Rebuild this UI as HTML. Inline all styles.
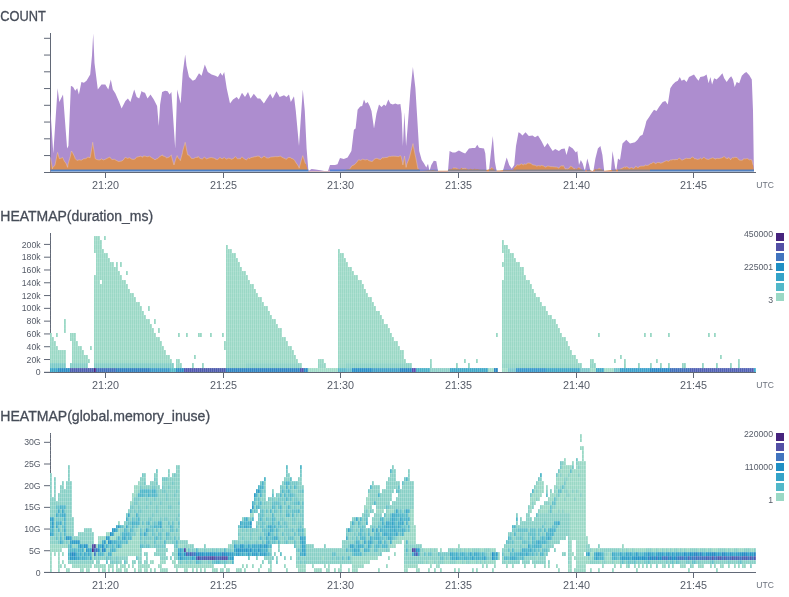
<!DOCTYPE html>
<html><head><meta charset="utf-8"><title>Query results</title>
<style>html,body{margin:0;padding:0;background:#fff;width:789px;height:597px;overflow:hidden}
svg{display:block}</style></head>
<body>
<svg width="789" height="597" viewBox="0 0 789 597" font-family='"Liberation Sans", Arial, sans-serif'>
<defs><pattern id="st" x="0" y="0" width="2" height="10" patternUnits="userSpaceOnUse"><rect x="1" y="0" width="1" height="10" fill="#fff" fill-opacity="0.2"/></pattern></defs>
<text x="0.3" y="20.9" font-size="14" fill="#464c58" text-anchor="start" textLength="45.6" lengthAdjust="spacingAndGlyphs" stroke="#464c58" stroke-width="0.3">COUNT</text>
<text x="0.3" y="221" font-size="14" fill="#464c58" text-anchor="start" textLength="152.8" lengthAdjust="spacingAndGlyphs" stroke="#464c58" stroke-width="0.3">HEATMAP(duration_ms)</text>
<text x="0.3" y="420.7" font-size="14" fill="#464c58" text-anchor="start" textLength="209.8" lengthAdjust="spacingAndGlyphs" stroke="#464c58" stroke-width="0.3">HEATMAP(global.memory_inuse)</text>
<rect x="50" y="33" width="1" height="140" fill="#626977"/><rect x="44" y="155.05" width="6" height="1" fill="#626977"/><rect x="44" y="138.3" width="6" height="1" fill="#626977"/><rect x="44" y="121.55" width="6" height="1" fill="#626977"/><rect x="44" y="104.8" width="6" height="1" fill="#626977"/><rect x="44" y="88.05" width="6" height="1" fill="#626977"/><rect x="44" y="71.3" width="6" height="1" fill="#626977"/><rect x="44" y="54.55" width="6" height="1" fill="#626977"/><rect x="44" y="37.8" width="6" height="1" fill="#626977"/>
<path fill="#ad8dcf" d="M50.5 171.6L50.5 111L53.3 153.6L57.6 88.3L59.3 102L61.3 98L63 94.6L67.1 148.6L68.4 146L70.9 85.8L73.1 87L75.2 90.8L77.2 88.3L78.9 94.6L81.4 82L83.9 82.8L86.5 80.8L90.2 74.5L92 55.6L93.2 33.5L94.5 63L97.8 89.6L101.5 84.5L105.3 84.5L108.3 89.6L110.8 79.5L112.8 89.6L115.3 93.3L119.1 102L121.6 108.4L125.4 100.9L127.9 98.4L130.4 102L134.2 89.6L136.7 97L139.2 98.4L141.7 90.8L142.5 92L145 92.8L147.5 98.4L150.5 94.6L153.8 99.6L157.1 105.9L158.8 126L160.1 104.6L162.1 92L165.1 90.8L167.6 91.3L169.6 94.6L171.4 92L172.7 111L175.2 148.6L177.2 89.6L179 97L180.7 103.4L182.7 73.2L185.2 54.4L186.5 65.7L189 77L192.8 80.8L195.3 79.5L199 73.2L201.6 75.7L204.8 64.4L207.8 72L211.6 74.5L215.4 75.7L217.9 77L220.4 72.7L222.4 75.7L224.2 72L226.7 88.3L230 103.4L233 99.6L236.7 97L238.8 99.6L242 92.8L245 97L248 92L250.6 98.4L253.8 93.8L257.6 98.4L260.1 98.4L263.9 103.4L266.4 99.6L270.2 93.8L272.7 98.4L276.5 91.3L279.7 97L284 95.3L286.5 97L289 94.6L290.8 102L294 96.3L295.8 111L299 146L300.8 118.4L302.8 89.6L304.8 111L306.6 148.6L308.4 171L311.6 169L315.4 169.5L320.4 170.2L324.2 171L328 171L330 165L335 165L337.5 164.2L340 158L343.8 159L347.6 157.4L351.4 151L353.9 129.8L355.6 128.5L357.6 109.7L360.2 106.4L362.2 105.9L364 99.6L365.7 103.4L367.7 102.1L369.7 105.9L371.5 111L374 128.5L376.5 113.4L379 104.6L381.5 107.1L384 104.6L385.8 105.9L388.3 99.6L390.3 103.4L392.8 104.6L395.3 103.4L397.8 104.6L400.4 103.9L401.6 113.4L402.9 146L404.4 112.2L406.1 146L407.9 123.5L410.4 90.8L412.9 67L415.4 88.3L417.4 121L419.2 151L421.7 160L424.2 163.7L426.3 167.4L428 163.7L429.5 171L431.3 165L433.8 160.7L436.3 161.2L438 171L448 171L449.6 151L452.6 152.4L455.2 152.4L458.9 150.6L462.7 152.4L465.2 153.6L469 148.6L472.7 148L475.2 148L477.3 144.8L479 147.8L484 148.6L485.3 153.6L486.6 171L489 170L490.8 153.6L492.8 136L494.8 161.2L496.6 171L502.9 171L504.9 163.7L506.7 157.4L509.2 164.9L511.7 168.7L514.2 164.9L516 146L518.5 132.3L520 133L522.5 135.5L525.5 132.3L528.8 136L532.6 135.5L535 137.3L538 135.5L541.4 141L544.6 147.3L547.6 143L550.2 147.3L552.7 151L555.2 149.1L558.9 151L561.5 149.1L564.7 148.6L566.5 154.9L569 146L572.8 148.6L575.8 152.4L577.3 151L579 165L580.8 160L582.8 163.7L584.8 171L587.3 158.6L589.1 165L590.4 171L593.4 171L595.4 158.6L597.9 148.6L600.4 146L602.4 154.9L604.2 171L611 171L612.5 151L614 160L615.2 168L616.3 170.7L618 158.6L620 160L622.5 143.6L626.3 139.8L630 143.6L635 142.3L637.6 139.8L640.1 136L642.6 134.8L645.2 126L646.4 121L649 117.2L651.4 113.4L654 109.7L656.5 110.9L659 107.1L662.7 102.1L665.3 100.9L667.8 104.6L670.3 88.3L672.8 84.5L675.3 82L677.8 80.8L679.8 77L681.6 80.8L684.1 79.5L686.6 82L689 77L691.5 75.7L694 74.5L696.5 78.3L698.5 80.8L700.3 77L704 76.2L706.6 74.5L708.6 83.3L710.4 77L712.1 84.5L714.1 78.3L716.6 79.5L719.2 77L722.4 73.2L724.2 78.3L726.7 82L729.2 78.3L731.2 76.2L733 79.5L734.7 87L736.7 82L739.2 83.3L741.8 75.7L744.3 73.2L746.3 72L749.3 75.2L751.8 79.5L753 111L753.8 165L754 172L754 171.6Z"/>
<path fill="#d98e54" d="M50.5 171.6L50.5 157.4L52.5 168.7L52.7 167.78L54.9 165.25L55 165L57.1 154.51L57.6 152.4L59.3 158.6L61.5 158.05L62.6 157.4L63.7 159.9L65.1 162.4L65.9 162.96L67.6 167.4L68.1 164.07L70.3 156.56L71.4 151L72.5 152.62L74.7 156.96L75.2 158.6L76.9 160.39L78.9 159.9L79.1 159.79L81.3 160.21L83.5 158.89L85.2 158.6L85.7 158.81L87.9 157.11L90.1 157.75L90.2 157.4L92.3 145.6L92.7 142.3L94.5 154.09L95.2 158.6L96.7 159.56L98.9 159.95L100.3 159.9L101.1 158.71L103.3 159.98L105.5 159.18L107.7 158.09L109.9 157.05L110.3 158.1L112.1 159.53L114.3 159.26L116.5 160.53L118.7 161.59L120.4 161.2L120.9 161.33L123.1 160.16L125.3 157.22L125.4 157.4L127.5 158.37L129.7 157.78L131.9 159.22L134.1 159.34L135.5 158.6L136.3 157.37L138.5 156.73L140.7 156.19L142.9 157.25L143 156.1L145.1 156.1L147.3 156.71L149.5 156.09L150 156.6L151.7 157.74L153.9 158.9L155 159.9L156.1 158.99L157.6 158.6L158.3 158.1L160.1 156.1L160.5 156.11L162.6 154.9L162.7 155.92L164.9 156.49L167.1 158.18L167.6 157.4L169.3 157.14L171.4 154.9L171.5 156.47L173.7 164.25L174 165L175.9 158.61L177.2 155.6L178.1 157.76L180.2 159.9L180.3 160.66L182.5 152.68L182.7 151L184.7 144.21L185.2 142.3L186.9 151.38L187.7 154.9L189.1 155.22L191.3 158.31L192.8 158.6L193.5 158.61L195.7 157.39L197.8 157.4L197.9 156.36L200.1 158.46L202.3 159L204.5 157.04L205.3 158.1L206.7 158.89L208.9 158.06L211.1 157.55L213.3 158L215.4 158.6L215.5 159.25L217.7 159.49L219.9 157.51L222.1 158.87L224.3 157.51L225.4 158.6L226.5 159.12L228.7 158.19L230.5 158.6L230.9 159.35L233.1 158.71L235.3 156.69L235.5 156.6L237.5 158.95L239.7 158.57L240 159.2L241.9 156.82L242.5 157.4L244.1 158.69L246.3 159.9L248.5 158L250 158.6L250.7 157.6L252.9 157.24L255.1 156.6L255.1 156.87L257.3 156.13L259.5 156.21L260.1 157.4L261.7 158.03L263.9 156.35L265.1 156.6L266.1 157.86L268.3 158.05L270.2 157.4L270.5 157.06L272.7 156.9L274.9 156.7L275.2 156.6L277.1 156.76L279.3 156.42L280.2 156.1L281.5 156.88L283.7 158.1L285.3 158.6L285.9 159.46L288.1 157.71L289 157.4L290.3 157.65L292.5 159.03L292.8 158.6L294.7 160.52L296.6 163.7L296.9 163.69L299 167.4L299.1 168.24L301.3 160.31L302.8 155.6L303.5 157.9L305.4 163.7L305.7 163.37L307.9 170.7L307.9 170.7L310 171.3L310.1 171.3L312.3 171.3L314.5 171.3L316.7 171.3L318.9 171.3L321.1 171.3L323.3 171.3L325.5 171.3L327.7 171.3L329.9 171.3L330 171.3L332.1 171.2L334.3 171.1L336.5 170.99L338.7 170.89L340.9 170.78L342.6 170.7L343.1 170.56L345.3 169.97L347.5 169.17L349.7 168.97L350 168.7L351.9 165.75L353.9 165L354.1 165.07L356.3 162.85L357.6 161.2L358.5 159.79L360.7 160.29L362.7 159.2L362.9 159.15L365.1 159.97L367.3 159.49L367.7 159.9L369.5 160.86L371.7 161.51L372.7 161.2L373.9 159.43L376.1 158.38L377.7 158.6L378.3 158.96L380.5 159.44L382.7 157.51L382.8 158.1L384.9 157.58L387.1 157.46L389.3 156.37L390.3 156.6L391.5 156.27L393.7 156.15L395.9 156.29L397.8 156.6L398.1 156.78L400.3 155.73L401 156.1L402.5 162.75L402.9 164.9L404.6 156.1L404.7 157.51L406.1 167.4L406.9 163.92L409.1 158.6L411.3 150.3L413 143.6L413.5 146.77L415.4 156.1L415.7 157.16L417.9 168.7L417.9 168.03L420.1 170.65L420.5 171L422.3 170.88L424.5 170.73L425 170.7L426.7 170.54L428.9 170.34L431.1 170.13L432.5 170L433.3 170.11L435.5 170.41L437.6 170.7L437.7 170.7L439.9 170.7L442.1 170.7L444.3 170.7L446.5 170.7L447.6 170.7L448.7 169.82L450.1 168.7L450.9 169.43L453.1 168.07L455.3 167.95L457.5 168.54L459.7 169.18L461.9 167.74L462.7 168.7L464.1 168.33L466.3 168.45L468.5 169.5L470.7 168.87L472.9 169.5L475.1 168.4L475.2 169.2L477.3 168.96L479.5 169.5L481.7 169.66L483.9 169.81L486.1 169.96L486.6 170L488.3 169.48L490.5 168.9L491.6 167.4L492.7 168.24L494.9 170.27L495.4 170.7L497.1 170.58L499.3 170.43L501.5 170.27L503.7 170.12L505.4 170L505.9 170L508.1 170L510.3 170L512.5 170L512.9 170L514.7 167.3L516.7 165.7L516.9 164.74L519.1 165.19L521.3 163.85L523.5 164.8L525 163.7L525.7 164.51L527.9 162.94L530.1 163.17L531.3 163.7L532.3 164.79L534.5 165.16L535 165L536.7 166.14L538.9 165.55L540.1 166.2L541.1 165.36L543.3 165.86L545.5 167.17L547.7 166.03L549.9 166.32L550.2 166.7L552.1 166.68L554.3 166.89L556.5 167.07L557.7 167.4L558.7 168.17L560.9 165.81L562.7 166.2L563.1 165.27L565.3 168.97L566.5 168.7L567.5 168.94L569.7 167.71L570.2 166.2L571.9 166.71L574.1 168.81L575.3 168.2L576.3 169.23L578.5 167.53L580.3 168.2L580.7 169.05L582.9 169.91L584.1 170.7L585.1 170.56L587.3 170.25L589.1 170L589.5 170.11L591.7 170.68L592.9 171L593.9 170.08L595.4 168.7L596.1 169.41L598.3 168.7L599.1 168.2L600.5 168.93L602.7 169.96L604.2 170.7L604.9 170.63L607.1 170.43L609.3 170.22L611.5 170.02L611.7 170L613.7 169.88L615.9 169.75L618.1 169.61L620 169.5L620.3 168.87L622.5 168.07L624.7 166.87L625 167.4L626.9 166.67L629.1 168.27L630 168.2L631.3 167.48L633.5 168.4L635.1 167.4L635.7 166.16L637.9 167.7L640.1 166.2L642.3 166.1L644.5 166.1L645.2 164.9L646.7 165.49L648.9 164.97L650.2 163.7L651.1 163.79L653.3 162.22L655.2 163.2L655.5 163.79L657.7 162.41L659.9 162.72L660.2 163.2L662.1 162.85L664.3 161.65L665.3 161.2L666.5 160.68L668.7 161.37L670.3 159.9L670.9 160.17L673.1 159.52L675.3 159.9L675.3 159.31L677.5 159.7L679 158.1L679.7 158.38L681.9 160.15L682.8 159.9L684.1 159.21L686.3 158.28L687.9 158.6L688.5 158.49L690.7 158.45L691.6 157.4L692.9 157.02L695.1 159.21L695.4 158.6L697.3 159.42L699.5 158.92L700.4 158.1L701.7 159L703.9 157.26L705.5 158.6L706.1 158.91L708.3 159.47L710.5 158.6L712.7 157.81L714.9 158.64L715 159.2L717.1 158.22L718 158.6L719.3 158.49L721.5 157.94L721.7 158.1L723.7 156.83L724.2 156.6L725.9 158.16L728 158.6L728.1 157.46L730.3 158.73L730.5 159.9L732.5 157.56L733 158.1L734.7 157.37L736.9 157.45L738 158.6L739.1 160.03L741.3 160.31L743 159.9L743.5 158.74L745.7 158.98L746.8 158.6L747.9 158.73L749.3 159.9L750.1 159.45L751.8 159.9L753 164.9L753.8 170L753.8 171.6Z"/>
<path fill="none" stroke="#efc9a6" stroke-width="0.6" stroke-opacity="0.8" d="M50.5 157.4L52.5 168.7L52.7 167.78L54.9 165.25L55 165L57.1 154.51L57.6 152.4L59.3 158.6L61.5 158.05L62.6 157.4L63.7 159.9L65.1 162.4L65.9 162.96L67.6 167.4L68.1 164.07L70.3 156.56L71.4 151L72.5 152.62L74.7 156.96L75.2 158.6L76.9 160.39L78.9 159.9L79.1 159.79L81.3 160.21L83.5 158.89L85.2 158.6L85.7 158.81L87.9 157.11L90.1 157.75L90.2 157.4L92.3 145.6L92.7 142.3L94.5 154.09L95.2 158.6L96.7 159.56L98.9 159.95L100.3 159.9L101.1 158.71L103.3 159.98L105.5 159.18L107.7 158.09L109.9 157.05L110.3 158.1L112.1 159.53L114.3 159.26L116.5 160.53L118.7 161.59L120.4 161.2L120.9 161.33L123.1 160.16L125.3 157.22L125.4 157.4L127.5 158.37L129.7 157.78L131.9 159.22L134.1 159.34L135.5 158.6L136.3 157.37L138.5 156.73L140.7 156.19L142.9 157.25L143 156.1L145.1 156.1L147.3 156.71L149.5 156.09L150 156.6L151.7 157.74L153.9 158.9L155 159.9L156.1 158.99L157.6 158.6L158.3 158.1L160.1 156.1L160.5 156.11L162.6 154.9L162.7 155.92L164.9 156.49L167.1 158.18L167.6 157.4L169.3 157.14L171.4 154.9L171.5 156.47L173.7 164.25L174 165L175.9 158.61L177.2 155.6L178.1 157.76L180.2 159.9L180.3 160.66L182.5 152.68L182.7 151L184.7 144.21L185.2 142.3L186.9 151.38L187.7 154.9L189.1 155.22L191.3 158.31L192.8 158.6L193.5 158.61L195.7 157.39L197.8 157.4L197.9 156.36L200.1 158.46L202.3 159L204.5 157.04L205.3 158.1L206.7 158.89L208.9 158.06L211.1 157.55L213.3 158L215.4 158.6L215.5 159.25L217.7 159.49L219.9 157.51L222.1 158.87L224.3 157.51L225.4 158.6L226.5 159.12L228.7 158.19L230.5 158.6L230.9 159.35L233.1 158.71L235.3 156.69L235.5 156.6L237.5 158.95L239.7 158.57L240 159.2L241.9 156.82L242.5 157.4L244.1 158.69L246.3 159.9L248.5 158L250 158.6L250.7 157.6L252.9 157.24L255.1 156.6L255.1 156.87L257.3 156.13L259.5 156.21L260.1 157.4L261.7 158.03L263.9 156.35L265.1 156.6L266.1 157.86L268.3 158.05L270.2 157.4L270.5 157.06L272.7 156.9L274.9 156.7L275.2 156.6L277.1 156.76L279.3 156.42L280.2 156.1L281.5 156.88L283.7 158.1L285.3 158.6L285.9 159.46L288.1 157.71L289 157.4L290.3 157.65L292.5 159.03L292.8 158.6L294.7 160.52L296.6 163.7L296.9 163.69L299 167.4L299.1 168.24L301.3 160.31L302.8 155.6L303.5 157.9L305.4 163.7L305.7 163.37M349.7 168.97L350 168.7L351.9 165.75L353.9 165L354.1 165.07L356.3 162.85L357.6 161.2L358.5 159.79L360.7 160.29L362.7 159.2L362.9 159.15L365.1 159.97L367.3 159.49L367.7 159.9L369.5 160.86L371.7 161.51L372.7 161.2L373.9 159.43L376.1 158.38L377.7 158.6L378.3 158.96L380.5 159.44L382.7 157.51L382.8 158.1L384.9 157.58L387.1 157.46L389.3 156.37L390.3 156.6L391.5 156.27L393.7 156.15L395.9 156.29L397.8 156.6L398.1 156.78L400.3 155.73L401 156.1L402.5 162.75L402.9 164.9L404.6 156.1L404.7 157.51L406.1 167.4L406.9 163.92L409.1 158.6L411.3 150.3L413 143.6L413.5 146.77L415.4 156.1L415.7 157.16L417.9 168.7L417.9 168.03M450.1 168.7M453.1 168.07L455.3 167.95L457.5 168.54M461.9 167.74L462.7 168.7L464.1 168.33L466.3 168.45M470.7 168.87M475.1 168.4M477.3 168.96M490.5 168.9L491.6 167.4L492.7 168.24M514.7 167.3L516.7 165.7L516.9 164.74L519.1 165.19L521.3 163.85L523.5 164.8L525 163.7L525.7 164.51L527.9 162.94L530.1 163.17L531.3 163.7L532.3 164.79L534.5 165.16L535 165L536.7 166.14L538.9 165.55L540.1 166.2L541.1 165.36L543.3 165.86L545.5 167.17L547.7 166.03L549.9 166.32L550.2 166.7L552.1 166.68L554.3 166.89L556.5 167.07L557.7 167.4L558.7 168.17L560.9 165.81L562.7 166.2L563.1 165.27L565.3 168.97L566.5 168.7L567.5 168.94L569.7 167.71L570.2 166.2L571.9 166.71L574.1 168.81L575.3 168.2M578.5 167.53L580.3 168.2M595.4 168.7M598.3 168.7L599.1 168.2L600.5 168.93M620.3 168.87L622.5 168.07L624.7 166.87L625 167.4L626.9 166.67L629.1 168.27L630 168.2L631.3 167.48L633.5 168.4L635.1 167.4L635.7 166.16L637.9 167.7L640.1 166.2L642.3 166.1L644.5 166.1L645.2 164.9L646.7 165.49L648.9 164.97L650.2 163.7L651.1 163.79L653.3 162.22L655.2 163.2L655.5 163.79L657.7 162.41L659.9 162.72L660.2 163.2L662.1 162.85L664.3 161.65L665.3 161.2L666.5 160.68L668.7 161.37L670.3 159.9L670.9 160.17L673.1 159.52L675.3 159.9L675.3 159.31L677.5 159.7L679 158.1L679.7 158.38L681.9 160.15L682.8 159.9L684.1 159.21L686.3 158.28L687.9 158.6L688.5 158.49L690.7 158.45L691.6 157.4L692.9 157.02L695.1 159.21L695.4 158.6L697.3 159.42L699.5 158.92L700.4 158.1L701.7 159L703.9 157.26L705.5 158.6L706.1 158.91L708.3 159.47L710.5 158.6L712.7 157.81L714.9 158.64L715 159.2L717.1 158.22L718 158.6L719.3 158.49L721.5 157.94L721.7 158.1L723.7 156.83L724.2 156.6L725.9 158.16L728 158.6L728.1 157.46L730.3 158.73L730.5 159.9L732.5 157.56L733 158.1L734.7 157.37L736.9 157.45L738 158.6L739.1 160.03L741.3 160.31L743 159.9L743.5 158.74L745.7 158.98L746.8 158.6L747.9 158.73L749.3 159.9L750.1 159.45L751.8 159.9L753 164.9"/>
<rect x="50.5" y="169.6" width="258" height="1.3" fill="#2b79d8" opacity="0.95"/>
<rect x="50.5" y="170.9" width="258" height="1.1" fill="#92b2dc" opacity="0.95"/>
<rect x="330" y="169.6" width="90" height="1.3" fill="#2b79d8" opacity="0.8"/>
<rect x="330" y="170.9" width="90" height="1.1" fill="#92b2dc" opacity="0.8"/>
<rect x="420" y="169.6" width="18" height="1.3" fill="#2b79d8" opacity="0.4"/>
<rect x="420" y="170.9" width="18" height="1.1" fill="#92b2dc" opacity="0.4"/>
<rect x="448" y="169.6" width="38.6" height="1.3" fill="#2b79d8" opacity="0.5"/>
<rect x="448" y="170.9" width="38.6" height="1.1" fill="#92b2dc" opacity="0.5"/>
<rect x="489" y="169.6" width="7.6" height="1.3" fill="#2b79d8" opacity="0.4"/>
<rect x="489" y="170.9" width="7.6" height="1.1" fill="#92b2dc" opacity="0.4"/>
<rect x="503" y="169.6" width="13" height="1.3" fill="#2b79d8" opacity="0.4"/>
<rect x="503" y="170.9" width="13" height="1.1" fill="#92b2dc" opacity="0.4"/>
<rect x="516" y="169.6" width="69" height="1.3" fill="#2b79d8" opacity="0.5"/>
<rect x="516" y="170.9" width="69" height="1.1" fill="#92b2dc" opacity="0.5"/>
<rect x="587" y="169.6" width="3.4" height="1.3" fill="#2b79d8" opacity="0.4"/>
<rect x="587" y="170.9" width="3.4" height="1.1" fill="#92b2dc" opacity="0.4"/>
<rect x="595" y="169.6" width="9" height="1.3" fill="#2b79d8" opacity="0.4"/>
<rect x="595" y="170.9" width="9" height="1.1" fill="#92b2dc" opacity="0.4"/>
<rect x="612" y="169.6" width="4" height="1.3" fill="#2b79d8" opacity="0.4"/>
<rect x="612" y="170.9" width="4" height="1.1" fill="#92b2dc" opacity="0.4"/>
<rect x="618" y="169.6" width="32" height="1.3" fill="#2b79d8" opacity="0.5"/>
<rect x="618" y="170.9" width="32" height="1.1" fill="#92b2dc" opacity="0.5"/>
<rect x="650" y="169.6" width="104" height="1.3" fill="#2b79d8" opacity="0.9"/>
<rect x="650" y="170.9" width="104" height="1.1" fill="#92b2dc" opacity="0.9"/>
<rect x="44" y="172" width="712" height="1" fill="#626977"/><rect x="105" y="173" width="1" height="5" fill="#626977"/><text x="105.5" y="188.9" font-size="10.8" fill="#555b67" text-anchor="middle">21:20</text><rect x="223" y="173" width="1" height="5" fill="#626977"/><text x="223.5" y="188.9" font-size="10.8" fill="#555b67" text-anchor="middle">21:25</text><rect x="340" y="173" width="1" height="5" fill="#626977"/><text x="340.5" y="188.9" font-size="10.8" fill="#555b67" text-anchor="middle">21:30</text><rect x="458" y="173" width="1" height="5" fill="#626977"/><text x="458.5" y="188.9" font-size="10.8" fill="#555b67" text-anchor="middle">21:35</text><rect x="576" y="173" width="1" height="5" fill="#626977"/><text x="576.5" y="188.9" font-size="10.8" fill="#555b67" text-anchor="middle">21:40</text><rect x="693" y="173" width="1" height="5" fill="#626977"/><text x="693.5" y="188.9" font-size="10.8" fill="#555b67" text-anchor="middle">21:45</text><text x="756.3" y="187.9" font-size="9.2" fill="#6b717c" text-anchor="start" textLength="17.6" lengthAdjust="spacingAndGlyphs">UTC</text>
<rect x="50" y="233" width="1" height="140" fill="#626977"/><rect x="44" y="371.8" width="6" height="1" fill="#626977"/><text x="40.6" y="375.4" font-size="8.7" fill="#555b67" text-anchor="end">0</text><rect x="44" y="359.01" width="6" height="1" fill="#626977"/><text x="40.6" y="362.61" font-size="8.7" fill="#555b67" text-anchor="end">20k</text><rect x="44" y="346.22" width="6" height="1" fill="#626977"/><text x="40.6" y="349.82" font-size="8.7" fill="#555b67" text-anchor="end">40k</text><rect x="44" y="333.43" width="6" height="1" fill="#626977"/><text x="40.6" y="337.03" font-size="8.7" fill="#555b67" text-anchor="end">60k</text><rect x="44" y="320.64" width="6" height="1" fill="#626977"/><text x="40.6" y="324.24" font-size="8.7" fill="#555b67" text-anchor="end">80k</text><rect x="44" y="307.85" width="6" height="1" fill="#626977"/><text x="40.6" y="311.45" font-size="8.7" fill="#555b67" text-anchor="end">100k</text><rect x="44" y="295.06" width="6" height="1" fill="#626977"/><text x="40.6" y="298.66" font-size="8.7" fill="#555b67" text-anchor="end">120k</text><rect x="44" y="282.27" width="6" height="1" fill="#626977"/><text x="40.6" y="285.87" font-size="8.7" fill="#555b67" text-anchor="end">140k</text><rect x="44" y="269.48" width="6" height="1" fill="#626977"/><text x="40.6" y="273.08" font-size="8.7" fill="#555b67" text-anchor="end">160k</text><rect x="44" y="256.69" width="6" height="1" fill="#626977"/><text x="40.6" y="260.29" font-size="8.7" fill="#555b67" text-anchor="end">180k</text><rect x="44" y="243.9" width="6" height="1" fill="#626977"/><text x="40.6" y="247.5" font-size="8.7" fill="#555b67" text-anchor="end">200k</text>
<g shape-rendering="crispEdges"><path fill="#7acac7" d="M50 363.3h2v4.4h-2zM52 363.3h2v4.4h-2zM54 363.3h2v4.4h-2zM56 363.3h2v4.4h-2zM58 363.3h2v4.4h-2zM60 363.3h2v4.4h-2zM62 363.3h2v4.4h-2zM64 363.3h2v4.4h-2z"/><path fill="#9ad8c5" d="M50 358.9h2v4.4h-2zM50 354.5h2v4.4h-2zM50 350.1h2v4.4h-2zM50 345.7h2v4.4h-2zM50 341.3h2v4.4h-2zM50 336.9h2v4.4h-2zM50 332.5h2v4.4h-2zM52 358.9h2v4.4h-2zM52 354.5h2v4.4h-2zM52 350.1h2v4.4h-2zM52 345.7h2v4.4h-2zM52 341.3h2v4.4h-2zM52 336.9h2v4.4h-2zM54 358.9h2v4.4h-2zM54 354.5h2v4.4h-2zM54 350.1h2v4.4h-2zM54 345.7h2v4.4h-2zM54 341.3h2v4.4h-2zM56 358.9h2v4.4h-2zM56 354.5h2v4.4h-2zM56 350.1h2v4.4h-2zM56 345.7h2v4.4h-2zM58 358.9h2v4.4h-2zM58 354.5h2v4.4h-2zM58 350.1h2v4.4h-2zM60 358.9h2v4.4h-2zM60 354.5h2v4.4h-2zM60 350.1h2v4.4h-2zM62 358.9h2v4.4h-2zM62 354.5h2v4.4h-2zM62 350.1h2v4.4h-2zM64 358.9h2v4.4h-2zM64 354.5h2v4.4h-2zM64 350.1h2v4.4h-2zM70 336.9h2v4.4h-2zM70 332.5h2v4.4h-2zM72 358.9h2v4.4h-2zM72 354.5h2v4.4h-2zM72 350.1h2v4.4h-2zM72 345.7h2v4.4h-2zM72 341.3h2v4.4h-2zM72 336.9h2v4.4h-2zM72 332.5h2v4.4h-2zM74 358.9h2v4.4h-2zM74 354.5h2v4.4h-2zM74 350.1h2v4.4h-2zM74 345.7h2v4.4h-2zM74 341.3h2v4.4h-2zM74 336.9h2v4.4h-2zM74 332.5h2v4.4h-2zM76 358.9h2v4.4h-2zM76 354.5h2v4.4h-2zM76 350.1h2v4.4h-2zM76 345.7h2v4.4h-2zM76 341.3h2v4.4h-2zM78 358.9h2v4.4h-2zM78 354.5h2v4.4h-2zM78 350.1h2v4.4h-2zM78 345.7h2v4.4h-2zM80 358.9h2v4.4h-2zM80 354.5h2v4.4h-2zM80 350.1h2v4.4h-2zM80 345.7h2v4.4h-2zM82 358.9h2v4.4h-2zM82 354.5h2v4.4h-2zM82 350.1h2v4.4h-2zM84 358.9h2v4.4h-2zM84 354.5h2v4.4h-2zM86 358.9h2v4.4h-2zM86 354.5h2v4.4h-2zM88 358.9h2v4.4h-2zM94 358.9h2v4.4h-2zM94 354.5h2v4.4h-2zM94 350.1h2v4.4h-2zM94 345.7h2v4.4h-2zM94 341.3h2v4.4h-2zM94 336.9h2v4.4h-2zM94 332.5h2v4.4h-2zM94 328.1h2v4.4h-2zM94 323.7h2v4.4h-2zM94 319.3h2v4.4h-2zM94 314.9h2v4.4h-2zM94 310.5h2v4.4h-2zM94 306.1h2v4.4h-2zM94 301.7h2v4.4h-2zM94 297.3h2v4.4h-2zM94 292.9h2v4.4h-2zM94 288.5h2v4.4h-2zM94 284.1h2v4.4h-2zM94 279.7h2v4.4h-2zM94 275.3h2v4.4h-2zM94 248.9h2v4.4h-2zM94 244.5h2v4.4h-2zM94 240.1h2v4.4h-2zM94 235.7h2v4.4h-2zM96 358.9h2v4.4h-2zM96 354.5h2v4.4h-2zM96 350.1h2v4.4h-2zM96 345.7h2v4.4h-2zM96 341.3h2v4.4h-2zM96 336.9h2v4.4h-2zM96 332.5h2v4.4h-2zM96 328.1h2v4.4h-2zM96 323.7h2v4.4h-2zM96 319.3h2v4.4h-2zM96 314.9h2v4.4h-2zM96 310.5h2v4.4h-2zM96 306.1h2v4.4h-2zM96 301.7h2v4.4h-2zM96 297.3h2v4.4h-2zM96 292.9h2v4.4h-2zM96 288.5h2v4.4h-2zM96 284.1h2v4.4h-2zM96 279.7h2v4.4h-2zM96 275.3h2v4.4h-2zM96 270.9h2v4.4h-2zM96 266.5h2v4.4h-2zM96 262.1h2v4.4h-2zM96 257.7h2v4.4h-2zM96 253.3h2v4.4h-2zM96 248.9h2v4.4h-2zM96 244.5h2v4.4h-2zM96 240.1h2v4.4h-2zM96 235.7h2v4.4h-2zM98 358.9h2v4.4h-2zM98 354.5h2v4.4h-2zM98 350.1h2v4.4h-2zM98 345.7h2v4.4h-2zM98 341.3h2v4.4h-2zM98 336.9h2v4.4h-2zM98 332.5h2v4.4h-2zM98 328.1h2v4.4h-2zM98 323.7h2v4.4h-2zM98 319.3h2v4.4h-2zM98 314.9h2v4.4h-2zM98 310.5h2v4.4h-2zM98 306.1h2v4.4h-2zM98 301.7h2v4.4h-2zM98 297.3h2v4.4h-2zM98 292.9h2v4.4h-2zM98 288.5h2v4.4h-2zM98 284.1h2v4.4h-2zM98 279.7h2v4.4h-2zM98 275.3h2v4.4h-2zM98 270.9h2v4.4h-2zM98 266.5h2v4.4h-2zM98 262.1h2v4.4h-2zM98 257.7h2v4.4h-2zM98 253.3h2v4.4h-2zM98 248.9h2v4.4h-2zM98 244.5h2v4.4h-2zM98 240.1h2v4.4h-2zM98 235.7h2v4.4h-2zM100 358.9h2v4.4h-2zM100 354.5h2v4.4h-2zM100 350.1h2v4.4h-2zM100 345.7h2v4.4h-2zM100 341.3h2v4.4h-2zM100 336.9h2v4.4h-2zM100 332.5h2v4.4h-2zM100 328.1h2v4.4h-2zM100 323.7h2v4.4h-2zM100 319.3h2v4.4h-2zM100 314.9h2v4.4h-2zM100 310.5h2v4.4h-2zM100 306.1h2v4.4h-2zM100 301.7h2v4.4h-2zM100 297.3h2v4.4h-2zM100 292.9h2v4.4h-2zM100 288.5h2v4.4h-2zM100 284.1h2v4.4h-2zM100 275.3h2v4.4h-2zM100 270.9h2v4.4h-2zM100 266.5h2v4.4h-2zM100 262.1h2v4.4h-2zM100 257.7h2v4.4h-2zM100 253.3h2v4.4h-2zM100 248.9h2v4.4h-2zM100 244.5h2v4.4h-2zM100 240.1h2v4.4h-2zM102 358.9h2v4.4h-2zM102 354.5h2v4.4h-2zM102 350.1h2v4.4h-2zM102 345.7h2v4.4h-2zM102 341.3h2v4.4h-2zM102 336.9h2v4.4h-2zM102 332.5h2v4.4h-2zM102 328.1h2v4.4h-2zM102 323.7h2v4.4h-2zM102 319.3h2v4.4h-2zM102 314.9h2v4.4h-2zM102 310.5h2v4.4h-2zM102 306.1h2v4.4h-2zM102 301.7h2v4.4h-2zM102 297.3h2v4.4h-2zM102 292.9h2v4.4h-2zM102 288.5h2v4.4h-2zM102 284.1h2v4.4h-2zM102 279.7h2v4.4h-2zM102 275.3h2v4.4h-2zM102 270.9h2v4.4h-2zM102 266.5h2v4.4h-2zM102 262.1h2v4.4h-2zM102 257.7h2v4.4h-2zM102 253.3h2v4.4h-2zM102 248.9h2v4.4h-2zM104 358.9h2v4.4h-2zM104 354.5h2v4.4h-2zM104 350.1h2v4.4h-2zM104 345.7h2v4.4h-2zM104 341.3h2v4.4h-2zM104 336.9h2v4.4h-2zM104 332.5h2v4.4h-2zM104 328.1h2v4.4h-2zM104 323.7h2v4.4h-2zM104 319.3h2v4.4h-2zM104 314.9h2v4.4h-2zM104 310.5h2v4.4h-2zM104 306.1h2v4.4h-2zM104 301.7h2v4.4h-2zM104 297.3h2v4.4h-2zM104 292.9h2v4.4h-2zM104 288.5h2v4.4h-2zM104 284.1h2v4.4h-2zM104 279.7h2v4.4h-2zM104 275.3h2v4.4h-2zM104 270.9h2v4.4h-2zM104 266.5h2v4.4h-2zM104 262.1h2v4.4h-2zM104 257.7h2v4.4h-2zM104 253.3h2v4.4h-2zM106 358.9h2v4.4h-2zM106 354.5h2v4.4h-2zM106 350.1h2v4.4h-2zM106 345.7h2v4.4h-2zM106 341.3h2v4.4h-2zM106 336.9h2v4.4h-2zM106 332.5h2v4.4h-2zM106 328.1h2v4.4h-2zM106 323.7h2v4.4h-2zM106 319.3h2v4.4h-2zM106 314.9h2v4.4h-2zM106 310.5h2v4.4h-2zM106 306.1h2v4.4h-2zM106 301.7h2v4.4h-2zM106 297.3h2v4.4h-2zM106 292.9h2v4.4h-2zM106 288.5h2v4.4h-2zM106 284.1h2v4.4h-2zM106 279.7h2v4.4h-2zM106 275.3h2v4.4h-2zM106 270.9h2v4.4h-2zM106 266.5h2v4.4h-2zM106 262.1h2v4.4h-2zM106 257.7h2v4.4h-2zM106 253.3h2v4.4h-2zM108 358.9h2v4.4h-2zM108 354.5h2v4.4h-2zM108 350.1h2v4.4h-2zM108 345.7h2v4.4h-2zM108 341.3h2v4.4h-2zM108 336.9h2v4.4h-2zM108 332.5h2v4.4h-2zM108 328.1h2v4.4h-2zM108 323.7h2v4.4h-2zM108 319.3h2v4.4h-2zM108 314.9h2v4.4h-2zM108 310.5h2v4.4h-2zM108 306.1h2v4.4h-2zM108 301.7h2v4.4h-2zM108 297.3h2v4.4h-2zM108 292.9h2v4.4h-2zM108 288.5h2v4.4h-2zM108 284.1h2v4.4h-2zM108 279.7h2v4.4h-2zM108 275.3h2v4.4h-2zM108 270.9h2v4.4h-2zM108 266.5h2v4.4h-2zM108 262.1h2v4.4h-2zM108 257.7h2v4.4h-2zM110 358.9h2v4.4h-2zM110 354.5h2v4.4h-2zM110 350.1h2v4.4h-2zM110 345.7h2v4.4h-2zM110 341.3h2v4.4h-2zM110 336.9h2v4.4h-2zM110 332.5h2v4.4h-2zM110 328.1h2v4.4h-2zM110 323.7h2v4.4h-2zM110 319.3h2v4.4h-2zM110 314.9h2v4.4h-2zM110 310.5h2v4.4h-2zM110 306.1h2v4.4h-2zM110 301.7h2v4.4h-2zM110 297.3h2v4.4h-2zM110 292.9h2v4.4h-2zM110 288.5h2v4.4h-2zM110 284.1h2v4.4h-2zM110 279.7h2v4.4h-2zM110 275.3h2v4.4h-2zM110 270.9h2v4.4h-2zM110 266.5h2v4.4h-2zM110 262.1h2v4.4h-2zM112 358.9h2v4.4h-2zM112 354.5h2v4.4h-2zM112 350.1h2v4.4h-2zM112 345.7h2v4.4h-2zM112 341.3h2v4.4h-2zM112 336.9h2v4.4h-2zM112 332.5h2v4.4h-2zM112 328.1h2v4.4h-2zM112 323.7h2v4.4h-2zM112 319.3h2v4.4h-2zM112 314.9h2v4.4h-2zM112 310.5h2v4.4h-2zM112 306.1h2v4.4h-2zM112 301.7h2v4.4h-2zM112 297.3h2v4.4h-2zM112 292.9h2v4.4h-2zM112 288.5h2v4.4h-2zM112 284.1h2v4.4h-2zM112 279.7h2v4.4h-2zM112 275.3h2v4.4h-2zM112 270.9h2v4.4h-2zM112 266.5h2v4.4h-2zM112 262.1h2v4.4h-2zM114 358.9h2v4.4h-2zM114 354.5h2v4.4h-2zM114 350.1h2v4.4h-2zM114 345.7h2v4.4h-2zM114 341.3h2v4.4h-2zM114 336.9h2v4.4h-2zM114 332.5h2v4.4h-2zM114 328.1h2v4.4h-2zM114 323.7h2v4.4h-2zM114 319.3h2v4.4h-2zM114 314.9h2v4.4h-2zM114 310.5h2v4.4h-2zM114 306.1h2v4.4h-2zM114 301.7h2v4.4h-2zM114 297.3h2v4.4h-2zM114 292.9h2v4.4h-2zM114 288.5h2v4.4h-2zM114 284.1h2v4.4h-2zM114 279.7h2v4.4h-2zM114 275.3h2v4.4h-2zM114 270.9h2v4.4h-2zM114 266.5h2v4.4h-2zM116 358.9h2v4.4h-2zM116 354.5h2v4.4h-2zM116 350.1h2v4.4h-2zM116 345.7h2v4.4h-2zM116 341.3h2v4.4h-2zM116 336.9h2v4.4h-2zM116 332.5h2v4.4h-2zM116 328.1h2v4.4h-2zM116 323.7h2v4.4h-2zM116 319.3h2v4.4h-2zM116 314.9h2v4.4h-2zM116 310.5h2v4.4h-2zM116 306.1h2v4.4h-2zM116 301.7h2v4.4h-2zM116 297.3h2v4.4h-2zM116 292.9h2v4.4h-2zM116 288.5h2v4.4h-2zM116 284.1h2v4.4h-2zM116 279.7h2v4.4h-2zM116 275.3h2v4.4h-2zM116 270.9h2v4.4h-2zM116 266.5h2v4.4h-2zM118 358.9h2v4.4h-2zM118 354.5h2v4.4h-2zM118 350.1h2v4.4h-2zM118 345.7h2v4.4h-2zM118 341.3h2v4.4h-2zM118 336.9h2v4.4h-2zM118 332.5h2v4.4h-2zM118 328.1h2v4.4h-2zM118 323.7h2v4.4h-2zM118 319.3h2v4.4h-2zM118 314.9h2v4.4h-2zM118 310.5h2v4.4h-2zM118 306.1h2v4.4h-2zM118 301.7h2v4.4h-2zM118 297.3h2v4.4h-2zM118 292.9h2v4.4h-2zM118 288.5h2v4.4h-2zM118 284.1h2v4.4h-2zM118 279.7h2v4.4h-2zM118 275.3h2v4.4h-2zM118 270.9h2v4.4h-2zM120 358.9h2v4.4h-2zM120 354.5h2v4.4h-2zM120 350.1h2v4.4h-2zM120 345.7h2v4.4h-2zM120 341.3h2v4.4h-2zM120 336.9h2v4.4h-2zM120 332.5h2v4.4h-2zM120 328.1h2v4.4h-2zM120 323.7h2v4.4h-2zM120 319.3h2v4.4h-2zM120 314.9h2v4.4h-2zM120 310.5h2v4.4h-2zM120 306.1h2v4.4h-2zM120 301.7h2v4.4h-2zM120 297.3h2v4.4h-2zM120 292.9h2v4.4h-2zM120 288.5h2v4.4h-2zM120 284.1h2v4.4h-2zM120 279.7h2v4.4h-2zM120 275.3h2v4.4h-2zM122 358.9h2v4.4h-2zM122 354.5h2v4.4h-2zM122 350.1h2v4.4h-2zM122 345.7h2v4.4h-2zM122 341.3h2v4.4h-2zM122 336.9h2v4.4h-2zM122 332.5h2v4.4h-2zM122 328.1h2v4.4h-2zM122 323.7h2v4.4h-2zM122 319.3h2v4.4h-2zM122 314.9h2v4.4h-2zM122 310.5h2v4.4h-2zM122 306.1h2v4.4h-2zM122 301.7h2v4.4h-2zM122 297.3h2v4.4h-2zM122 292.9h2v4.4h-2zM122 288.5h2v4.4h-2zM122 284.1h2v4.4h-2zM122 279.7h2v4.4h-2zM124 358.9h2v4.4h-2zM124 354.5h2v4.4h-2zM124 350.1h2v4.4h-2zM124 345.7h2v4.4h-2zM124 341.3h2v4.4h-2zM124 336.9h2v4.4h-2zM124 332.5h2v4.4h-2zM124 328.1h2v4.4h-2zM124 323.7h2v4.4h-2zM124 319.3h2v4.4h-2zM124 314.9h2v4.4h-2zM124 310.5h2v4.4h-2zM124 306.1h2v4.4h-2zM124 301.7h2v4.4h-2zM124 297.3h2v4.4h-2zM124 292.9h2v4.4h-2zM124 288.5h2v4.4h-2zM124 284.1h2v4.4h-2zM124 279.7h2v4.4h-2zM126 358.9h2v4.4h-2zM126 354.5h2v4.4h-2zM126 350.1h2v4.4h-2zM126 345.7h2v4.4h-2zM126 341.3h2v4.4h-2zM126 336.9h2v4.4h-2zM126 332.5h2v4.4h-2zM126 328.1h2v4.4h-2zM126 323.7h2v4.4h-2zM126 319.3h2v4.4h-2zM126 314.9h2v4.4h-2zM126 310.5h2v4.4h-2zM126 306.1h2v4.4h-2zM126 301.7h2v4.4h-2zM126 297.3h2v4.4h-2zM126 292.9h2v4.4h-2zM126 288.5h2v4.4h-2zM126 284.1h2v4.4h-2zM128 358.9h2v4.4h-2zM128 354.5h2v4.4h-2zM128 350.1h2v4.4h-2zM128 345.7h2v4.4h-2zM128 341.3h2v4.4h-2zM128 336.9h2v4.4h-2zM128 332.5h2v4.4h-2zM128 328.1h2v4.4h-2zM128 323.7h2v4.4h-2zM128 319.3h2v4.4h-2zM128 314.9h2v4.4h-2zM128 310.5h2v4.4h-2zM128 306.1h2v4.4h-2zM128 301.7h2v4.4h-2zM128 297.3h2v4.4h-2zM128 292.9h2v4.4h-2zM128 288.5h2v4.4h-2zM130 358.9h2v4.4h-2zM130 354.5h2v4.4h-2zM130 350.1h2v4.4h-2zM130 345.7h2v4.4h-2zM130 341.3h2v4.4h-2zM130 336.9h2v4.4h-2zM130 332.5h2v4.4h-2zM130 328.1h2v4.4h-2zM130 323.7h2v4.4h-2zM130 319.3h2v4.4h-2zM130 314.9h2v4.4h-2zM130 310.5h2v4.4h-2zM130 306.1h2v4.4h-2zM130 301.7h2v4.4h-2zM130 297.3h2v4.4h-2zM130 292.9h2v4.4h-2zM132 358.9h2v4.4h-2zM132 354.5h2v4.4h-2zM132 350.1h2v4.4h-2zM132 345.7h2v4.4h-2zM132 341.3h2v4.4h-2zM132 336.9h2v4.4h-2zM132 332.5h2v4.4h-2zM132 328.1h2v4.4h-2zM132 323.7h2v4.4h-2zM132 319.3h2v4.4h-2zM132 314.9h2v4.4h-2zM132 310.5h2v4.4h-2zM132 306.1h2v4.4h-2zM132 301.7h2v4.4h-2zM132 297.3h2v4.4h-2zM132 292.9h2v4.4h-2zM134 358.9h2v4.4h-2zM134 354.5h2v4.4h-2zM134 350.1h2v4.4h-2zM134 345.7h2v4.4h-2zM134 341.3h2v4.4h-2zM134 336.9h2v4.4h-2zM134 332.5h2v4.4h-2zM134 328.1h2v4.4h-2zM134 323.7h2v4.4h-2zM134 319.3h2v4.4h-2zM134 314.9h2v4.4h-2zM134 310.5h2v4.4h-2zM134 306.1h2v4.4h-2zM134 301.7h2v4.4h-2zM134 297.3h2v4.4h-2zM136 358.9h2v4.4h-2zM136 354.5h2v4.4h-2zM136 350.1h2v4.4h-2zM136 345.7h2v4.4h-2zM136 341.3h2v4.4h-2zM136 336.9h2v4.4h-2zM136 332.5h2v4.4h-2zM136 328.1h2v4.4h-2zM136 323.7h2v4.4h-2zM136 319.3h2v4.4h-2zM136 314.9h2v4.4h-2zM136 310.5h2v4.4h-2zM136 306.1h2v4.4h-2zM136 301.7h2v4.4h-2zM138 358.9h2v4.4h-2zM138 354.5h2v4.4h-2zM138 350.1h2v4.4h-2zM138 345.7h2v4.4h-2zM138 341.3h2v4.4h-2zM138 336.9h2v4.4h-2zM138 332.5h2v4.4h-2zM138 328.1h2v4.4h-2zM138 323.7h2v4.4h-2zM138 319.3h2v4.4h-2zM138 314.9h2v4.4h-2zM138 310.5h2v4.4h-2zM138 306.1h2v4.4h-2zM138 301.7h2v4.4h-2zM140 358.9h2v4.4h-2zM140 354.5h2v4.4h-2zM140 350.1h2v4.4h-2zM140 345.7h2v4.4h-2zM140 341.3h2v4.4h-2zM140 336.9h2v4.4h-2zM140 332.5h2v4.4h-2zM140 328.1h2v4.4h-2zM140 323.7h2v4.4h-2zM140 319.3h2v4.4h-2zM140 314.9h2v4.4h-2zM140 310.5h2v4.4h-2zM140 306.1h2v4.4h-2zM142 358.9h2v4.4h-2zM142 354.5h2v4.4h-2zM142 350.1h2v4.4h-2zM142 345.7h2v4.4h-2zM142 341.3h2v4.4h-2zM142 336.9h2v4.4h-2zM142 332.5h2v4.4h-2zM142 328.1h2v4.4h-2zM142 323.7h2v4.4h-2zM142 319.3h2v4.4h-2zM142 314.9h2v4.4h-2zM142 310.5h2v4.4h-2zM144 358.9h2v4.4h-2zM144 354.5h2v4.4h-2zM144 350.1h2v4.4h-2zM144 345.7h2v4.4h-2zM144 341.3h2v4.4h-2zM144 336.9h2v4.4h-2zM144 332.5h2v4.4h-2zM144 328.1h2v4.4h-2zM144 323.7h2v4.4h-2zM144 319.3h2v4.4h-2zM144 314.9h2v4.4h-2zM146 358.9h2v4.4h-2zM146 354.5h2v4.4h-2zM146 350.1h2v4.4h-2zM146 345.7h2v4.4h-2zM146 341.3h2v4.4h-2zM146 336.9h2v4.4h-2zM146 332.5h2v4.4h-2zM146 328.1h2v4.4h-2zM146 323.7h2v4.4h-2zM146 319.3h2v4.4h-2zM148 358.9h2v4.4h-2zM148 354.5h2v4.4h-2zM148 350.1h2v4.4h-2zM148 345.7h2v4.4h-2zM148 341.3h2v4.4h-2zM148 336.9h2v4.4h-2zM148 332.5h2v4.4h-2zM148 328.1h2v4.4h-2zM148 323.7h2v4.4h-2zM148 319.3h2v4.4h-2zM150 358.9h2v4.4h-2zM150 354.5h2v4.4h-2zM150 350.1h2v4.4h-2zM150 345.7h2v4.4h-2zM150 341.3h2v4.4h-2zM150 336.9h2v4.4h-2zM150 332.5h2v4.4h-2zM150 328.1h2v4.4h-2zM150 323.7h2v4.4h-2zM152 358.9h2v4.4h-2zM152 354.5h2v4.4h-2zM152 350.1h2v4.4h-2zM152 345.7h2v4.4h-2zM152 341.3h2v4.4h-2zM152 336.9h2v4.4h-2zM152 332.5h2v4.4h-2zM152 328.1h2v4.4h-2zM154 358.9h2v4.4h-2zM154 354.5h2v4.4h-2zM154 350.1h2v4.4h-2zM154 345.7h2v4.4h-2zM154 341.3h2v4.4h-2zM154 336.9h2v4.4h-2zM154 332.5h2v4.4h-2zM156 358.9h2v4.4h-2zM156 354.5h2v4.4h-2zM156 350.1h2v4.4h-2zM156 345.7h2v4.4h-2zM156 341.3h2v4.4h-2zM156 336.9h2v4.4h-2zM158 358.9h2v4.4h-2zM158 354.5h2v4.4h-2zM158 350.1h2v4.4h-2zM158 345.7h2v4.4h-2zM158 341.3h2v4.4h-2zM158 336.9h2v4.4h-2zM160 358.9h2v4.4h-2zM160 354.5h2v4.4h-2zM160 350.1h2v4.4h-2zM160 345.7h2v4.4h-2zM160 341.3h2v4.4h-2zM162 358.9h2v4.4h-2zM162 354.5h2v4.4h-2zM162 350.1h2v4.4h-2zM162 345.7h2v4.4h-2zM164 358.9h2v4.4h-2zM164 354.5h2v4.4h-2zM164 350.1h2v4.4h-2zM166 358.9h2v4.4h-2zM166 354.5h2v4.4h-2zM168 358.9h2v4.4h-2zM168 354.5h2v4.4h-2zM170 358.9h2v4.4h-2zM226 358.9h2v4.4h-2zM226 354.5h2v4.4h-2zM226 350.1h2v4.4h-2zM226 345.7h2v4.4h-2zM226 341.3h2v4.4h-2zM226 336.9h2v4.4h-2zM226 332.5h2v4.4h-2zM226 328.1h2v4.4h-2zM226 323.7h2v4.4h-2zM226 319.3h2v4.4h-2zM226 314.9h2v4.4h-2zM226 310.5h2v4.4h-2zM226 306.1h2v4.4h-2zM226 301.7h2v4.4h-2zM226 297.3h2v4.4h-2zM226 292.9h2v4.4h-2zM226 288.5h2v4.4h-2zM226 284.1h2v4.4h-2zM226 279.7h2v4.4h-2zM226 275.3h2v4.4h-2zM226 270.9h2v4.4h-2zM226 266.5h2v4.4h-2zM226 262.1h2v4.4h-2zM226 257.7h2v4.4h-2zM226 253.3h2v4.4h-2zM226 248.9h2v4.4h-2zM226 244.5h2v4.4h-2zM228 358.9h2v4.4h-2zM228 354.5h2v4.4h-2zM228 350.1h2v4.4h-2zM228 345.7h2v4.4h-2zM228 341.3h2v4.4h-2zM228 336.9h2v4.4h-2zM228 332.5h2v4.4h-2zM228 328.1h2v4.4h-2zM228 323.7h2v4.4h-2zM228 319.3h2v4.4h-2zM228 314.9h2v4.4h-2zM228 310.5h2v4.4h-2zM228 306.1h2v4.4h-2zM228 301.7h2v4.4h-2zM228 297.3h2v4.4h-2zM228 292.9h2v4.4h-2zM228 288.5h2v4.4h-2zM228 284.1h2v4.4h-2zM228 279.7h2v4.4h-2zM228 275.3h2v4.4h-2zM228 270.9h2v4.4h-2zM228 266.5h2v4.4h-2zM228 262.1h2v4.4h-2zM228 257.7h2v4.4h-2zM228 253.3h2v4.4h-2zM228 248.9h2v4.4h-2zM230 358.9h2v4.4h-2zM230 354.5h2v4.4h-2zM230 350.1h2v4.4h-2zM230 345.7h2v4.4h-2zM230 341.3h2v4.4h-2zM230 336.9h2v4.4h-2zM230 332.5h2v4.4h-2zM230 328.1h2v4.4h-2zM230 323.7h2v4.4h-2zM230 319.3h2v4.4h-2zM230 314.9h2v4.4h-2zM230 310.5h2v4.4h-2zM230 306.1h2v4.4h-2zM230 301.7h2v4.4h-2zM230 297.3h2v4.4h-2zM230 292.9h2v4.4h-2zM230 288.5h2v4.4h-2zM230 284.1h2v4.4h-2zM230 279.7h2v4.4h-2zM230 275.3h2v4.4h-2zM230 270.9h2v4.4h-2zM230 266.5h2v4.4h-2zM230 262.1h2v4.4h-2zM230 257.7h2v4.4h-2zM230 253.3h2v4.4h-2zM230 248.9h2v4.4h-2zM232 358.9h2v4.4h-2zM232 354.5h2v4.4h-2zM232 350.1h2v4.4h-2zM232 345.7h2v4.4h-2zM232 341.3h2v4.4h-2zM232 336.9h2v4.4h-2zM232 332.5h2v4.4h-2zM232 328.1h2v4.4h-2zM232 323.7h2v4.4h-2zM232 319.3h2v4.4h-2zM232 314.9h2v4.4h-2zM232 310.5h2v4.4h-2zM232 306.1h2v4.4h-2zM232 301.7h2v4.4h-2zM232 297.3h2v4.4h-2zM232 292.9h2v4.4h-2zM232 288.5h2v4.4h-2zM232 284.1h2v4.4h-2zM232 279.7h2v4.4h-2zM232 275.3h2v4.4h-2zM232 270.9h2v4.4h-2zM232 266.5h2v4.4h-2zM232 262.1h2v4.4h-2zM232 257.7h2v4.4h-2zM232 253.3h2v4.4h-2zM234 358.9h2v4.4h-2zM234 354.5h2v4.4h-2zM234 350.1h2v4.4h-2zM234 345.7h2v4.4h-2zM234 341.3h2v4.4h-2zM234 336.9h2v4.4h-2zM234 332.5h2v4.4h-2zM234 328.1h2v4.4h-2zM234 323.7h2v4.4h-2zM234 319.3h2v4.4h-2zM234 314.9h2v4.4h-2zM234 310.5h2v4.4h-2zM234 306.1h2v4.4h-2zM234 301.7h2v4.4h-2zM234 297.3h2v4.4h-2zM234 292.9h2v4.4h-2zM234 288.5h2v4.4h-2zM234 284.1h2v4.4h-2zM234 279.7h2v4.4h-2zM234 275.3h2v4.4h-2zM234 270.9h2v4.4h-2zM234 266.5h2v4.4h-2zM234 262.1h2v4.4h-2zM234 257.7h2v4.4h-2zM234 253.3h2v4.4h-2zM236 358.9h2v4.4h-2zM236 354.5h2v4.4h-2zM236 350.1h2v4.4h-2zM236 345.7h2v4.4h-2zM236 341.3h2v4.4h-2zM236 336.9h2v4.4h-2zM236 332.5h2v4.4h-2zM236 328.1h2v4.4h-2zM236 323.7h2v4.4h-2zM236 319.3h2v4.4h-2zM236 314.9h2v4.4h-2zM236 310.5h2v4.4h-2zM236 306.1h2v4.4h-2zM236 301.7h2v4.4h-2zM236 297.3h2v4.4h-2zM236 292.9h2v4.4h-2zM236 288.5h2v4.4h-2zM236 284.1h2v4.4h-2zM236 279.7h2v4.4h-2zM236 275.3h2v4.4h-2zM236 270.9h2v4.4h-2zM236 266.5h2v4.4h-2zM236 262.1h2v4.4h-2zM236 257.7h2v4.4h-2zM238 358.9h2v4.4h-2zM238 354.5h2v4.4h-2zM238 350.1h2v4.4h-2zM238 345.7h2v4.4h-2zM238 341.3h2v4.4h-2zM238 336.9h2v4.4h-2zM238 332.5h2v4.4h-2zM238 328.1h2v4.4h-2zM238 323.7h2v4.4h-2zM238 319.3h2v4.4h-2zM238 314.9h2v4.4h-2zM238 310.5h2v4.4h-2zM238 306.1h2v4.4h-2zM238 301.7h2v4.4h-2zM238 297.3h2v4.4h-2zM238 292.9h2v4.4h-2zM238 288.5h2v4.4h-2zM238 284.1h2v4.4h-2zM238 279.7h2v4.4h-2zM238 275.3h2v4.4h-2zM238 270.9h2v4.4h-2zM238 266.5h2v4.4h-2zM238 262.1h2v4.4h-2zM240 358.9h2v4.4h-2zM240 354.5h2v4.4h-2zM240 350.1h2v4.4h-2zM240 345.7h2v4.4h-2zM240 341.3h2v4.4h-2zM240 336.9h2v4.4h-2zM240 332.5h2v4.4h-2zM240 328.1h2v4.4h-2zM240 323.7h2v4.4h-2zM240 319.3h2v4.4h-2zM240 314.9h2v4.4h-2zM240 310.5h2v4.4h-2zM240 306.1h2v4.4h-2zM240 301.7h2v4.4h-2zM240 297.3h2v4.4h-2zM240 292.9h2v4.4h-2zM240 288.5h2v4.4h-2zM240 284.1h2v4.4h-2zM240 279.7h2v4.4h-2zM240 275.3h2v4.4h-2zM240 270.9h2v4.4h-2zM240 266.5h2v4.4h-2zM242 358.9h2v4.4h-2zM242 354.5h2v4.4h-2zM242 350.1h2v4.4h-2zM242 345.7h2v4.4h-2zM242 341.3h2v4.4h-2zM242 336.9h2v4.4h-2zM242 332.5h2v4.4h-2zM242 328.1h2v4.4h-2zM242 323.7h2v4.4h-2zM242 319.3h2v4.4h-2zM242 314.9h2v4.4h-2zM242 310.5h2v4.4h-2zM242 306.1h2v4.4h-2zM242 301.7h2v4.4h-2zM242 297.3h2v4.4h-2zM242 292.9h2v4.4h-2zM242 288.5h2v4.4h-2zM242 284.1h2v4.4h-2zM242 279.7h2v4.4h-2zM242 275.3h2v4.4h-2zM242 270.9h2v4.4h-2zM244 358.9h2v4.4h-2zM244 354.5h2v4.4h-2zM244 350.1h2v4.4h-2zM244 345.7h2v4.4h-2zM244 341.3h2v4.4h-2zM244 336.9h2v4.4h-2zM244 332.5h2v4.4h-2zM244 328.1h2v4.4h-2zM244 323.7h2v4.4h-2zM244 319.3h2v4.4h-2zM244 314.9h2v4.4h-2zM244 310.5h2v4.4h-2zM244 306.1h2v4.4h-2zM244 301.7h2v4.4h-2zM244 297.3h2v4.4h-2zM244 292.9h2v4.4h-2zM244 288.5h2v4.4h-2zM244 284.1h2v4.4h-2zM244 279.7h2v4.4h-2zM244 275.3h2v4.4h-2zM244 270.9h2v4.4h-2zM246 358.9h2v4.4h-2zM246 354.5h2v4.4h-2zM246 350.1h2v4.4h-2zM246 345.7h2v4.4h-2zM246 341.3h2v4.4h-2zM246 336.9h2v4.4h-2zM246 332.5h2v4.4h-2zM246 328.1h2v4.4h-2zM246 323.7h2v4.4h-2zM246 319.3h2v4.4h-2zM246 314.9h2v4.4h-2zM246 310.5h2v4.4h-2zM246 306.1h2v4.4h-2zM246 301.7h2v4.4h-2zM246 297.3h2v4.4h-2zM246 292.9h2v4.4h-2zM246 288.5h2v4.4h-2zM246 284.1h2v4.4h-2zM246 279.7h2v4.4h-2zM246 275.3h2v4.4h-2zM248 358.9h2v4.4h-2zM248 354.5h2v4.4h-2zM248 350.1h2v4.4h-2zM248 345.7h2v4.4h-2zM248 341.3h2v4.4h-2zM248 336.9h2v4.4h-2zM248 332.5h2v4.4h-2zM248 328.1h2v4.4h-2zM248 323.7h2v4.4h-2zM248 319.3h2v4.4h-2zM248 314.9h2v4.4h-2zM248 310.5h2v4.4h-2zM248 306.1h2v4.4h-2zM248 301.7h2v4.4h-2zM248 297.3h2v4.4h-2zM248 292.9h2v4.4h-2zM248 288.5h2v4.4h-2zM248 284.1h2v4.4h-2zM248 279.7h2v4.4h-2zM250 358.9h2v4.4h-2zM250 354.5h2v4.4h-2zM250 350.1h2v4.4h-2zM250 345.7h2v4.4h-2zM250 341.3h2v4.4h-2zM250 336.9h2v4.4h-2zM250 332.5h2v4.4h-2zM250 328.1h2v4.4h-2zM250 323.7h2v4.4h-2zM250 319.3h2v4.4h-2zM250 314.9h2v4.4h-2zM250 310.5h2v4.4h-2zM250 306.1h2v4.4h-2zM250 301.7h2v4.4h-2zM250 297.3h2v4.4h-2zM250 292.9h2v4.4h-2zM250 288.5h2v4.4h-2zM250 284.1h2v4.4h-2zM252 358.9h2v4.4h-2zM252 354.5h2v4.4h-2zM252 350.1h2v4.4h-2zM252 345.7h2v4.4h-2zM252 341.3h2v4.4h-2zM252 336.9h2v4.4h-2zM252 332.5h2v4.4h-2zM252 328.1h2v4.4h-2zM252 323.7h2v4.4h-2zM252 319.3h2v4.4h-2zM252 314.9h2v4.4h-2zM252 310.5h2v4.4h-2zM252 306.1h2v4.4h-2zM252 301.7h2v4.4h-2zM252 297.3h2v4.4h-2zM252 292.9h2v4.4h-2zM252 288.5h2v4.4h-2zM252 284.1h2v4.4h-2zM254 358.9h2v4.4h-2zM254 354.5h2v4.4h-2zM254 350.1h2v4.4h-2zM254 345.7h2v4.4h-2zM254 341.3h2v4.4h-2zM254 336.9h2v4.4h-2zM254 332.5h2v4.4h-2zM254 328.1h2v4.4h-2zM254 323.7h2v4.4h-2zM254 319.3h2v4.4h-2zM254 314.9h2v4.4h-2zM254 310.5h2v4.4h-2zM254 306.1h2v4.4h-2zM254 301.7h2v4.4h-2zM254 297.3h2v4.4h-2zM254 292.9h2v4.4h-2zM254 288.5h2v4.4h-2zM256 358.9h2v4.4h-2zM256 354.5h2v4.4h-2zM256 350.1h2v4.4h-2zM256 345.7h2v4.4h-2zM256 341.3h2v4.4h-2zM256 336.9h2v4.4h-2zM256 332.5h2v4.4h-2zM256 328.1h2v4.4h-2zM256 323.7h2v4.4h-2zM256 319.3h2v4.4h-2zM256 314.9h2v4.4h-2zM256 310.5h2v4.4h-2zM256 306.1h2v4.4h-2zM256 301.7h2v4.4h-2zM256 297.3h2v4.4h-2zM256 292.9h2v4.4h-2zM258 358.9h2v4.4h-2zM258 354.5h2v4.4h-2zM258 350.1h2v4.4h-2zM258 345.7h2v4.4h-2zM258 341.3h2v4.4h-2zM258 336.9h2v4.4h-2zM258 332.5h2v4.4h-2zM258 328.1h2v4.4h-2zM258 323.7h2v4.4h-2zM258 319.3h2v4.4h-2zM258 314.9h2v4.4h-2zM258 310.5h2v4.4h-2zM258 306.1h2v4.4h-2zM258 301.7h2v4.4h-2zM258 297.3h2v4.4h-2zM260 358.9h2v4.4h-2zM260 354.5h2v4.4h-2zM260 350.1h2v4.4h-2zM260 345.7h2v4.4h-2zM260 341.3h2v4.4h-2zM260 336.9h2v4.4h-2zM260 332.5h2v4.4h-2zM260 328.1h2v4.4h-2zM260 323.7h2v4.4h-2zM260 319.3h2v4.4h-2zM260 314.9h2v4.4h-2zM260 310.5h2v4.4h-2zM260 306.1h2v4.4h-2zM260 301.7h2v4.4h-2zM260 297.3h2v4.4h-2zM262 358.9h2v4.4h-2zM262 354.5h2v4.4h-2zM262 350.1h2v4.4h-2zM262 345.7h2v4.4h-2zM262 341.3h2v4.4h-2zM262 336.9h2v4.4h-2zM262 332.5h2v4.4h-2zM262 328.1h2v4.4h-2zM262 323.7h2v4.4h-2zM262 319.3h2v4.4h-2zM262 314.9h2v4.4h-2zM262 310.5h2v4.4h-2zM262 306.1h2v4.4h-2zM262 301.7h2v4.4h-2zM264 358.9h2v4.4h-2zM264 354.5h2v4.4h-2zM264 350.1h2v4.4h-2zM264 345.7h2v4.4h-2zM264 341.3h2v4.4h-2zM264 336.9h2v4.4h-2zM264 332.5h2v4.4h-2zM264 328.1h2v4.4h-2zM264 323.7h2v4.4h-2zM264 319.3h2v4.4h-2zM264 314.9h2v4.4h-2zM264 310.5h2v4.4h-2zM264 306.1h2v4.4h-2zM266 358.9h2v4.4h-2zM266 354.5h2v4.4h-2zM266 350.1h2v4.4h-2zM266 345.7h2v4.4h-2zM266 341.3h2v4.4h-2zM266 336.9h2v4.4h-2zM266 332.5h2v4.4h-2zM266 328.1h2v4.4h-2zM266 323.7h2v4.4h-2zM266 319.3h2v4.4h-2zM266 314.9h2v4.4h-2zM266 310.5h2v4.4h-2zM266 306.1h2v4.4h-2zM268 358.9h2v4.4h-2zM268 354.5h2v4.4h-2zM268 350.1h2v4.4h-2zM268 345.7h2v4.4h-2zM268 341.3h2v4.4h-2zM268 336.9h2v4.4h-2zM268 332.5h2v4.4h-2zM268 328.1h2v4.4h-2zM268 323.7h2v4.4h-2zM268 319.3h2v4.4h-2zM268 314.9h2v4.4h-2zM268 310.5h2v4.4h-2zM270 358.9h2v4.4h-2zM270 354.5h2v4.4h-2zM270 350.1h2v4.4h-2zM270 345.7h2v4.4h-2zM270 341.3h2v4.4h-2zM270 336.9h2v4.4h-2zM270 332.5h2v4.4h-2zM270 328.1h2v4.4h-2zM270 323.7h2v4.4h-2zM270 319.3h2v4.4h-2zM270 314.9h2v4.4h-2zM272 358.9h2v4.4h-2zM272 354.5h2v4.4h-2zM272 350.1h2v4.4h-2zM272 345.7h2v4.4h-2zM272 341.3h2v4.4h-2zM272 336.9h2v4.4h-2zM272 332.5h2v4.4h-2zM272 328.1h2v4.4h-2zM272 323.7h2v4.4h-2zM272 319.3h2v4.4h-2zM274 358.9h2v4.4h-2zM274 354.5h2v4.4h-2zM274 350.1h2v4.4h-2zM274 345.7h2v4.4h-2zM274 341.3h2v4.4h-2zM274 336.9h2v4.4h-2zM274 332.5h2v4.4h-2zM274 328.1h2v4.4h-2zM274 323.7h2v4.4h-2zM274 319.3h2v4.4h-2zM276 358.9h2v4.4h-2zM276 354.5h2v4.4h-2zM276 350.1h2v4.4h-2zM276 345.7h2v4.4h-2zM276 341.3h2v4.4h-2zM276 336.9h2v4.4h-2zM276 332.5h2v4.4h-2zM276 328.1h2v4.4h-2zM276 323.7h2v4.4h-2zM278 358.9h2v4.4h-2zM278 354.5h2v4.4h-2zM278 350.1h2v4.4h-2zM278 345.7h2v4.4h-2zM278 341.3h2v4.4h-2zM278 336.9h2v4.4h-2zM278 332.5h2v4.4h-2zM278 328.1h2v4.4h-2zM280 358.9h2v4.4h-2zM280 354.5h2v4.4h-2zM280 350.1h2v4.4h-2zM280 345.7h2v4.4h-2zM280 341.3h2v4.4h-2zM280 336.9h2v4.4h-2zM280 332.5h2v4.4h-2zM280 328.1h2v4.4h-2zM282 358.9h2v4.4h-2zM282 354.5h2v4.4h-2zM282 350.1h2v4.4h-2zM282 345.7h2v4.4h-2zM282 341.3h2v4.4h-2zM282 336.9h2v4.4h-2zM284 358.9h2v4.4h-2zM284 354.5h2v4.4h-2zM284 350.1h2v4.4h-2zM284 345.7h2v4.4h-2zM284 341.3h2v4.4h-2zM284 336.9h2v4.4h-2zM286 358.9h2v4.4h-2zM286 354.5h2v4.4h-2zM286 350.1h2v4.4h-2zM286 345.7h2v4.4h-2zM286 341.3h2v4.4h-2zM288 358.9h2v4.4h-2zM288 354.5h2v4.4h-2zM288 350.1h2v4.4h-2zM288 345.7h2v4.4h-2zM290 358.9h2v4.4h-2zM290 354.5h2v4.4h-2zM290 350.1h2v4.4h-2zM290 345.7h2v4.4h-2zM292 358.9h2v4.4h-2zM292 354.5h2v4.4h-2zM292 350.1h2v4.4h-2zM294 358.9h2v4.4h-2zM294 354.5h2v4.4h-2zM296 358.9h2v4.4h-2zM338 358.9h2v4.4h-2zM338 354.5h2v4.4h-2zM338 350.1h2v4.4h-2zM338 345.7h2v4.4h-2zM338 341.3h2v4.4h-2zM338 336.9h2v4.4h-2zM338 332.5h2v4.4h-2zM338 328.1h2v4.4h-2zM338 323.7h2v4.4h-2zM338 319.3h2v4.4h-2zM338 314.9h2v4.4h-2zM338 310.5h2v4.4h-2zM338 306.1h2v4.4h-2zM338 301.7h2v4.4h-2zM338 297.3h2v4.4h-2zM338 292.9h2v4.4h-2zM338 288.5h2v4.4h-2zM338 284.1h2v4.4h-2zM338 279.7h2v4.4h-2zM338 275.3h2v4.4h-2zM338 270.9h2v4.4h-2zM338 266.5h2v4.4h-2zM338 262.1h2v4.4h-2zM338 257.7h2v4.4h-2zM338 253.3h2v4.4h-2zM338 248.9h2v4.4h-2zM340 358.9h2v4.4h-2zM340 354.5h2v4.4h-2zM340 350.1h2v4.4h-2zM340 345.7h2v4.4h-2zM340 341.3h2v4.4h-2zM340 336.9h2v4.4h-2zM340 332.5h2v4.4h-2zM340 328.1h2v4.4h-2zM340 323.7h2v4.4h-2zM340 319.3h2v4.4h-2zM340 314.9h2v4.4h-2zM340 310.5h2v4.4h-2zM340 306.1h2v4.4h-2zM340 301.7h2v4.4h-2zM340 297.3h2v4.4h-2zM340 292.9h2v4.4h-2zM340 288.5h2v4.4h-2zM340 284.1h2v4.4h-2zM340 279.7h2v4.4h-2zM340 275.3h2v4.4h-2zM340 270.9h2v4.4h-2zM340 266.5h2v4.4h-2zM340 262.1h2v4.4h-2zM340 257.7h2v4.4h-2zM340 253.3h2v4.4h-2zM342 358.9h2v4.4h-2zM342 354.5h2v4.4h-2zM342 350.1h2v4.4h-2zM342 345.7h2v4.4h-2zM342 341.3h2v4.4h-2zM342 336.9h2v4.4h-2zM342 332.5h2v4.4h-2zM342 328.1h2v4.4h-2zM342 323.7h2v4.4h-2zM342 319.3h2v4.4h-2zM342 314.9h2v4.4h-2zM342 310.5h2v4.4h-2zM342 306.1h2v4.4h-2zM342 301.7h2v4.4h-2zM342 297.3h2v4.4h-2zM342 292.9h2v4.4h-2zM342 288.5h2v4.4h-2zM342 284.1h2v4.4h-2zM342 279.7h2v4.4h-2zM342 275.3h2v4.4h-2zM342 270.9h2v4.4h-2zM342 266.5h2v4.4h-2zM342 262.1h2v4.4h-2zM342 257.7h2v4.4h-2zM342 253.3h2v4.4h-2zM344 358.9h2v4.4h-2zM344 354.5h2v4.4h-2zM344 350.1h2v4.4h-2zM344 345.7h2v4.4h-2zM344 341.3h2v4.4h-2zM344 336.9h2v4.4h-2zM344 332.5h2v4.4h-2zM344 328.1h2v4.4h-2zM344 323.7h2v4.4h-2zM344 319.3h2v4.4h-2zM344 314.9h2v4.4h-2zM344 310.5h2v4.4h-2zM344 306.1h2v4.4h-2zM344 301.7h2v4.4h-2zM344 297.3h2v4.4h-2zM344 292.9h2v4.4h-2zM344 288.5h2v4.4h-2zM344 284.1h2v4.4h-2zM344 279.7h2v4.4h-2zM344 275.3h2v4.4h-2zM344 270.9h2v4.4h-2zM344 266.5h2v4.4h-2zM344 262.1h2v4.4h-2zM344 257.7h2v4.4h-2zM346 358.9h2v4.4h-2zM346 354.5h2v4.4h-2zM346 350.1h2v4.4h-2zM346 345.7h2v4.4h-2zM346 341.3h2v4.4h-2zM346 336.9h2v4.4h-2zM346 332.5h2v4.4h-2zM346 328.1h2v4.4h-2zM346 323.7h2v4.4h-2zM346 319.3h2v4.4h-2zM346 314.9h2v4.4h-2zM346 310.5h2v4.4h-2zM346 306.1h2v4.4h-2zM346 301.7h2v4.4h-2zM346 297.3h2v4.4h-2zM346 292.9h2v4.4h-2zM346 288.5h2v4.4h-2zM346 284.1h2v4.4h-2zM346 279.7h2v4.4h-2zM346 275.3h2v4.4h-2zM346 270.9h2v4.4h-2zM346 266.5h2v4.4h-2zM346 262.1h2v4.4h-2zM348 358.9h2v4.4h-2zM348 354.5h2v4.4h-2zM348 350.1h2v4.4h-2zM348 345.7h2v4.4h-2zM348 341.3h2v4.4h-2zM348 336.9h2v4.4h-2zM348 332.5h2v4.4h-2zM348 328.1h2v4.4h-2zM348 323.7h2v4.4h-2zM348 319.3h2v4.4h-2zM348 314.9h2v4.4h-2zM348 310.5h2v4.4h-2zM348 306.1h2v4.4h-2zM348 301.7h2v4.4h-2zM348 297.3h2v4.4h-2zM348 292.9h2v4.4h-2zM348 288.5h2v4.4h-2zM348 284.1h2v4.4h-2zM348 279.7h2v4.4h-2zM348 275.3h2v4.4h-2zM348 270.9h2v4.4h-2zM348 266.5h2v4.4h-2zM350 358.9h2v4.4h-2zM350 354.5h2v4.4h-2zM350 350.1h2v4.4h-2zM350 345.7h2v4.4h-2zM350 341.3h2v4.4h-2zM350 336.9h2v4.4h-2zM350 332.5h2v4.4h-2zM350 328.1h2v4.4h-2zM350 323.7h2v4.4h-2zM350 319.3h2v4.4h-2zM350 314.9h2v4.4h-2zM350 310.5h2v4.4h-2zM350 306.1h2v4.4h-2zM350 301.7h2v4.4h-2zM350 297.3h2v4.4h-2zM350 292.9h2v4.4h-2zM350 288.5h2v4.4h-2zM350 284.1h2v4.4h-2zM350 279.7h2v4.4h-2zM350 275.3h2v4.4h-2zM350 270.9h2v4.4h-2zM350 266.5h2v4.4h-2zM352 358.9h2v4.4h-2zM352 354.5h2v4.4h-2zM352 350.1h2v4.4h-2zM352 345.7h2v4.4h-2zM352 341.3h2v4.4h-2zM352 336.9h2v4.4h-2zM352 332.5h2v4.4h-2zM352 328.1h2v4.4h-2zM352 323.7h2v4.4h-2zM352 319.3h2v4.4h-2zM352 314.9h2v4.4h-2zM352 310.5h2v4.4h-2zM352 306.1h2v4.4h-2zM352 301.7h2v4.4h-2zM352 297.3h2v4.4h-2zM352 292.9h2v4.4h-2zM352 288.5h2v4.4h-2zM352 284.1h2v4.4h-2zM352 279.7h2v4.4h-2zM352 275.3h2v4.4h-2zM352 270.9h2v4.4h-2zM354 358.9h2v4.4h-2zM354 354.5h2v4.4h-2zM354 350.1h2v4.4h-2zM354 345.7h2v4.4h-2zM354 341.3h2v4.4h-2zM354 336.9h2v4.4h-2zM354 332.5h2v4.4h-2zM354 328.1h2v4.4h-2zM354 323.7h2v4.4h-2zM354 319.3h2v4.4h-2zM354 314.9h2v4.4h-2zM354 310.5h2v4.4h-2zM354 306.1h2v4.4h-2zM354 301.7h2v4.4h-2zM354 297.3h2v4.4h-2zM354 292.9h2v4.4h-2zM354 288.5h2v4.4h-2zM354 284.1h2v4.4h-2zM354 279.7h2v4.4h-2zM354 275.3h2v4.4h-2zM356 358.9h2v4.4h-2zM356 354.5h2v4.4h-2zM356 350.1h2v4.4h-2zM356 345.7h2v4.4h-2zM356 341.3h2v4.4h-2zM356 336.9h2v4.4h-2zM356 332.5h2v4.4h-2zM356 328.1h2v4.4h-2zM356 323.7h2v4.4h-2zM356 319.3h2v4.4h-2zM356 314.9h2v4.4h-2zM356 310.5h2v4.4h-2zM356 306.1h2v4.4h-2zM356 301.7h2v4.4h-2zM356 297.3h2v4.4h-2zM356 292.9h2v4.4h-2zM356 288.5h2v4.4h-2zM356 284.1h2v4.4h-2zM356 279.7h2v4.4h-2zM356 275.3h2v4.4h-2zM358 358.9h2v4.4h-2zM358 354.5h2v4.4h-2zM358 350.1h2v4.4h-2zM358 345.7h2v4.4h-2zM358 341.3h2v4.4h-2zM358 336.9h2v4.4h-2zM358 332.5h2v4.4h-2zM358 328.1h2v4.4h-2zM358 323.7h2v4.4h-2zM358 319.3h2v4.4h-2zM358 314.9h2v4.4h-2zM358 310.5h2v4.4h-2zM358 306.1h2v4.4h-2zM358 301.7h2v4.4h-2zM358 297.3h2v4.4h-2zM358 292.9h2v4.4h-2zM358 288.5h2v4.4h-2zM358 284.1h2v4.4h-2zM358 279.7h2v4.4h-2zM360 358.9h2v4.4h-2zM360 354.5h2v4.4h-2zM360 350.1h2v4.4h-2zM360 345.7h2v4.4h-2zM360 341.3h2v4.4h-2zM360 336.9h2v4.4h-2zM360 332.5h2v4.4h-2zM360 328.1h2v4.4h-2zM360 323.7h2v4.4h-2zM360 319.3h2v4.4h-2zM360 314.9h2v4.4h-2zM360 310.5h2v4.4h-2zM360 306.1h2v4.4h-2zM360 301.7h2v4.4h-2zM360 297.3h2v4.4h-2zM360 292.9h2v4.4h-2zM360 288.5h2v4.4h-2zM360 284.1h2v4.4h-2zM360 279.7h2v4.4h-2zM362 358.9h2v4.4h-2zM362 354.5h2v4.4h-2zM362 350.1h2v4.4h-2zM362 345.7h2v4.4h-2zM362 341.3h2v4.4h-2zM362 336.9h2v4.4h-2zM362 332.5h2v4.4h-2zM362 328.1h2v4.4h-2zM362 323.7h2v4.4h-2zM362 319.3h2v4.4h-2zM362 314.9h2v4.4h-2zM362 310.5h2v4.4h-2zM362 306.1h2v4.4h-2zM362 301.7h2v4.4h-2zM362 297.3h2v4.4h-2zM362 292.9h2v4.4h-2zM362 288.5h2v4.4h-2zM362 284.1h2v4.4h-2zM364 358.9h2v4.4h-2zM364 354.5h2v4.4h-2zM364 350.1h2v4.4h-2zM364 345.7h2v4.4h-2zM364 341.3h2v4.4h-2zM364 336.9h2v4.4h-2zM364 332.5h2v4.4h-2zM364 328.1h2v4.4h-2zM364 323.7h2v4.4h-2zM364 319.3h2v4.4h-2zM364 314.9h2v4.4h-2zM364 310.5h2v4.4h-2zM364 306.1h2v4.4h-2zM364 301.7h2v4.4h-2zM364 297.3h2v4.4h-2zM364 292.9h2v4.4h-2zM364 288.5h2v4.4h-2zM366 358.9h2v4.4h-2zM366 354.5h2v4.4h-2zM366 350.1h2v4.4h-2zM366 345.7h2v4.4h-2zM366 341.3h2v4.4h-2zM366 336.9h2v4.4h-2zM366 332.5h2v4.4h-2zM366 328.1h2v4.4h-2zM366 323.7h2v4.4h-2zM366 319.3h2v4.4h-2zM366 314.9h2v4.4h-2zM366 310.5h2v4.4h-2zM366 306.1h2v4.4h-2zM366 301.7h2v4.4h-2zM366 297.3h2v4.4h-2zM366 292.9h2v4.4h-2zM368 358.9h2v4.4h-2zM368 354.5h2v4.4h-2zM368 350.1h2v4.4h-2zM368 345.7h2v4.4h-2zM368 341.3h2v4.4h-2zM368 336.9h2v4.4h-2zM368 332.5h2v4.4h-2zM368 328.1h2v4.4h-2zM368 323.7h2v4.4h-2zM368 319.3h2v4.4h-2zM368 314.9h2v4.4h-2zM368 310.5h2v4.4h-2zM368 306.1h2v4.4h-2zM368 301.7h2v4.4h-2zM368 297.3h2v4.4h-2zM370 358.9h2v4.4h-2zM370 354.5h2v4.4h-2zM370 350.1h2v4.4h-2zM370 345.7h2v4.4h-2zM370 341.3h2v4.4h-2zM370 336.9h2v4.4h-2zM370 332.5h2v4.4h-2zM370 328.1h2v4.4h-2zM370 323.7h2v4.4h-2zM370 319.3h2v4.4h-2zM370 314.9h2v4.4h-2zM370 310.5h2v4.4h-2zM370 306.1h2v4.4h-2zM370 301.7h2v4.4h-2zM370 297.3h2v4.4h-2zM372 358.9h2v4.4h-2zM372 354.5h2v4.4h-2zM372 350.1h2v4.4h-2zM372 345.7h2v4.4h-2zM372 341.3h2v4.4h-2zM372 336.9h2v4.4h-2zM372 332.5h2v4.4h-2zM372 328.1h2v4.4h-2zM372 323.7h2v4.4h-2zM372 319.3h2v4.4h-2zM372 314.9h2v4.4h-2zM372 310.5h2v4.4h-2zM372 306.1h2v4.4h-2zM372 301.7h2v4.4h-2zM374 358.9h2v4.4h-2zM374 354.5h2v4.4h-2zM374 350.1h2v4.4h-2zM374 345.7h2v4.4h-2zM374 341.3h2v4.4h-2zM374 336.9h2v4.4h-2zM374 332.5h2v4.4h-2zM374 328.1h2v4.4h-2zM374 323.7h2v4.4h-2zM374 319.3h2v4.4h-2zM374 314.9h2v4.4h-2zM374 310.5h2v4.4h-2zM374 306.1h2v4.4h-2zM376 358.9h2v4.4h-2zM376 354.5h2v4.4h-2zM376 350.1h2v4.4h-2zM376 345.7h2v4.4h-2zM376 341.3h2v4.4h-2zM376 336.9h2v4.4h-2zM376 332.5h2v4.4h-2zM376 328.1h2v4.4h-2zM376 323.7h2v4.4h-2zM376 319.3h2v4.4h-2zM376 314.9h2v4.4h-2zM376 310.5h2v4.4h-2zM378 358.9h2v4.4h-2zM378 354.5h2v4.4h-2zM378 350.1h2v4.4h-2zM378 345.7h2v4.4h-2zM378 341.3h2v4.4h-2zM378 336.9h2v4.4h-2zM378 332.5h2v4.4h-2zM378 328.1h2v4.4h-2zM378 323.7h2v4.4h-2zM378 319.3h2v4.4h-2zM378 314.9h2v4.4h-2zM378 310.5h2v4.4h-2zM380 358.9h2v4.4h-2zM380 354.5h2v4.4h-2zM380 350.1h2v4.4h-2zM380 345.7h2v4.4h-2zM380 341.3h2v4.4h-2zM380 336.9h2v4.4h-2zM380 332.5h2v4.4h-2zM380 328.1h2v4.4h-2zM380 323.7h2v4.4h-2zM380 319.3h2v4.4h-2zM380 314.9h2v4.4h-2zM382 358.9h2v4.4h-2zM382 354.5h2v4.4h-2zM382 350.1h2v4.4h-2zM382 345.7h2v4.4h-2zM382 341.3h2v4.4h-2zM382 336.9h2v4.4h-2zM382 332.5h2v4.4h-2zM382 328.1h2v4.4h-2zM382 323.7h2v4.4h-2zM382 319.3h2v4.4h-2zM384 358.9h2v4.4h-2zM384 354.5h2v4.4h-2zM384 350.1h2v4.4h-2zM384 345.7h2v4.4h-2zM384 341.3h2v4.4h-2zM384 336.9h2v4.4h-2zM384 332.5h2v4.4h-2zM384 328.1h2v4.4h-2zM384 323.7h2v4.4h-2zM386 358.9h2v4.4h-2zM386 354.5h2v4.4h-2zM386 350.1h2v4.4h-2zM386 345.7h2v4.4h-2zM386 341.3h2v4.4h-2zM386 336.9h2v4.4h-2zM386 332.5h2v4.4h-2zM386 328.1h2v4.4h-2zM386 323.7h2v4.4h-2zM388 358.9h2v4.4h-2zM388 354.5h2v4.4h-2zM388 350.1h2v4.4h-2zM388 345.7h2v4.4h-2zM388 341.3h2v4.4h-2zM388 336.9h2v4.4h-2zM388 332.5h2v4.4h-2zM388 328.1h2v4.4h-2zM390 358.9h2v4.4h-2zM390 354.5h2v4.4h-2zM390 350.1h2v4.4h-2zM390 345.7h2v4.4h-2zM390 341.3h2v4.4h-2zM390 336.9h2v4.4h-2zM390 332.5h2v4.4h-2zM392 358.9h2v4.4h-2zM392 354.5h2v4.4h-2zM392 350.1h2v4.4h-2zM392 345.7h2v4.4h-2zM392 341.3h2v4.4h-2zM392 336.9h2v4.4h-2zM394 358.9h2v4.4h-2zM394 354.5h2v4.4h-2zM394 350.1h2v4.4h-2zM394 345.7h2v4.4h-2zM394 341.3h2v4.4h-2zM396 358.9h2v4.4h-2zM396 354.5h2v4.4h-2zM396 350.1h2v4.4h-2zM396 345.7h2v4.4h-2zM396 341.3h2v4.4h-2zM398 358.9h2v4.4h-2zM398 354.5h2v4.4h-2zM398 350.1h2v4.4h-2zM398 345.7h2v4.4h-2zM400 358.9h2v4.4h-2zM400 354.5h2v4.4h-2zM400 350.1h2v4.4h-2zM402 358.9h2v4.4h-2zM402 354.5h2v4.4h-2zM402 350.1h2v4.4h-2zM404 358.9h2v4.4h-2zM502 358.9h2v4.4h-2zM502 354.5h2v4.4h-2zM502 350.1h2v4.4h-2zM502 345.7h2v4.4h-2zM502 341.3h2v4.4h-2zM502 336.9h2v4.4h-2zM502 332.5h2v4.4h-2zM502 328.1h2v4.4h-2zM502 323.7h2v4.4h-2zM502 319.3h2v4.4h-2zM502 314.9h2v4.4h-2zM502 310.5h2v4.4h-2zM502 306.1h2v4.4h-2zM502 301.7h2v4.4h-2zM502 297.3h2v4.4h-2zM502 292.9h2v4.4h-2zM502 288.5h2v4.4h-2zM502 284.1h2v4.4h-2zM502 279.7h2v4.4h-2zM502 262.1h2v4.4h-2zM502 248.9h2v4.4h-2zM502 244.5h2v4.4h-2zM502 240.1h2v4.4h-2zM504 358.9h2v4.4h-2zM504 354.5h2v4.4h-2zM504 350.1h2v4.4h-2zM504 345.7h2v4.4h-2zM504 341.3h2v4.4h-2zM504 336.9h2v4.4h-2zM504 332.5h2v4.4h-2zM504 328.1h2v4.4h-2zM504 323.7h2v4.4h-2zM504 319.3h2v4.4h-2zM504 314.9h2v4.4h-2zM504 310.5h2v4.4h-2zM504 306.1h2v4.4h-2zM504 301.7h2v4.4h-2zM504 297.3h2v4.4h-2zM504 292.9h2v4.4h-2zM504 288.5h2v4.4h-2zM504 284.1h2v4.4h-2zM504 279.7h2v4.4h-2zM504 275.3h2v4.4h-2zM504 270.9h2v4.4h-2zM504 266.5h2v4.4h-2zM504 262.1h2v4.4h-2zM504 257.7h2v4.4h-2zM504 253.3h2v4.4h-2zM504 248.9h2v4.4h-2zM504 244.5h2v4.4h-2zM506 358.9h2v4.4h-2zM506 354.5h2v4.4h-2zM506 350.1h2v4.4h-2zM506 345.7h2v4.4h-2zM506 341.3h2v4.4h-2zM506 336.9h2v4.4h-2zM506 332.5h2v4.4h-2zM506 328.1h2v4.4h-2zM506 323.7h2v4.4h-2zM506 319.3h2v4.4h-2zM506 314.9h2v4.4h-2zM506 310.5h2v4.4h-2zM506 306.1h2v4.4h-2zM506 301.7h2v4.4h-2zM506 297.3h2v4.4h-2zM506 292.9h2v4.4h-2zM506 288.5h2v4.4h-2zM506 284.1h2v4.4h-2zM506 279.7h2v4.4h-2zM506 275.3h2v4.4h-2zM506 270.9h2v4.4h-2zM506 266.5h2v4.4h-2zM506 262.1h2v4.4h-2zM506 257.7h2v4.4h-2zM506 253.3h2v4.4h-2zM506 248.9h2v4.4h-2zM506 244.5h2v4.4h-2zM508 358.9h2v4.4h-2zM508 354.5h2v4.4h-2zM508 350.1h2v4.4h-2zM508 345.7h2v4.4h-2zM508 341.3h2v4.4h-2zM508 336.9h2v4.4h-2zM508 332.5h2v4.4h-2zM508 328.1h2v4.4h-2zM508 323.7h2v4.4h-2zM508 319.3h2v4.4h-2zM508 314.9h2v4.4h-2zM508 310.5h2v4.4h-2zM508 306.1h2v4.4h-2zM508 301.7h2v4.4h-2zM508 297.3h2v4.4h-2zM508 292.9h2v4.4h-2zM508 288.5h2v4.4h-2zM508 284.1h2v4.4h-2zM508 279.7h2v4.4h-2zM508 275.3h2v4.4h-2zM508 270.9h2v4.4h-2zM508 266.5h2v4.4h-2zM508 262.1h2v4.4h-2zM508 257.7h2v4.4h-2zM508 253.3h2v4.4h-2zM508 248.9h2v4.4h-2zM510 358.9h2v4.4h-2zM510 354.5h2v4.4h-2zM510 350.1h2v4.4h-2zM510 345.7h2v4.4h-2zM510 341.3h2v4.4h-2zM510 336.9h2v4.4h-2zM510 332.5h2v4.4h-2zM510 328.1h2v4.4h-2zM510 323.7h2v4.4h-2zM510 319.3h2v4.4h-2zM510 314.9h2v4.4h-2zM510 310.5h2v4.4h-2zM510 306.1h2v4.4h-2zM510 301.7h2v4.4h-2zM510 297.3h2v4.4h-2zM510 292.9h2v4.4h-2zM510 288.5h2v4.4h-2zM510 284.1h2v4.4h-2zM510 279.7h2v4.4h-2zM510 275.3h2v4.4h-2zM510 270.9h2v4.4h-2zM510 266.5h2v4.4h-2zM510 262.1h2v4.4h-2zM510 257.7h2v4.4h-2zM510 253.3h2v4.4h-2zM512 358.9h2v4.4h-2zM512 354.5h2v4.4h-2zM512 350.1h2v4.4h-2zM512 345.7h2v4.4h-2zM512 341.3h2v4.4h-2zM512 336.9h2v4.4h-2zM512 332.5h2v4.4h-2zM512 328.1h2v4.4h-2zM512 323.7h2v4.4h-2zM512 319.3h2v4.4h-2zM512 314.9h2v4.4h-2zM512 310.5h2v4.4h-2zM512 306.1h2v4.4h-2zM512 301.7h2v4.4h-2zM512 297.3h2v4.4h-2zM512 292.9h2v4.4h-2zM512 288.5h2v4.4h-2zM512 284.1h2v4.4h-2zM512 279.7h2v4.4h-2zM512 275.3h2v4.4h-2zM512 270.9h2v4.4h-2zM512 266.5h2v4.4h-2zM512 262.1h2v4.4h-2zM512 257.7h2v4.4h-2zM512 253.3h2v4.4h-2zM514 358.9h2v4.4h-2zM514 354.5h2v4.4h-2zM514 350.1h2v4.4h-2zM514 345.7h2v4.4h-2zM514 341.3h2v4.4h-2zM514 336.9h2v4.4h-2zM514 332.5h2v4.4h-2zM514 328.1h2v4.4h-2zM514 323.7h2v4.4h-2zM514 319.3h2v4.4h-2zM514 314.9h2v4.4h-2zM514 310.5h2v4.4h-2zM514 306.1h2v4.4h-2zM514 301.7h2v4.4h-2zM514 297.3h2v4.4h-2zM514 292.9h2v4.4h-2zM514 288.5h2v4.4h-2zM514 284.1h2v4.4h-2zM514 279.7h2v4.4h-2zM514 275.3h2v4.4h-2zM514 270.9h2v4.4h-2zM514 266.5h2v4.4h-2zM514 262.1h2v4.4h-2zM514 257.7h2v4.4h-2zM516 358.9h2v4.4h-2zM516 354.5h2v4.4h-2zM516 350.1h2v4.4h-2zM516 345.7h2v4.4h-2zM516 341.3h2v4.4h-2zM516 336.9h2v4.4h-2zM516 332.5h2v4.4h-2zM516 328.1h2v4.4h-2zM516 323.7h2v4.4h-2zM516 319.3h2v4.4h-2zM516 314.9h2v4.4h-2zM516 310.5h2v4.4h-2zM516 306.1h2v4.4h-2zM516 301.7h2v4.4h-2zM516 297.3h2v4.4h-2zM516 292.9h2v4.4h-2zM516 288.5h2v4.4h-2zM516 284.1h2v4.4h-2zM516 279.7h2v4.4h-2zM516 275.3h2v4.4h-2zM516 270.9h2v4.4h-2zM516 266.5h2v4.4h-2zM516 262.1h2v4.4h-2zM518 358.9h2v4.4h-2zM518 354.5h2v4.4h-2zM518 350.1h2v4.4h-2zM518 345.7h2v4.4h-2zM518 341.3h2v4.4h-2zM518 336.9h2v4.4h-2zM518 332.5h2v4.4h-2zM518 328.1h2v4.4h-2zM518 323.7h2v4.4h-2zM518 319.3h2v4.4h-2zM518 314.9h2v4.4h-2zM518 310.5h2v4.4h-2zM518 306.1h2v4.4h-2zM518 301.7h2v4.4h-2zM518 297.3h2v4.4h-2zM518 292.9h2v4.4h-2zM518 288.5h2v4.4h-2zM518 284.1h2v4.4h-2zM518 279.7h2v4.4h-2zM518 275.3h2v4.4h-2zM518 270.9h2v4.4h-2zM518 266.5h2v4.4h-2zM518 262.1h2v4.4h-2zM520 358.9h2v4.4h-2zM520 354.5h2v4.4h-2zM520 350.1h2v4.4h-2zM520 345.7h2v4.4h-2zM520 341.3h2v4.4h-2zM520 336.9h2v4.4h-2zM520 332.5h2v4.4h-2zM520 328.1h2v4.4h-2zM520 323.7h2v4.4h-2zM520 319.3h2v4.4h-2zM520 314.9h2v4.4h-2zM520 310.5h2v4.4h-2zM520 306.1h2v4.4h-2zM520 301.7h2v4.4h-2zM520 297.3h2v4.4h-2zM520 292.9h2v4.4h-2zM520 288.5h2v4.4h-2zM520 284.1h2v4.4h-2zM520 279.7h2v4.4h-2zM520 275.3h2v4.4h-2zM520 270.9h2v4.4h-2zM520 266.5h2v4.4h-2zM522 358.9h2v4.4h-2zM522 354.5h2v4.4h-2zM522 350.1h2v4.4h-2zM522 345.7h2v4.4h-2zM522 341.3h2v4.4h-2zM522 336.9h2v4.4h-2zM522 332.5h2v4.4h-2zM522 328.1h2v4.4h-2zM522 323.7h2v4.4h-2zM522 319.3h2v4.4h-2zM522 314.9h2v4.4h-2zM522 310.5h2v4.4h-2zM522 306.1h2v4.4h-2zM522 301.7h2v4.4h-2zM522 297.3h2v4.4h-2zM522 292.9h2v4.4h-2zM522 288.5h2v4.4h-2zM522 284.1h2v4.4h-2zM522 279.7h2v4.4h-2zM522 275.3h2v4.4h-2zM522 270.9h2v4.4h-2zM522 266.5h2v4.4h-2zM524 358.9h2v4.4h-2zM524 354.5h2v4.4h-2zM524 350.1h2v4.4h-2zM524 345.7h2v4.4h-2zM524 341.3h2v4.4h-2zM524 336.9h2v4.4h-2zM524 332.5h2v4.4h-2zM524 328.1h2v4.4h-2zM524 323.7h2v4.4h-2zM524 319.3h2v4.4h-2zM524 314.9h2v4.4h-2zM524 310.5h2v4.4h-2zM524 306.1h2v4.4h-2zM524 301.7h2v4.4h-2zM524 297.3h2v4.4h-2zM524 292.9h2v4.4h-2zM524 288.5h2v4.4h-2zM524 284.1h2v4.4h-2zM524 279.7h2v4.4h-2zM524 275.3h2v4.4h-2zM526 358.9h2v4.4h-2zM526 354.5h2v4.4h-2zM526 350.1h2v4.4h-2zM526 345.7h2v4.4h-2zM526 341.3h2v4.4h-2zM526 336.9h2v4.4h-2zM526 332.5h2v4.4h-2zM526 328.1h2v4.4h-2zM526 323.7h2v4.4h-2zM526 319.3h2v4.4h-2zM526 314.9h2v4.4h-2zM526 310.5h2v4.4h-2zM526 306.1h2v4.4h-2zM526 301.7h2v4.4h-2zM526 297.3h2v4.4h-2zM526 292.9h2v4.4h-2zM526 288.5h2v4.4h-2zM526 284.1h2v4.4h-2zM526 279.7h2v4.4h-2zM528 358.9h2v4.4h-2zM528 354.5h2v4.4h-2zM528 350.1h2v4.4h-2zM528 345.7h2v4.4h-2zM528 341.3h2v4.4h-2zM528 336.9h2v4.4h-2zM528 332.5h2v4.4h-2zM528 328.1h2v4.4h-2zM528 323.7h2v4.4h-2zM528 319.3h2v4.4h-2zM528 314.9h2v4.4h-2zM528 310.5h2v4.4h-2zM528 306.1h2v4.4h-2zM528 301.7h2v4.4h-2zM528 297.3h2v4.4h-2zM528 292.9h2v4.4h-2zM528 288.5h2v4.4h-2zM528 284.1h2v4.4h-2zM528 279.7h2v4.4h-2zM530 358.9h2v4.4h-2zM530 354.5h2v4.4h-2zM530 350.1h2v4.4h-2zM530 345.7h2v4.4h-2zM530 341.3h2v4.4h-2zM530 336.9h2v4.4h-2zM530 332.5h2v4.4h-2zM530 328.1h2v4.4h-2zM530 323.7h2v4.4h-2zM530 319.3h2v4.4h-2zM530 314.9h2v4.4h-2zM530 310.5h2v4.4h-2zM530 306.1h2v4.4h-2zM530 301.7h2v4.4h-2zM530 297.3h2v4.4h-2zM530 292.9h2v4.4h-2zM530 288.5h2v4.4h-2zM530 284.1h2v4.4h-2zM532 358.9h2v4.4h-2zM532 354.5h2v4.4h-2zM532 350.1h2v4.4h-2zM532 345.7h2v4.4h-2zM532 341.3h2v4.4h-2zM532 336.9h2v4.4h-2zM532 332.5h2v4.4h-2zM532 328.1h2v4.4h-2zM532 323.7h2v4.4h-2zM532 319.3h2v4.4h-2zM532 314.9h2v4.4h-2zM532 310.5h2v4.4h-2zM532 306.1h2v4.4h-2zM532 301.7h2v4.4h-2zM532 297.3h2v4.4h-2zM532 292.9h2v4.4h-2zM532 288.5h2v4.4h-2zM534 358.9h2v4.4h-2zM534 354.5h2v4.4h-2zM534 350.1h2v4.4h-2zM534 345.7h2v4.4h-2zM534 341.3h2v4.4h-2zM534 336.9h2v4.4h-2zM534 332.5h2v4.4h-2zM534 328.1h2v4.4h-2zM534 323.7h2v4.4h-2zM534 319.3h2v4.4h-2zM534 314.9h2v4.4h-2zM534 310.5h2v4.4h-2zM534 306.1h2v4.4h-2zM534 301.7h2v4.4h-2zM534 297.3h2v4.4h-2zM534 292.9h2v4.4h-2zM536 358.9h2v4.4h-2zM536 354.5h2v4.4h-2zM536 350.1h2v4.4h-2zM536 345.7h2v4.4h-2zM536 341.3h2v4.4h-2zM536 336.9h2v4.4h-2zM536 332.5h2v4.4h-2zM536 328.1h2v4.4h-2zM536 323.7h2v4.4h-2zM536 319.3h2v4.4h-2zM536 314.9h2v4.4h-2zM536 310.5h2v4.4h-2zM536 306.1h2v4.4h-2zM536 301.7h2v4.4h-2zM536 297.3h2v4.4h-2zM538 358.9h2v4.4h-2zM538 354.5h2v4.4h-2zM538 350.1h2v4.4h-2zM538 345.7h2v4.4h-2zM538 341.3h2v4.4h-2zM538 336.9h2v4.4h-2zM538 332.5h2v4.4h-2zM538 328.1h2v4.4h-2zM538 323.7h2v4.4h-2zM538 319.3h2v4.4h-2zM538 314.9h2v4.4h-2zM538 310.5h2v4.4h-2zM538 306.1h2v4.4h-2zM538 301.7h2v4.4h-2zM538 297.3h2v4.4h-2zM540 358.9h2v4.4h-2zM540 354.5h2v4.4h-2zM540 350.1h2v4.4h-2zM540 345.7h2v4.4h-2zM540 341.3h2v4.4h-2zM540 336.9h2v4.4h-2zM540 332.5h2v4.4h-2zM540 328.1h2v4.4h-2zM540 323.7h2v4.4h-2zM540 319.3h2v4.4h-2zM540 314.9h2v4.4h-2zM540 310.5h2v4.4h-2zM540 306.1h2v4.4h-2zM540 301.7h2v4.4h-2zM542 358.9h2v4.4h-2zM542 354.5h2v4.4h-2zM542 350.1h2v4.4h-2zM542 345.7h2v4.4h-2zM542 341.3h2v4.4h-2zM542 336.9h2v4.4h-2zM542 332.5h2v4.4h-2zM542 328.1h2v4.4h-2zM542 323.7h2v4.4h-2zM542 319.3h2v4.4h-2zM542 314.9h2v4.4h-2zM542 310.5h2v4.4h-2zM542 306.1h2v4.4h-2zM544 358.9h2v4.4h-2zM544 354.5h2v4.4h-2zM544 350.1h2v4.4h-2zM544 345.7h2v4.4h-2zM544 341.3h2v4.4h-2zM544 336.9h2v4.4h-2zM544 332.5h2v4.4h-2zM544 328.1h2v4.4h-2zM544 323.7h2v4.4h-2zM544 319.3h2v4.4h-2zM544 314.9h2v4.4h-2zM544 310.5h2v4.4h-2zM544 306.1h2v4.4h-2zM546 358.9h2v4.4h-2zM546 354.5h2v4.4h-2zM546 350.1h2v4.4h-2zM546 345.7h2v4.4h-2zM546 341.3h2v4.4h-2zM546 336.9h2v4.4h-2zM546 332.5h2v4.4h-2zM546 328.1h2v4.4h-2zM546 323.7h2v4.4h-2zM546 319.3h2v4.4h-2zM546 314.9h2v4.4h-2zM546 310.5h2v4.4h-2zM548 358.9h2v4.4h-2zM548 354.5h2v4.4h-2zM548 350.1h2v4.4h-2zM548 345.7h2v4.4h-2zM548 341.3h2v4.4h-2zM548 336.9h2v4.4h-2zM548 332.5h2v4.4h-2zM548 328.1h2v4.4h-2zM548 323.7h2v4.4h-2zM548 319.3h2v4.4h-2zM548 314.9h2v4.4h-2zM550 358.9h2v4.4h-2zM550 354.5h2v4.4h-2zM550 350.1h2v4.4h-2zM550 345.7h2v4.4h-2zM550 341.3h2v4.4h-2zM550 336.9h2v4.4h-2zM550 332.5h2v4.4h-2zM550 328.1h2v4.4h-2zM550 323.7h2v4.4h-2zM550 319.3h2v4.4h-2zM550 314.9h2v4.4h-2zM552 358.9h2v4.4h-2zM552 354.5h2v4.4h-2zM552 350.1h2v4.4h-2zM552 345.7h2v4.4h-2zM552 341.3h2v4.4h-2zM552 336.9h2v4.4h-2zM552 332.5h2v4.4h-2zM552 328.1h2v4.4h-2zM552 323.7h2v4.4h-2zM552 319.3h2v4.4h-2zM554 358.9h2v4.4h-2zM554 354.5h2v4.4h-2zM554 350.1h2v4.4h-2zM554 345.7h2v4.4h-2zM554 341.3h2v4.4h-2zM554 336.9h2v4.4h-2zM554 332.5h2v4.4h-2zM554 328.1h2v4.4h-2zM554 323.7h2v4.4h-2zM554 319.3h2v4.4h-2zM556 358.9h2v4.4h-2zM556 354.5h2v4.4h-2zM556 350.1h2v4.4h-2zM556 345.7h2v4.4h-2zM556 341.3h2v4.4h-2zM556 336.9h2v4.4h-2zM556 332.5h2v4.4h-2zM556 328.1h2v4.4h-2zM556 323.7h2v4.4h-2zM558 358.9h2v4.4h-2zM558 354.5h2v4.4h-2zM558 350.1h2v4.4h-2zM558 345.7h2v4.4h-2zM558 341.3h2v4.4h-2zM558 336.9h2v4.4h-2zM558 332.5h2v4.4h-2zM558 328.1h2v4.4h-2zM560 358.9h2v4.4h-2zM560 354.5h2v4.4h-2zM560 350.1h2v4.4h-2zM560 345.7h2v4.4h-2zM560 341.3h2v4.4h-2zM560 336.9h2v4.4h-2zM560 332.5h2v4.4h-2zM562 358.9h2v4.4h-2zM562 354.5h2v4.4h-2zM562 350.1h2v4.4h-2zM562 345.7h2v4.4h-2zM562 341.3h2v4.4h-2zM562 336.9h2v4.4h-2zM564 358.9h2v4.4h-2zM564 354.5h2v4.4h-2zM564 350.1h2v4.4h-2zM564 345.7h2v4.4h-2zM564 341.3h2v4.4h-2zM564 336.9h2v4.4h-2zM566 358.9h2v4.4h-2zM566 354.5h2v4.4h-2zM566 350.1h2v4.4h-2zM566 345.7h2v4.4h-2zM566 341.3h2v4.4h-2zM568 358.9h2v4.4h-2zM568 354.5h2v4.4h-2zM568 350.1h2v4.4h-2zM568 345.7h2v4.4h-2zM570 358.9h2v4.4h-2zM570 354.5h2v4.4h-2zM570 350.1h2v4.4h-2zM572 358.9h2v4.4h-2zM572 354.5h2v4.4h-2zM574 358.9h2v4.4h-2zM574 354.5h2v4.4h-2zM576 358.9h2v4.4h-2zM56 332.5h2v4.4h-2zM64 328.1h2v4.4h-2zM64 323.7h2v4.4h-2zM64 319.3h2v4.4h-2zM90 345.7h2v4.4h-2zM104 235.7h2v4.4h-2zM116 262.1h2v4.4h-2zM120 262.1h2v4.4h-2zM126 270.9h2v4.4h-2zM148 306.1h2v4.4h-2zM154 319.3h2v4.4h-2zM158 328.1h2v4.4h-2zM178 332.5h2v4.4h-2zM186 332.5h2v4.4h-2zM198 332.5h2v4.4h-2zM200 332.5h2v4.4h-2zM210 332.5h2v4.4h-2zM222 332.5h2v4.4h-2zM176 358.9h2v4.4h-2zM178 358.9h2v4.4h-2zM194 354.5h2v4.4h-2zM224 345.7h2v4.4h-2zM224 341.3h2v4.4h-2zM318 358.9h2v4.4h-2zM320 358.9h2v4.4h-2zM322 358.9h2v4.4h-2zM430 358.9h2v4.4h-2zM464 358.9h2v4.4h-2zM476 358.9h2v4.4h-2zM496 332.5h2v4.4h-2zM590 358.9h2v4.4h-2zM592 358.9h2v4.4h-2zM598 332.5h2v4.4h-2zM614 358.9h2v4.4h-2zM620 354.5h2v4.4h-2zM624 358.9h2v4.4h-2zM644 332.5h2v4.4h-2zM650 332.5h2v4.4h-2zM668 332.5h2v4.4h-2zM708 332.5h2v4.4h-2zM714 332.5h2v4.4h-2zM656 358.9h2v4.4h-2zM720 354.5h2v4.4h-2zM738 358.9h2v4.4h-2z"/><path fill="#84cec6" d="M70 363.3h2v4.4h-2zM72 363.3h2v4.4h-2zM74 363.3h2v4.4h-2zM76 363.3h2v4.4h-2zM78 363.3h2v4.4h-2zM80 363.3h2v4.4h-2zM82 363.3h2v4.4h-2zM84 363.3h2v4.4h-2zM86 363.3h2v4.4h-2zM94 363.3h2v4.4h-2zM96 363.3h2v4.4h-2zM98 363.3h2v4.4h-2zM100 363.3h2v4.4h-2zM102 363.3h2v4.4h-2zM104 363.3h2v4.4h-2zM106 363.3h2v4.4h-2zM108 363.3h2v4.4h-2zM110 363.3h2v4.4h-2zM112 363.3h2v4.4h-2zM114 363.3h2v4.4h-2zM116 363.3h2v4.4h-2zM118 363.3h2v4.4h-2z"/><path fill="#81cdc6" d="M120 363.3h2v4.4h-2zM122 363.3h2v4.4h-2zM124 363.3h2v4.4h-2zM126 363.3h2v4.4h-2zM128 363.3h2v4.4h-2zM130 363.3h2v4.4h-2zM132 363.3h2v4.4h-2zM134 363.3h2v4.4h-2zM136 363.3h2v4.4h-2zM138 363.3h2v4.4h-2zM140 363.3h2v4.4h-2zM142 363.3h2v4.4h-2zM144 363.3h2v4.4h-2zM146 363.3h2v4.4h-2zM148 363.3h2v4.4h-2zM150 363.3h2v4.4h-2zM152 363.3h2v4.4h-2zM154 363.3h2v4.4h-2zM156 363.3h2v4.4h-2zM158 363.3h2v4.4h-2zM160 363.3h2v4.4h-2zM162 363.3h2v4.4h-2zM164 363.3h2v4.4h-2zM166 363.3h2v4.4h-2zM168 363.3h2v4.4h-2zM170 363.3h2v4.4h-2zM172 363.3h2v4.4h-2z"/><path fill="#96d6c5" d="M226 363.3h2v4.4h-2zM228 363.3h2v4.4h-2zM230 363.3h2v4.4h-2zM232 363.3h2v4.4h-2zM234 363.3h2v4.4h-2zM236 363.3h2v4.4h-2zM238 363.3h2v4.4h-2zM240 363.3h2v4.4h-2zM242 363.3h2v4.4h-2zM244 363.3h2v4.4h-2zM300 363.3h2v4.4h-2zM338 363.3h2v4.4h-2zM340 363.3h2v4.4h-2zM342 363.3h2v4.4h-2zM344 363.3h2v4.4h-2zM176 363.3h2v4.4h-2zM178 363.3h2v4.4h-2zM180 363.3h2v4.4h-2zM192 363.3h2v4.4h-2zM202 363.3h2v4.4h-2zM318 363.3h2v4.4h-2zM320 363.3h2v4.4h-2zM322 363.3h2v4.4h-2zM324 363.3h2v4.4h-2z"/><path fill="#8cd2c6" d="M246 363.3h2v4.4h-2zM248 363.3h2v4.4h-2zM250 363.3h2v4.4h-2zM252 363.3h2v4.4h-2zM254 363.3h2v4.4h-2zM256 363.3h2v4.4h-2zM258 363.3h2v4.4h-2zM260 363.3h2v4.4h-2zM262 363.3h2v4.4h-2zM264 363.3h2v4.4h-2zM266 363.3h2v4.4h-2zM268 363.3h2v4.4h-2zM270 363.3h2v4.4h-2zM272 363.3h2v4.4h-2zM274 363.3h2v4.4h-2zM276 363.3h2v4.4h-2zM278 363.3h2v4.4h-2zM280 363.3h2v4.4h-2zM282 363.3h2v4.4h-2zM284 363.3h2v4.4h-2zM286 363.3h2v4.4h-2zM288 363.3h2v4.4h-2zM290 363.3h2v4.4h-2zM292 363.3h2v4.4h-2zM294 363.3h2v4.4h-2zM296 363.3h2v4.4h-2zM298 363.3h2v4.4h-2zM346 363.3h2v4.4h-2zM348 363.3h2v4.4h-2zM350 363.3h2v4.4h-2zM352 363.3h2v4.4h-2zM354 363.3h2v4.4h-2zM356 363.3h2v4.4h-2zM358 363.3h2v4.4h-2zM360 363.3h2v4.4h-2zM362 363.3h2v4.4h-2zM364 363.3h2v4.4h-2zM366 363.3h2v4.4h-2zM368 363.3h2v4.4h-2zM370 363.3h2v4.4h-2zM372 363.3h2v4.4h-2zM374 363.3h2v4.4h-2zM376 363.3h2v4.4h-2zM378 363.3h2v4.4h-2zM380 363.3h2v4.4h-2zM382 363.3h2v4.4h-2zM384 363.3h2v4.4h-2zM386 363.3h2v4.4h-2zM388 363.3h2v4.4h-2zM390 363.3h2v4.4h-2zM392 363.3h2v4.4h-2zM394 363.3h2v4.4h-2zM396 363.3h2v4.4h-2zM398 363.3h2v4.4h-2zM400 363.3h2v4.4h-2zM402 363.3h2v4.4h-2zM404 363.3h2v4.4h-2zM406 363.3h2v4.4h-2zM408 363.3h2v4.4h-2z"/><path fill="#93d5c5" d="M410 363.3h2v4.4h-2zM502 363.3h2v4.4h-2zM504 363.3h2v4.4h-2zM506 363.3h2v4.4h-2zM508 363.3h2v4.4h-2zM510 363.3h2v4.4h-2zM512 363.3h2v4.4h-2zM514 363.3h2v4.4h-2zM516 363.3h2v4.4h-2zM518 363.3h2v4.4h-2zM520 363.3h2v4.4h-2zM522 363.3h2v4.4h-2zM524 363.3h2v4.4h-2zM526 363.3h2v4.4h-2zM528 363.3h2v4.4h-2zM530 363.3h2v4.4h-2zM532 363.3h2v4.4h-2zM534 363.3h2v4.4h-2zM536 363.3h2v4.4h-2zM538 363.3h2v4.4h-2zM540 363.3h2v4.4h-2zM542 363.3h2v4.4h-2zM544 363.3h2v4.4h-2zM546 363.3h2v4.4h-2zM548 363.3h2v4.4h-2zM550 363.3h2v4.4h-2zM552 363.3h2v4.4h-2zM554 363.3h2v4.4h-2zM556 363.3h2v4.4h-2zM558 363.3h2v4.4h-2zM560 363.3h2v4.4h-2zM562 363.3h2v4.4h-2zM564 363.3h2v4.4h-2zM566 363.3h2v4.4h-2zM568 363.3h2v4.4h-2zM570 363.3h2v4.4h-2zM572 363.3h2v4.4h-2zM574 363.3h2v4.4h-2zM576 363.3h2v4.4h-2zM578 363.3h2v4.4h-2zM580 363.3h2v4.4h-2zM430 363.3h2v4.4h-2zM456 363.3h2v4.4h-2zM468 363.3h2v4.4h-2zM590 363.3h2v4.4h-2zM592 363.3h2v4.4h-2zM594 363.3h2v4.4h-2zM624 363.3h2v4.4h-2zM638 363.3h2v4.4h-2zM650 363.3h2v4.4h-2zM660 363.3h2v4.4h-2zM668 363.3h2v4.4h-2zM682 363.3h2v4.4h-2zM684 363.3h2v4.4h-2zM702 363.3h2v4.4h-2zM716 363.3h2v4.4h-2zM730 363.3h2v4.4h-2zM738 363.3h2v4.4h-2z"/><path fill="#3aa5c8" d="M50 367.7h2v4.4h-2zM52 367.7h2v4.4h-2zM54 367.7h2v4.4h-2zM56 367.7h2v4.4h-2z"/><path fill="#2a8cc4" d="M58 367.7h2v4.4h-2zM60 367.7h2v4.4h-2zM62 367.7h2v4.4h-2zM64 367.7h2v4.4h-2zM66 367.7h2v4.4h-2zM68 367.7h2v4.4h-2zM176 367.7h2v4.4h-2zM178 367.7h2v4.4h-2zM180 367.7h2v4.4h-2zM182 367.7h2v4.4h-2zM304 367.7h2v4.4h-2zM306 367.7h2v4.4h-2z"/><path fill="#4c5fb0" d="M70 367.7h2v4.4h-2zM72 367.7h2v4.4h-2zM74 367.7h2v4.4h-2zM76 367.7h2v4.4h-2zM78 367.7h2v4.4h-2zM80 367.7h2v4.4h-2zM82 367.7h2v4.4h-2zM84 367.7h2v4.4h-2zM86 367.7h2v4.4h-2zM88 367.7h2v4.4h-2zM90 367.7h2v4.4h-2zM92 367.7h2v4.4h-2z"/><path fill="#4a2480" d="M94 367.7h2v4.4h-2z"/><path fill="#4070bc" d="M96 367.7h2v4.4h-2zM98 367.7h2v4.4h-2zM100 367.7h2v4.4h-2zM102 367.7h2v4.4h-2zM104 367.7h2v4.4h-2zM106 367.7h2v4.4h-2zM108 367.7h2v4.4h-2zM110 367.7h2v4.4h-2zM112 367.7h2v4.4h-2zM114 367.7h2v4.4h-2zM670 367.7h2v4.4h-2zM672 367.7h2v4.4h-2zM674 367.7h2v4.4h-2zM676 367.7h2v4.4h-2zM678 367.7h2v4.4h-2zM680 367.7h2v4.4h-2zM682 367.7h2v4.4h-2zM684 367.7h2v4.4h-2zM686 367.7h2v4.4h-2zM688 367.7h2v4.4h-2z"/><path fill="#3080c0" d="M116 367.7h2v4.4h-2zM118 367.7h2v4.4h-2zM120 367.7h2v4.4h-2zM122 367.7h2v4.4h-2zM124 367.7h2v4.4h-2zM126 367.7h2v4.4h-2zM128 367.7h2v4.4h-2zM130 367.7h2v4.4h-2zM132 367.7h2v4.4h-2zM134 367.7h2v4.4h-2zM136 367.7h2v4.4h-2zM138 367.7h2v4.4h-2zM140 367.7h2v4.4h-2zM142 367.7h2v4.4h-2zM144 367.7h2v4.4h-2zM146 367.7h2v4.4h-2zM148 367.7h2v4.4h-2z"/><path fill="#3a98c8" d="M150 367.7h2v4.4h-2zM152 367.7h2v4.4h-2zM154 367.7h2v4.4h-2zM156 367.7h2v4.4h-2zM158 367.7h2v4.4h-2zM160 367.7h2v4.4h-2zM162 367.7h2v4.4h-2zM164 367.7h2v4.4h-2zM166 367.7h2v4.4h-2zM168 367.7h2v4.4h-2z"/><path fill="#50b8c8" d="M170 367.7h2v4.4h-2zM172 367.7h2v4.4h-2zM174 367.7h2v4.4h-2z"/><path fill="#5058b0" d="M184 367.7h2v4.4h-2zM186 367.7h2v4.4h-2zM188 367.7h2v4.4h-2zM190 367.7h2v4.4h-2zM192 367.7h2v4.4h-2zM194 367.7h2v4.4h-2zM196 367.7h2v4.4h-2zM198 367.7h2v4.4h-2zM300 367.7h2v4.4h-2zM302 367.7h2v4.4h-2z"/><path fill="#4c5aac" d="M200 367.7h2v4.4h-2zM202 367.7h2v4.4h-2zM204 367.7h2v4.4h-2zM206 367.7h2v4.4h-2zM208 367.7h2v4.4h-2zM210 367.7h2v4.4h-2zM212 367.7h2v4.4h-2zM214 367.7h2v4.4h-2zM216 367.7h2v4.4h-2zM218 367.7h2v4.4h-2zM220 367.7h2v4.4h-2zM222 367.7h2v4.4h-2zM224 367.7h2v4.4h-2z"/><path fill="#2f85c3" d="M226 367.7h2v4.4h-2zM228 367.7h2v4.4h-2zM230 367.7h2v4.4h-2zM232 367.7h2v4.4h-2zM234 367.7h2v4.4h-2zM236 367.7h2v4.4h-2zM238 367.7h2v4.4h-2zM240 367.7h2v4.4h-2zM242 367.7h2v4.4h-2zM244 367.7h2v4.4h-2zM246 367.7h2v4.4h-2zM248 367.7h2v4.4h-2zM250 367.7h2v4.4h-2zM252 367.7h2v4.4h-2zM254 367.7h2v4.4h-2zM256 367.7h2v4.4h-2zM258 367.7h2v4.4h-2zM260 367.7h2v4.4h-2zM262 367.7h2v4.4h-2zM264 367.7h2v4.4h-2zM266 367.7h2v4.4h-2zM268 367.7h2v4.4h-2zM270 367.7h2v4.4h-2zM272 367.7h2v4.4h-2zM274 367.7h2v4.4h-2zM276 367.7h2v4.4h-2zM278 367.7h2v4.4h-2zM280 367.7h2v4.4h-2zM282 367.7h2v4.4h-2zM284 367.7h2v4.4h-2zM286 367.7h2v4.4h-2zM288 367.7h2v4.4h-2zM290 367.7h2v4.4h-2zM292 367.7h2v4.4h-2zM294 367.7h2v4.4h-2zM296 367.7h2v4.4h-2zM298 367.7h2v4.4h-2z"/><path fill="#a0dcc8" d="M308 367.7h2v4.4h-2zM310 367.7h2v4.4h-2zM312 367.7h2v4.4h-2zM314 367.7h2v4.4h-2zM316 367.7h2v4.4h-2zM318 367.7h2v4.4h-2zM320 367.7h2v4.4h-2zM322 367.7h2v4.4h-2zM324 367.7h2v4.4h-2zM326 367.7h2v4.4h-2zM328 367.7h2v4.4h-2zM330 367.7h2v4.4h-2zM332 367.7h2v4.4h-2zM334 367.7h2v4.4h-2zM336 367.7h2v4.4h-2zM488 367.7h2v4.4h-2zM490 367.7h2v4.4h-2zM492 367.7h2v4.4h-2zM502 367.7h2v4.4h-2zM504 367.7h2v4.4h-2zM506 367.7h2v4.4h-2zM590 367.7h2v4.4h-2zM592 367.7h2v4.4h-2zM594 367.7h2v4.4h-2zM604 367.7h2v4.4h-2zM606 367.7h2v4.4h-2zM608 367.7h2v4.4h-2zM610 367.7h2v4.4h-2zM612 367.7h2v4.4h-2z"/><path fill="#5ab8c9" d="M338 367.7h2v4.4h-2zM340 367.7h2v4.4h-2zM342 367.7h2v4.4h-2zM344 367.7h2v4.4h-2z"/><path fill="#6cc0cc" d="M346 367.7h2v4.4h-2zM348 367.7h2v4.4h-2zM350 367.7h2v4.4h-2zM614 367.7h2v4.4h-2zM616 367.7h2v4.4h-2zM618 367.7h2v4.4h-2z"/><path fill="#2a90c8" d="M352 367.7h2v4.4h-2zM354 367.7h2v4.4h-2zM356 367.7h2v4.4h-2zM358 367.7h2v4.4h-2zM360 367.7h2v4.4h-2zM362 367.7h2v4.4h-2zM364 367.7h2v4.4h-2zM366 367.7h2v4.4h-2zM368 367.7h2v4.4h-2zM370 367.7h2v4.4h-2z"/><path fill="#40a0c8" d="M372 367.7h2v4.4h-2zM374 367.7h2v4.4h-2zM376 367.7h2v4.4h-2zM378 367.7h2v4.4h-2zM380 367.7h2v4.4h-2zM382 367.7h2v4.4h-2zM384 367.7h2v4.4h-2zM386 367.7h2v4.4h-2zM388 367.7h2v4.4h-2zM390 367.7h2v4.4h-2zM392 367.7h2v4.4h-2zM394 367.7h2v4.4h-2zM396 367.7h2v4.4h-2zM398 367.7h2v4.4h-2z"/><path fill="#2a88c4" d="M400 367.7h2v4.4h-2zM402 367.7h2v4.4h-2zM404 367.7h2v4.4h-2zM406 367.7h2v4.4h-2zM408 367.7h2v4.4h-2zM410 367.7h2v4.4h-2zM494 367.7h2v4.4h-2zM496 367.7h2v4.4h-2z"/><path fill="#5a50b0" d="M412 367.7h2v4.4h-2zM414 367.7h2v4.4h-2z"/><path fill="#48b0c8" d="M416 367.7h2v4.4h-2zM418 367.7h2v4.4h-2zM420 367.7h2v4.4h-2zM422 367.7h2v4.4h-2zM424 367.7h2v4.4h-2zM426 367.7h2v4.4h-2zM428 367.7h2v4.4h-2z"/><path fill="#8cd0c8" d="M430 367.7h2v4.4h-2zM432 367.7h2v4.4h-2zM434 367.7h2v4.4h-2zM436 367.7h2v4.4h-2zM438 367.7h2v4.4h-2zM440 367.7h2v4.4h-2zM442 367.7h2v4.4h-2zM444 367.7h2v4.4h-2zM446 367.7h2v4.4h-2zM448 367.7h2v4.4h-2z"/><path fill="#3fa8c8" d="M450 367.7h2v4.4h-2zM452 367.7h2v4.4h-2zM454 367.7h2v4.4h-2zM456 367.7h2v4.4h-2zM458 367.7h2v4.4h-2zM460 367.7h2v4.4h-2zM462 367.7h2v4.4h-2zM464 367.7h2v4.4h-2zM466 367.7h2v4.4h-2zM468 367.7h2v4.4h-2zM470 367.7h2v4.4h-2zM472 367.7h2v4.4h-2zM474 367.7h2v4.4h-2zM476 367.7h2v4.4h-2zM478 367.7h2v4.4h-2zM480 367.7h2v4.4h-2zM482 367.7h2v4.4h-2zM484 367.7h2v4.4h-2zM486 367.7h2v4.4h-2z"/><path fill="#7cc8cc" d="M508 367.7h2v4.4h-2zM510 367.7h2v4.4h-2zM512 367.7h2v4.4h-2zM514 367.7h2v4.4h-2zM580 367.7h2v4.4h-2zM582 367.7h2v4.4h-2zM584 367.7h2v4.4h-2zM586 367.7h2v4.4h-2zM588 367.7h2v4.4h-2z"/><path fill="#3898cc" d="M516 367.7h2v4.4h-2zM518 367.7h2v4.4h-2zM520 367.7h2v4.4h-2zM522 367.7h2v4.4h-2zM524 367.7h2v4.4h-2zM526 367.7h2v4.4h-2zM528 367.7h2v4.4h-2zM530 367.7h2v4.4h-2zM532 367.7h2v4.4h-2zM534 367.7h2v4.4h-2zM536 367.7h2v4.4h-2zM538 367.7h2v4.4h-2zM540 367.7h2v4.4h-2zM542 367.7h2v4.4h-2zM544 367.7h2v4.4h-2z"/><path fill="#40a8c8" d="M546 367.7h2v4.4h-2zM548 367.7h2v4.4h-2zM550 367.7h2v4.4h-2zM552 367.7h2v4.4h-2zM554 367.7h2v4.4h-2zM556 367.7h2v4.4h-2zM558 367.7h2v4.4h-2zM560 367.7h2v4.4h-2zM562 367.7h2v4.4h-2zM564 367.7h2v4.4h-2zM566 367.7h2v4.4h-2zM568 367.7h2v4.4h-2zM570 367.7h2v4.4h-2zM572 367.7h2v4.4h-2zM574 367.7h2v4.4h-2zM576 367.7h2v4.4h-2zM578 367.7h2v4.4h-2zM596 367.7h2v4.4h-2zM598 367.7h2v4.4h-2zM600 367.7h2v4.4h-2zM602 367.7h2v4.4h-2z"/><path fill="#3aa0cc" d="M620 367.7h2v4.4h-2zM622 367.7h2v4.4h-2zM624 367.7h2v4.4h-2zM626 367.7h2v4.4h-2zM628 367.7h2v4.4h-2zM630 367.7h2v4.4h-2zM632 367.7h2v4.4h-2zM634 367.7h2v4.4h-2zM636 367.7h2v4.4h-2zM638 367.7h2v4.4h-2zM640 367.7h2v4.4h-2zM642 367.7h2v4.4h-2zM644 367.7h2v4.4h-2zM646 367.7h2v4.4h-2zM648 367.7h2v4.4h-2z"/><path fill="#2a8ac8" d="M650 367.7h2v4.4h-2zM652 367.7h2v4.4h-2zM654 367.7h2v4.4h-2zM656 367.7h2v4.4h-2zM658 367.7h2v4.4h-2zM660 367.7h2v4.4h-2zM662 367.7h2v4.4h-2zM664 367.7h2v4.4h-2zM666 367.7h2v4.4h-2zM668 367.7h2v4.4h-2z"/><path fill="#5060b4" d="M690 367.7h2v4.4h-2zM692 367.7h2v4.4h-2zM694 367.7h2v4.4h-2zM696 367.7h2v4.4h-2zM698 367.7h2v4.4h-2zM700 367.7h2v4.4h-2zM702 367.7h2v4.4h-2zM704 367.7h2v4.4h-2zM706 367.7h2v4.4h-2zM708 367.7h2v4.4h-2zM710 367.7h2v4.4h-2zM712 367.7h2v4.4h-2zM714 367.7h2v4.4h-2zM716 367.7h2v4.4h-2zM718 367.7h2v4.4h-2zM720 367.7h2v4.4h-2zM722 367.7h2v4.4h-2zM724 367.7h2v4.4h-2zM726 367.7h2v4.4h-2zM728 367.7h2v4.4h-2zM730 367.7h2v4.4h-2zM732 367.7h2v4.4h-2zM734 367.7h2v4.4h-2zM736 367.7h2v4.4h-2zM738 367.7h2v4.4h-2zM740 367.7h2v4.4h-2zM742 367.7h2v4.4h-2zM744 367.7h2v4.4h-2zM746 367.7h2v4.4h-2zM748 367.7h2v4.4h-2zM750 367.7h2v4.4h-2zM752 367.7h2v4.4h-2z"/><path fill="#3ab0d0" d="M754 367.7h2v4.4h-2z"/></g>
<rect x="50" y="233" width="706" height="140" fill="url(#st)" shape-rendering="crispEdges"/>
<path fill="#fff" fill-opacity="0.07" shape-rendering="crispEdges" d="M50 368h706v1h-706zM50 363h706v1h-706zM50 359h706v1h-706zM50 354h706v1h-706zM50 350h706v1h-706zM50 346h706v1h-706zM50 341h706v1h-706zM50 337h706v1h-706zM50 332h706v1h-706zM50 328h706v1h-706zM50 324h706v1h-706zM50 319h706v1h-706zM50 315h706v1h-706zM50 310h706v1h-706zM50 306h706v1h-706zM50 302h706v1h-706zM50 297h706v1h-706zM50 293h706v1h-706zM50 288h706v1h-706zM50 284h706v1h-706zM50 280h706v1h-706zM50 275h706v1h-706zM50 271h706v1h-706zM50 266h706v1h-706zM50 262h706v1h-706zM50 258h706v1h-706zM50 253h706v1h-706zM50 249h706v1h-706zM50 244h706v1h-706zM50 240h706v1h-706zM50 236h706v1h-706z"/>
<rect x="44" y="372" width="712" height="1" fill="#626977"/><rect x="105" y="373" width="1" height="5" fill="#626977"/><text x="105.5" y="388.9" font-size="10.8" fill="#555b67" text-anchor="middle">21:20</text><rect x="223" y="373" width="1" height="5" fill="#626977"/><text x="223.5" y="388.9" font-size="10.8" fill="#555b67" text-anchor="middle">21:25</text><rect x="340" y="373" width="1" height="5" fill="#626977"/><text x="340.5" y="388.9" font-size="10.8" fill="#555b67" text-anchor="middle">21:30</text><rect x="458" y="373" width="1" height="5" fill="#626977"/><text x="458.5" y="388.9" font-size="10.8" fill="#555b67" text-anchor="middle">21:35</text><rect x="576" y="373" width="1" height="5" fill="#626977"/><text x="576.5" y="388.9" font-size="10.8" fill="#555b67" text-anchor="middle">21:40</text><rect x="693" y="373" width="1" height="5" fill="#626977"/><text x="693.5" y="388.9" font-size="10.8" fill="#555b67" text-anchor="middle">21:45</text><text x="756.3" y="387.9" font-size="9.2" fill="#6b717c" text-anchor="start" textLength="17.6" lengthAdjust="spacingAndGlyphs">UTC</text>
<rect x="776" y="233" width="8" height="8" fill="#46237d"/><rect x="776" y="243" width="8" height="8" fill="#5350a6"/><rect x="776" y="253" width="8" height="8" fill="#4274bf"/><rect x="776" y="263" width="8" height="8" fill="#1f8fc4"/><rect x="776" y="273" width="8" height="8" fill="#34a3c8"/><rect x="776" y="283" width="8" height="8" fill="#52b8c9"/><rect x="776" y="293" width="8" height="8" fill="#9ad8c5"/><text x="773" y="237.1" font-size="8.7" fill="#555b67" text-anchor="end">450000</text><text x="773" y="270.3" font-size="8.7" fill="#555b67" text-anchor="end">225001</text><text x="773" y="302.6" font-size="8.7" fill="#555b67" text-anchor="end">3</text>
<rect x="50" y="433" width="1" height="140" fill="#626977"/><rect x="44" y="571.9" width="6" height="1" fill="#626977"/><text x="40.6" y="575.5" font-size="8.7" fill="#555b67" text-anchor="end">0</text><rect x="44" y="550.22" width="6" height="1" fill="#626977"/><text x="40.6" y="553.82" font-size="8.7" fill="#555b67" text-anchor="end">5G</text><rect x="44" y="528.54" width="6" height="1" fill="#626977"/><text x="40.6" y="532.14" font-size="8.7" fill="#555b67" text-anchor="end">10G</text><rect x="44" y="506.86" width="6" height="1" fill="#626977"/><text x="40.6" y="510.46" font-size="8.7" fill="#555b67" text-anchor="end">15G</text><rect x="44" y="485.18" width="6" height="1" fill="#626977"/><text x="40.6" y="488.78" font-size="8.7" fill="#555b67" text-anchor="end">20G</text><rect x="44" y="463.5" width="6" height="1" fill="#626977"/><text x="40.6" y="467.1" font-size="8.7" fill="#555b67" text-anchor="end">25G</text><rect x="44" y="441.82" width="6" height="1" fill="#626977"/><text x="40.6" y="445.42" font-size="8.7" fill="#555b67" text-anchor="end">30G</text>
<g shape-rendering="crispEdges"><path fill="#9ad8c5" d="M50 567.86h2v3.94h-2zM50 563.92h2v3.94h-2zM50 559.98h2v3.94h-2zM50 556.04h2v3.94h-2zM50 552.1h2v3.94h-2zM50 548.16h2v3.94h-2zM50 544.22h2v3.94h-2zM52 548.16h2v3.94h-2zM52 544.22h2v3.94h-2zM54 552.1h2v3.94h-2zM54 548.16h2v3.94h-2zM54 544.22h2v3.94h-2zM56 548.16h2v3.94h-2zM56 544.22h2v3.94h-2zM58 567.86h2v3.94h-2zM58 563.92h2v3.94h-2zM58 559.98h2v3.94h-2zM58 556.04h2v3.94h-2zM58 552.1h2v3.94h-2zM58 548.16h2v3.94h-2zM58 544.22h2v3.94h-2zM60 563.92h2v3.94h-2zM60 548.16h2v3.94h-2zM60 544.22h2v3.94h-2zM62 559.98h2v3.94h-2zM62 552.1h2v3.94h-2zM62 544.22h2v3.94h-2zM64 563.92h2v3.94h-2zM64 544.22h2v3.94h-2zM66 567.86h2v3.94h-2zM66 544.22h2v3.94h-2zM68 567.86h2v3.94h-2zM72 563.92h2v3.94h-2zM74 563.92h2v3.94h-2zM76 563.92h2v3.94h-2zM78 563.92h2v3.94h-2zM80 567.86h2v3.94h-2zM80 563.92h2v3.94h-2zM82 567.86h2v3.94h-2zM82 563.92h2v3.94h-2zM84 563.92h2v3.94h-2zM84 548.16h2v3.94h-2zM86 567.86h2v3.94h-2zM86 563.92h2v3.94h-2zM88 567.86h2v3.94h-2zM88 563.92h2v3.94h-2zM90 563.92h2v3.94h-2zM92 556.04h2v3.94h-2zM92 552.1h2v3.94h-2zM94 563.92h2v3.94h-2zM96 563.92h2v3.94h-2zM96 544.22h2v3.94h-2zM98 567.86h2v3.94h-2zM98 563.92h2v3.94h-2zM98 540.28h2v3.94h-2zM98 536.34h2v3.94h-2zM100 563.92h2v3.94h-2zM100 540.28h2v3.94h-2zM100 536.34h2v3.94h-2zM102 567.86h2v3.94h-2zM102 563.92h2v3.94h-2zM102 536.34h2v3.94h-2zM104 567.86h2v3.94h-2zM104 563.92h2v3.94h-2zM104 536.34h2v3.94h-2zM106 540.28h2v3.94h-2zM106 532.4h2v3.94h-2zM108 567.86h2v3.94h-2zM108 563.92h2v3.94h-2zM108 532.4h2v3.94h-2zM110 563.92h2v3.94h-2zM110 536.34h2v3.94h-2zM112 567.86h2v3.94h-2zM112 563.92h2v3.94h-2zM112 552.1h2v3.94h-2zM112 536.34h2v3.94h-2zM114 552.1h2v3.94h-2zM114 536.34h2v3.94h-2zM114 532.4h2v3.94h-2zM116 567.86h2v3.94h-2zM116 563.92h2v3.94h-2zM116 552.1h2v3.94h-2zM116 532.4h2v3.94h-2zM118 567.86h2v3.94h-2zM118 552.1h2v3.94h-2zM118 548.16h2v3.94h-2zM118 532.4h2v3.94h-2zM118 528.46h2v3.94h-2zM118 520.58h2v3.94h-2zM120 567.86h2v3.94h-2zM120 563.92h2v3.94h-2zM120 552.1h2v3.94h-2zM120 548.16h2v3.94h-2zM122 563.92h2v3.94h-2zM122 552.1h2v3.94h-2zM122 548.16h2v3.94h-2zM122 544.22h2v3.94h-2zM124 567.86h2v3.94h-2zM124 563.92h2v3.94h-2zM124 552.1h2v3.94h-2zM124 548.16h2v3.94h-2zM124 544.22h2v3.94h-2zM126 567.86h2v3.94h-2zM126 552.1h2v3.94h-2zM126 548.16h2v3.94h-2zM126 544.22h2v3.94h-2zM128 563.92h2v3.94h-2zM128 552.1h2v3.94h-2zM128 548.16h2v3.94h-2zM128 544.22h2v3.94h-2zM128 540.28h2v3.94h-2zM130 552.1h2v3.94h-2zM130 548.16h2v3.94h-2zM130 544.22h2v3.94h-2zM130 540.28h2v3.94h-2zM130 500.88h2v3.94h-2zM132 563.92h2v3.94h-2zM132 552.1h2v3.94h-2zM132 548.16h2v3.94h-2zM132 544.22h2v3.94h-2zM132 540.28h2v3.94h-2zM132 536.34h2v3.94h-2zM132 496.94h2v3.94h-2zM132 493h2v3.94h-2zM134 567.86h2v3.94h-2zM134 552.1h2v3.94h-2zM134 548.16h2v3.94h-2zM134 544.22h2v3.94h-2zM134 540.28h2v3.94h-2zM134 536.34h2v3.94h-2zM134 493h2v3.94h-2zM134 489.06h2v3.94h-2zM134 485.12h2v3.94h-2zM136 552.1h2v3.94h-2zM136 548.16h2v3.94h-2zM136 544.22h2v3.94h-2zM136 540.28h2v3.94h-2zM136 536.34h2v3.94h-2zM136 532.4h2v3.94h-2zM136 489.06h2v3.94h-2zM136 485.12h2v3.94h-2zM138 567.86h2v3.94h-2zM138 563.92h2v3.94h-2zM138 552.1h2v3.94h-2zM138 548.16h2v3.94h-2zM138 544.22h2v3.94h-2zM138 540.28h2v3.94h-2zM138 536.34h2v3.94h-2zM138 532.4h2v3.94h-2zM138 528.46h2v3.94h-2zM138 485.12h2v3.94h-2zM138 481.18h2v3.94h-2zM140 567.86h2v3.94h-2zM140 563.92h2v3.94h-2zM142 563.92h2v3.94h-2zM144 567.86h2v3.94h-2zM144 563.92h2v3.94h-2zM146 567.86h2v3.94h-2zM146 563.92h2v3.94h-2zM148 563.92h2v3.94h-2zM150 567.86h2v3.94h-2zM150 559.98h2v3.94h-2zM152 559.98h2v3.94h-2zM154 567.86h2v3.94h-2zM158 563.92h2v3.94h-2zM160 567.86h2v3.94h-2zM160 563.92h2v3.94h-2zM160 559.98h2v3.94h-2zM162 567.86h2v3.94h-2zM162 559.98h2v3.94h-2zM164 567.86h2v3.94h-2zM164 559.98h2v3.94h-2zM166 567.86h2v3.94h-2zM172 559.98h2v3.94h-2zM174 563.92h2v3.94h-2zM174 559.98h2v3.94h-2zM176 567.86h2v3.94h-2zM176 563.92h2v3.94h-2zM178 563.92h2v3.94h-2zM178 544.22h2v3.94h-2zM180 563.92h2v3.94h-2zM180 544.22h2v3.94h-2zM182 563.92h2v3.94h-2zM182 544.22h2v3.94h-2zM184 567.86h2v3.94h-2zM184 563.92h2v3.94h-2zM186 567.86h2v3.94h-2zM186 563.92h2v3.94h-2zM188 563.92h2v3.94h-2zM188 544.22h2v3.94h-2zM190 563.92h2v3.94h-2zM192 567.86h2v3.94h-2zM192 563.92h2v3.94h-2zM194 563.92h2v3.94h-2zM196 567.86h2v3.94h-2zM196 563.92h2v3.94h-2zM198 563.92h2v3.94h-2zM200 567.86h2v3.94h-2zM200 563.92h2v3.94h-2zM202 563.92h2v3.94h-2zM204 567.86h2v3.94h-2zM204 563.92h2v3.94h-2zM206 563.92h2v3.94h-2zM208 563.92h2v3.94h-2zM210 563.92h2v3.94h-2zM212 567.86h2v3.94h-2zM212 563.92h2v3.94h-2zM214 567.86h2v3.94h-2zM216 567.86h2v3.94h-2zM220 567.86h2v3.94h-2zM222 567.86h2v3.94h-2zM224 563.92h2v3.94h-2zM226 567.86h2v3.94h-2zM228 567.86h2v3.94h-2zM228 544.22h2v3.94h-2zM236 567.86h2v3.94h-2zM238 567.86h2v3.94h-2zM240 567.86h2v3.94h-2zM242 563.92h2v3.94h-2zM244 567.86h2v3.94h-2zM246 563.92h2v3.94h-2zM250 512.7h2v3.94h-2zM252 563.92h2v3.94h-2zM252 512.7h2v3.94h-2zM258 567.86h2v3.94h-2zM260 563.92h2v3.94h-2zM268 567.86h2v3.94h-2zM270 567.86h2v3.94h-2zM270 563.92h2v3.94h-2zM284 563.92h2v3.94h-2zM286 567.86h2v3.94h-2zM296 563.92h2v3.94h-2zM298 567.86h2v3.94h-2zM298 563.92h2v3.94h-2zM300 567.86h2v3.94h-2zM300 563.92h2v3.94h-2zM302 567.86h2v3.94h-2zM302 563.92h2v3.94h-2zM304 567.86h2v3.94h-2zM304 563.92h2v3.94h-2zM304 532.4h2v3.94h-2zM304 528.46h2v3.94h-2zM312 563.92h2v3.94h-2zM314 567.86h2v3.94h-2zM316 567.86h2v3.94h-2zM318 567.86h2v3.94h-2zM320 567.86h2v3.94h-2zM322 556.04h2v3.94h-2zM324 563.92h2v3.94h-2zM326 567.86h2v3.94h-2zM328 567.86h2v3.94h-2zM328 563.92h2v3.94h-2zM334 567.86h2v3.94h-2zM338 567.86h2v3.94h-2zM340 567.86h2v3.94h-2zM340 563.92h2v3.94h-2zM348 567.86h2v3.94h-2zM352 567.86h2v3.94h-2zM352 563.92h2v3.94h-2zM352 559.98h2v3.94h-2zM352 556.04h2v3.94h-2zM354 567.86h2v3.94h-2zM354 563.92h2v3.94h-2zM354 559.98h2v3.94h-2zM354 556.04h2v3.94h-2zM356 567.86h2v3.94h-2zM356 563.92h2v3.94h-2zM356 559.98h2v3.94h-2zM356 556.04h2v3.94h-2zM358 563.92h2v3.94h-2zM358 559.98h2v3.94h-2zM358 556.04h2v3.94h-2zM360 563.92h2v3.94h-2zM360 559.98h2v3.94h-2zM360 556.04h2v3.94h-2zM362 563.92h2v3.94h-2zM362 559.98h2v3.94h-2zM362 556.04h2v3.94h-2zM364 559.98h2v3.94h-2zM364 556.04h2v3.94h-2zM364 504.82h2v3.94h-2zM366 559.98h2v3.94h-2zM366 556.04h2v3.94h-2zM366 504.82h2v3.94h-2zM366 500.88h2v3.94h-2zM366 496.94h2v3.94h-2zM368 559.98h2v3.94h-2zM368 556.04h2v3.94h-2zM368 508.76h2v3.94h-2zM368 504.82h2v3.94h-2zM368 500.88h2v3.94h-2zM368 496.94h2v3.94h-2zM368 493h2v3.94h-2zM370 556.04h2v3.94h-2zM372 556.04h2v3.94h-2zM374 556.04h2v3.94h-2zM376 556.04h2v3.94h-2zM376 508.76h2v3.94h-2zM378 567.86h2v3.94h-2zM378 508.76h2v3.94h-2zM380 508.76h2v3.94h-2zM382 508.76h2v3.94h-2zM386 563.92h2v3.94h-2zM388 556.04h2v3.94h-2zM388 508.76h2v3.94h-2zM390 544.22h2v3.94h-2zM390 508.76h2v3.94h-2zM392 544.22h2v3.94h-2zM392 540.28h2v3.94h-2zM392 508.76h2v3.94h-2zM394 552.1h2v3.94h-2zM394 544.22h2v3.94h-2zM394 540.28h2v3.94h-2zM396 540.28h2v3.94h-2zM398 540.28h2v3.94h-2zM398 536.34h2v3.94h-2zM400 540.28h2v3.94h-2zM400 536.34h2v3.94h-2zM402 536.34h2v3.94h-2zM404 567.86h2v3.94h-2zM404 563.92h2v3.94h-2zM404 540.28h2v3.94h-2zM404 536.34h2v3.94h-2zM404 532.4h2v3.94h-2zM406 567.86h2v3.94h-2zM406 563.92h2v3.94h-2zM406 536.34h2v3.94h-2zM406 532.4h2v3.94h-2zM408 563.92h2v3.94h-2zM408 540.28h2v3.94h-2zM408 536.34h2v3.94h-2zM408 532.4h2v3.94h-2zM410 563.92h2v3.94h-2zM410 540.28h2v3.94h-2zM410 536.34h2v3.94h-2zM410 532.4h2v3.94h-2zM410 528.46h2v3.94h-2zM410 524.52h2v3.94h-2zM410 520.58h2v3.94h-2zM410 516.64h2v3.94h-2zM410 512.7h2v3.94h-2zM410 508.76h2v3.94h-2zM412 563.92h2v3.94h-2zM412 540.28h2v3.94h-2zM412 536.34h2v3.94h-2zM412 532.4h2v3.94h-2zM412 528.46h2v3.94h-2zM412 524.52h2v3.94h-2zM412 520.58h2v3.94h-2zM412 516.64h2v3.94h-2zM412 512.7h2v3.94h-2zM412 508.76h2v3.94h-2zM414 563.92h2v3.94h-2zM414 540.28h2v3.94h-2zM414 536.34h2v3.94h-2zM414 532.4h2v3.94h-2zM414 528.46h2v3.94h-2zM414 524.52h2v3.94h-2zM416 567.86h2v3.94h-2zM416 563.92h2v3.94h-2zM418 567.86h2v3.94h-2zM424 559.98h2v3.94h-2zM424 548.16h2v3.94h-2zM426 548.16h2v3.94h-2zM428 567.86h2v3.94h-2zM428 559.98h2v3.94h-2zM428 548.16h2v3.94h-2zM430 563.92h2v3.94h-2zM430 559.98h2v3.94h-2zM432 559.98h2v3.94h-2zM432 548.16h2v3.94h-2zM434 567.86h2v3.94h-2zM436 563.92h2v3.94h-2zM436 559.98h2v3.94h-2zM436 548.16h2v3.94h-2zM438 563.92h2v3.94h-2zM440 567.86h2v3.94h-2zM440 548.16h2v3.94h-2zM444 559.98h2v3.94h-2zM446 559.98h2v3.94h-2zM448 559.98h2v3.94h-2zM454 567.86h2v3.94h-2zM454 548.16h2v3.94h-2zM456 559.98h2v3.94h-2zM458 567.86h2v3.94h-2zM458 559.98h2v3.94h-2zM458 544.22h2v3.94h-2zM460 559.98h2v3.94h-2zM462 548.16h2v3.94h-2zM464 559.98h2v3.94h-2zM466 548.16h2v3.94h-2zM470 559.98h2v3.94h-2zM470 548.16h2v3.94h-2zM472 567.86h2v3.94h-2zM472 559.98h2v3.94h-2zM474 559.98h2v3.94h-2zM476 567.86h2v3.94h-2zM478 559.98h2v3.94h-2zM480 548.16h2v3.94h-2zM482 563.92h2v3.94h-2zM482 559.98h2v3.94h-2zM482 548.16h2v3.94h-2zM486 563.92h2v3.94h-2zM486 559.98h2v3.94h-2zM488 559.98h2v3.94h-2zM490 559.98h2v3.94h-2zM490 548.16h2v3.94h-2zM492 567.86h2v3.94h-2zM492 559.98h2v3.94h-2zM492 548.16h2v3.94h-2zM494 563.92h2v3.94h-2zM494 559.98h2v3.94h-2zM494 548.16h2v3.94h-2zM498 556.04h2v3.94h-2zM498 552.1h2v3.94h-2zM506 563.92h2v3.94h-2zM506 559.98h2v3.94h-2zM512 563.92h2v3.94h-2zM524 563.92h2v3.94h-2zM530 508.76h2v3.94h-2zM530 504.82h2v3.94h-2zM530 500.88h2v3.94h-2zM530 496.94h2v3.94h-2zM532 496.94h2v3.94h-2zM532 493h2v3.94h-2zM534 563.92h2v3.94h-2zM534 500.88h2v3.94h-2zM534 496.94h2v3.94h-2zM534 493h2v3.94h-2zM534 489.06h2v3.94h-2zM536 556.04h2v3.94h-2zM536 493h2v3.94h-2zM536 485.12h2v3.94h-2zM538 496.94h2v3.94h-2zM538 493h2v3.94h-2zM538 489.06h2v3.94h-2zM538 485.12h2v3.94h-2zM538 481.18h2v3.94h-2zM540 508.76h2v3.94h-2zM540 493h2v3.94h-2zM540 489.06h2v3.94h-2zM540 485.12h2v3.94h-2zM540 481.18h2v3.94h-2zM542 508.76h2v3.94h-2zM542 504.82h2v3.94h-2zM542 489.06h2v3.94h-2zM542 485.12h2v3.94h-2zM542 481.18h2v3.94h-2zM544 563.92h2v3.94h-2zM544 508.76h2v3.94h-2zM544 504.82h2v3.94h-2zM546 508.76h2v3.94h-2zM546 504.82h2v3.94h-2zM546 485.12h2v3.94h-2zM548 563.92h2v3.94h-2zM548 504.82h2v3.94h-2zM548 496.94h2v3.94h-2zM550 500.88h2v3.94h-2zM550 496.94h2v3.94h-2zM550 493h2v3.94h-2zM552 508.76h2v3.94h-2zM552 496.94h2v3.94h-2zM552 493h2v3.94h-2zM554 508.76h2v3.94h-2zM554 493h2v3.94h-2zM554 485.12h2v3.94h-2zM556 563.92h2v3.94h-2zM556 508.76h2v3.94h-2zM556 504.82h2v3.94h-2zM556 500.88h2v3.94h-2zM556 489.06h2v3.94h-2zM556 481.18h2v3.94h-2zM556 477.24h2v3.94h-2zM558 567.86h2v3.94h-2zM558 504.82h2v3.94h-2zM558 500.88h2v3.94h-2zM558 496.94h2v3.94h-2zM558 485.12h2v3.94h-2zM558 481.18h2v3.94h-2zM558 477.24h2v3.94h-2zM558 473.3h2v3.94h-2zM560 508.76h2v3.94h-2zM560 504.82h2v3.94h-2zM560 500.88h2v3.94h-2zM560 496.94h2v3.94h-2zM560 493h2v3.94h-2zM560 481.18h2v3.94h-2zM560 477.24h2v3.94h-2zM560 469.36h2v3.94h-2zM562 504.82h2v3.94h-2zM562 500.88h2v3.94h-2zM562 496.94h2v3.94h-2zM562 493h2v3.94h-2zM562 489.06h2v3.94h-2zM562 481.18h2v3.94h-2zM562 477.24h2v3.94h-2zM562 473.3h2v3.94h-2zM562 469.36h2v3.94h-2zM562 465.42h2v3.94h-2zM564 508.76h2v3.94h-2zM564 504.82h2v3.94h-2zM564 500.88h2v3.94h-2zM564 493h2v3.94h-2zM564 473.3h2v3.94h-2zM564 469.36h2v3.94h-2zM564 465.42h2v3.94h-2zM564 461.48h2v3.94h-2zM564 457.54h2v3.94h-2zM566 508.76h2v3.94h-2zM566 504.82h2v3.94h-2zM566 500.88h2v3.94h-2zM566 496.94h2v3.94h-2zM566 485.12h2v3.94h-2zM566 481.18h2v3.94h-2zM566 473.3h2v3.94h-2zM566 469.36h2v3.94h-2zM566 465.42h2v3.94h-2zM568 567.86h2v3.94h-2zM568 563.92h2v3.94h-2zM568 508.76h2v3.94h-2zM568 504.82h2v3.94h-2zM568 500.88h2v3.94h-2zM568 496.94h2v3.94h-2zM568 489.06h2v3.94h-2zM568 485.12h2v3.94h-2zM568 481.18h2v3.94h-2zM568 477.24h2v3.94h-2zM568 469.36h2v3.94h-2zM568 465.42h2v3.94h-2zM570 567.86h2v3.94h-2zM570 563.92h2v3.94h-2zM570 559.98h2v3.94h-2zM570 556.04h2v3.94h-2zM570 552.1h2v3.94h-2zM570 548.16h2v3.94h-2zM570 544.22h2v3.94h-2zM570 540.28h2v3.94h-2zM570 536.34h2v3.94h-2zM570 532.4h2v3.94h-2zM570 528.46h2v3.94h-2zM570 524.52h2v3.94h-2zM570 520.58h2v3.94h-2zM570 516.64h2v3.94h-2zM570 512.7h2v3.94h-2zM570 508.76h2v3.94h-2zM570 504.82h2v3.94h-2zM570 500.88h2v3.94h-2zM570 496.94h2v3.94h-2zM570 493h2v3.94h-2zM570 489.06h2v3.94h-2zM570 485.12h2v3.94h-2zM570 481.18h2v3.94h-2zM570 477.24h2v3.94h-2zM570 473.3h2v3.94h-2zM570 465.42h2v3.94h-2zM572 552.1h2v3.94h-2zM572 536.34h2v3.94h-2zM572 532.4h2v3.94h-2zM572 528.46h2v3.94h-2zM572 524.52h2v3.94h-2zM572 520.58h2v3.94h-2zM572 516.64h2v3.94h-2zM572 512.7h2v3.94h-2zM572 508.76h2v3.94h-2zM572 504.82h2v3.94h-2zM572 500.88h2v3.94h-2zM572 496.94h2v3.94h-2zM572 493h2v3.94h-2zM572 485.12h2v3.94h-2zM572 481.18h2v3.94h-2zM572 477.24h2v3.94h-2zM572 473.3h2v3.94h-2zM572 469.36h2v3.94h-2zM572 461.48h2v3.94h-2zM574 567.86h2v3.94h-2zM574 556.04h2v3.94h-2zM574 536.34h2v3.94h-2zM574 532.4h2v3.94h-2zM574 528.46h2v3.94h-2zM574 524.52h2v3.94h-2zM574 520.58h2v3.94h-2zM574 516.64h2v3.94h-2zM574 512.7h2v3.94h-2zM574 508.76h2v3.94h-2zM574 504.82h2v3.94h-2zM574 500.88h2v3.94h-2zM574 493h2v3.94h-2zM574 489.06h2v3.94h-2zM574 485.12h2v3.94h-2zM574 481.18h2v3.94h-2zM574 477.24h2v3.94h-2zM574 473.3h2v3.94h-2zM574 469.36h2v3.94h-2zM576 567.86h2v3.94h-2zM576 563.92h2v3.94h-2zM576 559.98h2v3.94h-2zM576 556.04h2v3.94h-2zM576 552.1h2v3.94h-2zM576 548.16h2v3.94h-2zM576 544.22h2v3.94h-2zM576 540.28h2v3.94h-2zM576 536.34h2v3.94h-2zM576 532.4h2v3.94h-2zM576 528.46h2v3.94h-2zM576 524.52h2v3.94h-2zM576 520.58h2v3.94h-2zM576 516.64h2v3.94h-2zM576 512.7h2v3.94h-2zM576 508.76h2v3.94h-2zM576 504.82h2v3.94h-2zM576 500.88h2v3.94h-2zM576 496.94h2v3.94h-2zM576 493h2v3.94h-2zM576 485.12h2v3.94h-2zM576 481.18h2v3.94h-2zM576 477.24h2v3.94h-2zM576 473.3h2v3.94h-2zM576 469.36h2v3.94h-2zM576 465.42h2v3.94h-2zM578 567.86h2v3.94h-2zM578 563.92h2v3.94h-2zM578 559.98h2v3.94h-2zM578 556.04h2v3.94h-2zM578 552.1h2v3.94h-2zM578 548.16h2v3.94h-2zM578 544.22h2v3.94h-2zM578 540.28h2v3.94h-2zM578 536.34h2v3.94h-2zM578 532.4h2v3.94h-2zM578 528.46h2v3.94h-2zM578 524.52h2v3.94h-2zM578 520.58h2v3.94h-2zM578 516.64h2v3.94h-2zM578 512.7h2v3.94h-2zM578 508.76h2v3.94h-2zM578 504.82h2v3.94h-2zM578 500.88h2v3.94h-2zM578 496.94h2v3.94h-2zM578 493h2v3.94h-2zM578 489.06h2v3.94h-2zM578 485.12h2v3.94h-2zM578 481.18h2v3.94h-2zM578 477.24h2v3.94h-2zM578 469.36h2v3.94h-2zM578 461.48h2v3.94h-2zM580 567.86h2v3.94h-2zM580 563.92h2v3.94h-2zM580 559.98h2v3.94h-2zM580 556.04h2v3.94h-2zM580 552.1h2v3.94h-2zM580 548.16h2v3.94h-2zM580 544.22h2v3.94h-2zM580 540.28h2v3.94h-2zM580 536.34h2v3.94h-2zM580 532.4h2v3.94h-2zM580 528.46h2v3.94h-2zM580 524.52h2v3.94h-2zM580 520.58h2v3.94h-2zM580 516.64h2v3.94h-2zM580 512.7h2v3.94h-2zM580 508.76h2v3.94h-2zM580 504.82h2v3.94h-2zM580 500.88h2v3.94h-2zM580 496.94h2v3.94h-2zM580 489.06h2v3.94h-2zM580 485.12h2v3.94h-2zM580 481.18h2v3.94h-2zM580 477.24h2v3.94h-2zM580 473.3h2v3.94h-2zM580 469.36h2v3.94h-2zM580 465.42h2v3.94h-2zM580 461.48h2v3.94h-2zM582 567.86h2v3.94h-2zM582 563.92h2v3.94h-2zM582 559.98h2v3.94h-2zM582 556.04h2v3.94h-2zM582 552.1h2v3.94h-2zM582 548.16h2v3.94h-2zM582 544.22h2v3.94h-2zM582 540.28h2v3.94h-2zM582 536.34h2v3.94h-2zM582 532.4h2v3.94h-2zM582 528.46h2v3.94h-2zM582 524.52h2v3.94h-2zM582 520.58h2v3.94h-2zM582 516.64h2v3.94h-2zM582 512.7h2v3.94h-2zM582 508.76h2v3.94h-2zM582 504.82h2v3.94h-2zM582 500.88h2v3.94h-2zM582 496.94h2v3.94h-2zM582 493h2v3.94h-2zM582 489.06h2v3.94h-2zM582 485.12h2v3.94h-2zM582 481.18h2v3.94h-2zM582 477.24h2v3.94h-2zM582 473.3h2v3.94h-2zM582 469.36h2v3.94h-2zM582 465.42h2v3.94h-2zM582 461.48h2v3.94h-2zM582 457.54h2v3.94h-2zM582 453.6h2v3.94h-2zM582 449.66h2v3.94h-2zM584 567.86h2v3.94h-2zM584 563.92h2v3.94h-2zM584 559.98h2v3.94h-2zM584 556.04h2v3.94h-2zM584 548.16h2v3.94h-2zM584 544.22h2v3.94h-2zM584 540.28h2v3.94h-2zM584 536.34h2v3.94h-2zM584 532.4h2v3.94h-2zM584 528.46h2v3.94h-2zM584 524.52h2v3.94h-2zM584 520.58h2v3.94h-2zM584 516.64h2v3.94h-2zM584 512.7h2v3.94h-2zM584 508.76h2v3.94h-2zM584 504.82h2v3.94h-2zM584 500.88h2v3.94h-2zM584 496.94h2v3.94h-2zM584 493h2v3.94h-2zM584 489.06h2v3.94h-2zM584 485.12h2v3.94h-2zM584 481.18h2v3.94h-2zM584 477.24h2v3.94h-2zM584 473.3h2v3.94h-2zM584 469.36h2v3.94h-2zM584 465.42h2v3.94h-2zM584 461.48h2v3.94h-2zM586 559.98h2v3.94h-2zM586 556.04h2v3.94h-2zM586 540.28h2v3.94h-2zM586 536.34h2v3.94h-2zM588 559.98h2v3.94h-2zM590 567.86h2v3.94h-2zM590 556.04h2v3.94h-2zM590 552.1h2v3.94h-2zM592 552.1h2v3.94h-2zM592 548.16h2v3.94h-2zM594 548.16h2v3.94h-2zM598 567.86h2v3.94h-2zM598 548.16h2v3.94h-2zM600 559.98h2v3.94h-2zM602 563.92h2v3.94h-2zM606 559.98h2v3.94h-2zM606 556.04h2v3.94h-2zM608 559.98h2v3.94h-2zM608 556.04h2v3.94h-2zM608 552.1h2v3.94h-2zM610 559.98h2v3.94h-2zM612 567.86h2v3.94h-2zM614 563.92h2v3.94h-2zM614 559.98h2v3.94h-2zM616 559.98h2v3.94h-2zM618 559.98h2v3.94h-2zM620 563.92h2v3.94h-2zM620 548.16h2v3.94h-2zM622 544.22h2v3.94h-2zM624 548.16h2v3.94h-2zM626 563.92h2v3.94h-2zM628 548.16h2v3.94h-2zM630 548.16h2v3.94h-2zM634 563.92h2v3.94h-2zM634 548.16h2v3.94h-2zM636 567.86h2v3.94h-2zM636 548.16h2v3.94h-2zM638 563.92h2v3.94h-2zM638 548.16h2v3.94h-2zM640 548.16h2v3.94h-2zM642 563.92h2v3.94h-2zM642 548.16h2v3.94h-2zM644 548.16h2v3.94h-2zM646 563.92h2v3.94h-2zM650 563.92h2v3.94h-2zM652 548.16h2v3.94h-2zM654 548.16h2v3.94h-2zM658 548.16h2v3.94h-2zM660 548.16h2v3.94h-2zM662 563.92h2v3.94h-2zM664 563.92h2v3.94h-2zM664 548.16h2v3.94h-2zM668 548.16h2v3.94h-2zM672 563.92h2v3.94h-2zM672 548.16h2v3.94h-2zM678 548.16h2v3.94h-2zM680 563.92h2v3.94h-2zM682 563.92h2v3.94h-2zM682 548.16h2v3.94h-2zM684 563.92h2v3.94h-2zM686 548.16h2v3.94h-2zM688 567.86h2v3.94h-2zM688 548.16h2v3.94h-2zM692 563.92h2v3.94h-2zM698 563.92h2v3.94h-2zM698 548.16h2v3.94h-2zM700 563.92h2v3.94h-2zM702 563.92h2v3.94h-2zM706 548.16h2v3.94h-2zM710 563.92h2v3.94h-2zM712 548.16h2v3.94h-2zM714 563.92h2v3.94h-2zM714 548.16h2v3.94h-2zM716 567.86h2v3.94h-2zM716 548.16h2v3.94h-2zM720 563.92h2v3.94h-2zM722 563.92h2v3.94h-2zM726 548.16h2v3.94h-2zM728 563.92h2v3.94h-2zM730 548.16h2v3.94h-2zM732 548.16h2v3.94h-2zM734 563.92h2v3.94h-2zM738 563.92h2v3.94h-2zM738 548.16h2v3.94h-2zM740 548.16h2v3.94h-2zM742 563.92h2v3.94h-2zM742 548.16h2v3.94h-2zM744 563.92h2v3.94h-2zM750 548.16h2v3.94h-2zM752 548.16h2v3.94h-2zM580 445.72h2v3.94h-2zM580 437.84h2v3.94h-2zM580 433.9h2v3.94h-2zM582 445.72h2v3.94h-2z"/><path fill="#88d0c6" d="M50 540.28h2v3.94h-2zM50 536.34h2v3.94h-2zM50 512.7h2v3.94h-2zM50 508.76h2v3.94h-2zM50 504.82h2v3.94h-2zM50 500.88h2v3.94h-2zM50 496.94h2v3.94h-2zM50 493h2v3.94h-2zM50 489.06h2v3.94h-2zM50 485.12h2v3.94h-2zM50 481.18h2v3.94h-2zM50 477.24h2v3.94h-2zM50 473.3h2v3.94h-2zM52 540.28h2v3.94h-2zM52 536.34h2v3.94h-2zM52 512.7h2v3.94h-2zM52 508.76h2v3.94h-2zM52 504.82h2v3.94h-2zM52 500.88h2v3.94h-2zM52 496.94h2v3.94h-2zM54 540.28h2v3.94h-2zM54 536.34h2v3.94h-2zM54 532.4h2v3.94h-2zM54 528.46h2v3.94h-2zM54 524.52h2v3.94h-2zM54 520.58h2v3.94h-2zM54 516.64h2v3.94h-2zM54 512.7h2v3.94h-2zM54 508.76h2v3.94h-2zM54 504.82h2v3.94h-2zM54 500.88h2v3.94h-2zM54 496.94h2v3.94h-2zM54 493h2v3.94h-2zM54 489.06h2v3.94h-2zM54 485.12h2v3.94h-2zM54 481.18h2v3.94h-2zM54 477.24h2v3.94h-2zM56 540.28h2v3.94h-2zM56 500.88h2v3.94h-2zM58 536.34h2v3.94h-2zM58 532.4h2v3.94h-2zM58 500.88h2v3.94h-2zM58 496.94h2v3.94h-2zM58 493h2v3.94h-2zM60 528.46h2v3.94h-2zM60 524.52h2v3.94h-2zM60 500.88h2v3.94h-2zM60 496.94h2v3.94h-2zM60 493h2v3.94h-2zM60 489.06h2v3.94h-2zM60 485.12h2v3.94h-2zM62 536.34h2v3.94h-2zM62 532.4h2v3.94h-2zM62 520.58h2v3.94h-2zM62 500.88h2v3.94h-2zM62 496.94h2v3.94h-2zM62 493h2v3.94h-2zM62 489.06h2v3.94h-2zM62 485.12h2v3.94h-2zM62 481.18h2v3.94h-2zM64 540.28h2v3.94h-2zM64 500.88h2v3.94h-2zM64 496.94h2v3.94h-2zM64 493h2v3.94h-2zM64 489.06h2v3.94h-2zM66 532.4h2v3.94h-2zM66 528.46h2v3.94h-2zM66 524.52h2v3.94h-2zM66 520.58h2v3.94h-2zM66 516.64h2v3.94h-2zM66 512.7h2v3.94h-2zM66 508.76h2v3.94h-2zM66 504.82h2v3.94h-2zM66 500.88h2v3.94h-2zM66 496.94h2v3.94h-2zM66 493h2v3.94h-2zM66 489.06h2v3.94h-2zM66 485.12h2v3.94h-2zM66 481.18h2v3.94h-2zM68 559.98h2v3.94h-2zM68 540.28h2v3.94h-2zM68 532.4h2v3.94h-2zM68 528.46h2v3.94h-2zM68 524.52h2v3.94h-2zM68 520.58h2v3.94h-2zM68 516.64h2v3.94h-2zM68 512.7h2v3.94h-2zM68 508.76h2v3.94h-2zM68 504.82h2v3.94h-2zM68 500.88h2v3.94h-2zM68 496.94h2v3.94h-2zM68 493h2v3.94h-2zM68 489.06h2v3.94h-2zM68 485.12h2v3.94h-2zM68 481.18h2v3.94h-2zM68 477.24h2v3.94h-2zM68 473.3h2v3.94h-2zM68 469.36h2v3.94h-2zM68 465.42h2v3.94h-2zM70 559.98h2v3.94h-2zM70 532.4h2v3.94h-2zM70 528.46h2v3.94h-2zM70 524.52h2v3.94h-2zM70 520.58h2v3.94h-2zM70 516.64h2v3.94h-2zM70 512.7h2v3.94h-2zM70 508.76h2v3.94h-2zM70 504.82h2v3.94h-2zM70 500.88h2v3.94h-2zM70 496.94h2v3.94h-2zM70 493h2v3.94h-2zM70 489.06h2v3.94h-2zM70 485.12h2v3.94h-2zM70 481.18h2v3.94h-2zM72 559.98h2v3.94h-2zM72 544.22h2v3.94h-2zM72 536.34h2v3.94h-2zM72 532.4h2v3.94h-2zM72 528.46h2v3.94h-2zM72 524.52h2v3.94h-2zM72 520.58h2v3.94h-2zM72 516.64h2v3.94h-2zM74 559.98h2v3.94h-2zM74 544.22h2v3.94h-2zM74 536.34h2v3.94h-2zM76 559.98h2v3.94h-2zM76 544.22h2v3.94h-2zM76 536.34h2v3.94h-2zM78 559.98h2v3.94h-2zM78 536.34h2v3.94h-2zM78 532.4h2v3.94h-2zM80 559.98h2v3.94h-2zM80 540.28h2v3.94h-2zM80 536.34h2v3.94h-2zM80 532.4h2v3.94h-2zM82 559.98h2v3.94h-2zM82 540.28h2v3.94h-2zM82 536.34h2v3.94h-2zM82 532.4h2v3.94h-2zM84 559.98h2v3.94h-2zM84 540.28h2v3.94h-2zM84 536.34h2v3.94h-2zM84 532.4h2v3.94h-2zM84 528.46h2v3.94h-2zM86 559.98h2v3.94h-2zM86 540.28h2v3.94h-2zM86 536.34h2v3.94h-2zM86 532.4h2v3.94h-2zM86 528.46h2v3.94h-2zM88 559.98h2v3.94h-2zM88 544.22h2v3.94h-2zM88 540.28h2v3.94h-2zM88 536.34h2v3.94h-2zM88 532.4h2v3.94h-2zM88 528.46h2v3.94h-2zM90 559.98h2v3.94h-2zM90 544.22h2v3.94h-2zM90 540.28h2v3.94h-2zM90 536.34h2v3.94h-2zM90 532.4h2v3.94h-2zM90 528.46h2v3.94h-2zM92 559.98h2v3.94h-2zM92 540.28h2v3.94h-2zM92 536.34h2v3.94h-2zM92 532.4h2v3.94h-2zM96 559.98h2v3.94h-2zM96 556.04h2v3.94h-2zM96 552.1h2v3.94h-2zM98 559.98h2v3.94h-2zM100 556.04h2v3.94h-2zM102 556.04h2v3.94h-2zM104 556.04h2v3.94h-2zM104 552.1h2v3.94h-2zM106 552.1h2v3.94h-2zM106 548.16h2v3.94h-2zM108 548.16h2v3.94h-2zM112 556.04h2v3.94h-2zM114 559.98h2v3.94h-2zM114 556.04h2v3.94h-2zM116 548.16h2v3.94h-2zM118 559.98h2v3.94h-2zM118 556.04h2v3.94h-2zM120 559.98h2v3.94h-2zM120 556.04h2v3.94h-2zM120 528.46h2v3.94h-2zM122 556.04h2v3.94h-2zM122 528.46h2v3.94h-2zM124 556.04h2v3.94h-2zM124 524.52h2v3.94h-2zM124 520.58h2v3.94h-2zM126 559.98h2v3.94h-2zM126 556.04h2v3.94h-2zM128 528.46h2v3.94h-2zM128 508.76h2v3.94h-2zM130 516.64h2v3.94h-2zM130 512.7h2v3.94h-2zM132 559.98h2v3.94h-2zM132 512.7h2v3.94h-2zM132 508.76h2v3.94h-2zM132 500.88h2v3.94h-2zM134 559.98h2v3.94h-2zM134 528.46h2v3.94h-2zM134 512.7h2v3.94h-2zM134 504.82h2v3.94h-2zM136 528.46h2v3.94h-2zM136 508.76h2v3.94h-2zM136 504.82h2v3.94h-2zM136 493h2v3.94h-2zM138 559.98h2v3.94h-2zM138 556.04h2v3.94h-2zM138 524.52h2v3.94h-2zM138 500.88h2v3.94h-2zM138 489.06h2v3.94h-2zM140 559.98h2v3.94h-2zM140 556.04h2v3.94h-2zM140 552.1h2v3.94h-2zM140 548.16h2v3.94h-2zM140 524.52h2v3.94h-2zM140 520.58h2v3.94h-2zM140 516.64h2v3.94h-2zM140 512.7h2v3.94h-2zM140 504.82h2v3.94h-2zM140 500.88h2v3.94h-2zM140 496.94h2v3.94h-2zM140 481.18h2v3.94h-2zM140 477.24h2v3.94h-2zM142 540.28h2v3.94h-2zM142 536.34h2v3.94h-2zM142 528.46h2v3.94h-2zM142 524.52h2v3.94h-2zM142 516.64h2v3.94h-2zM142 512.7h2v3.94h-2zM142 508.76h2v3.94h-2zM142 504.82h2v3.94h-2zM142 500.88h2v3.94h-2zM142 496.94h2v3.94h-2zM142 485.12h2v3.94h-2zM142 481.18h2v3.94h-2zM142 477.24h2v3.94h-2zM144 559.98h2v3.94h-2zM144 552.1h2v3.94h-2zM144 524.52h2v3.94h-2zM144 520.58h2v3.94h-2zM144 516.64h2v3.94h-2zM144 512.7h2v3.94h-2zM144 508.76h2v3.94h-2zM144 504.82h2v3.94h-2zM144 500.88h2v3.94h-2zM144 496.94h2v3.94h-2zM144 485.12h2v3.94h-2zM144 477.24h2v3.94h-2zM144 473.3h2v3.94h-2zM146 559.98h2v3.94h-2zM146 556.04h2v3.94h-2zM146 552.1h2v3.94h-2zM146 540.28h2v3.94h-2zM146 516.64h2v3.94h-2zM146 512.7h2v3.94h-2zM146 508.76h2v3.94h-2zM146 500.88h2v3.94h-2zM146 485.12h2v3.94h-2zM148 540.28h2v3.94h-2zM148 532.4h2v3.94h-2zM148 512.7h2v3.94h-2zM148 508.76h2v3.94h-2zM148 504.82h2v3.94h-2zM148 500.88h2v3.94h-2zM148 496.94h2v3.94h-2zM148 485.12h2v3.94h-2zM150 544.22h2v3.94h-2zM150 540.28h2v3.94h-2zM150 532.4h2v3.94h-2zM150 520.58h2v3.94h-2zM150 512.7h2v3.94h-2zM150 508.76h2v3.94h-2zM150 504.82h2v3.94h-2zM150 496.94h2v3.94h-2zM150 485.12h2v3.94h-2zM150 481.18h2v3.94h-2zM152 544.22h2v3.94h-2zM152 540.28h2v3.94h-2zM152 536.34h2v3.94h-2zM152 516.64h2v3.94h-2zM152 508.76h2v3.94h-2zM152 504.82h2v3.94h-2zM152 500.88h2v3.94h-2zM152 496.94h2v3.94h-2zM152 481.18h2v3.94h-2zM154 552.1h2v3.94h-2zM154 528.46h2v3.94h-2zM154 516.64h2v3.94h-2zM154 512.7h2v3.94h-2zM154 508.76h2v3.94h-2zM154 504.82h2v3.94h-2zM154 500.88h2v3.94h-2zM154 481.18h2v3.94h-2zM154 473.3h2v3.94h-2zM156 552.1h2v3.94h-2zM156 548.16h2v3.94h-2zM156 540.28h2v3.94h-2zM156 532.4h2v3.94h-2zM156 516.64h2v3.94h-2zM156 512.7h2v3.94h-2zM156 500.88h2v3.94h-2zM156 496.94h2v3.94h-2zM156 485.12h2v3.94h-2zM156 477.24h2v3.94h-2zM156 473.3h2v3.94h-2zM158 552.1h2v3.94h-2zM158 548.16h2v3.94h-2zM158 540.28h2v3.94h-2zM158 528.46h2v3.94h-2zM158 516.64h2v3.94h-2zM158 512.7h2v3.94h-2zM158 508.76h2v3.94h-2zM158 504.82h2v3.94h-2zM158 500.88h2v3.94h-2zM158 496.94h2v3.94h-2zM158 493h2v3.94h-2zM158 489.06h2v3.94h-2zM158 485.12h2v3.94h-2zM160 556.04h2v3.94h-2zM160 552.1h2v3.94h-2zM160 548.16h2v3.94h-2zM160 512.7h2v3.94h-2zM160 508.76h2v3.94h-2zM160 504.82h2v3.94h-2zM160 496.94h2v3.94h-2zM160 493h2v3.94h-2zM160 489.06h2v3.94h-2zM162 556.04h2v3.94h-2zM162 552.1h2v3.94h-2zM162 548.16h2v3.94h-2zM162 540.28h2v3.94h-2zM162 536.34h2v3.94h-2zM162 532.4h2v3.94h-2zM162 524.52h2v3.94h-2zM162 520.58h2v3.94h-2zM162 516.64h2v3.94h-2zM162 512.7h2v3.94h-2zM162 508.76h2v3.94h-2zM162 504.82h2v3.94h-2zM162 500.88h2v3.94h-2zM162 496.94h2v3.94h-2zM162 493h2v3.94h-2zM162 481.18h2v3.94h-2zM164 556.04h2v3.94h-2zM164 552.1h2v3.94h-2zM164 548.16h2v3.94h-2zM164 536.34h2v3.94h-2zM164 532.4h2v3.94h-2zM164 528.46h2v3.94h-2zM164 524.52h2v3.94h-2zM164 520.58h2v3.94h-2zM164 512.7h2v3.94h-2zM164 508.76h2v3.94h-2zM164 504.82h2v3.94h-2zM164 500.88h2v3.94h-2zM164 496.94h2v3.94h-2zM164 493h2v3.94h-2zM164 485.12h2v3.94h-2zM164 481.18h2v3.94h-2zM166 556.04h2v3.94h-2zM166 548.16h2v3.94h-2zM166 540.28h2v3.94h-2zM166 528.46h2v3.94h-2zM166 520.58h2v3.94h-2zM166 512.7h2v3.94h-2zM166 508.76h2v3.94h-2zM166 504.82h2v3.94h-2zM166 500.88h2v3.94h-2zM166 489.06h2v3.94h-2zM166 485.12h2v3.94h-2zM166 481.18h2v3.94h-2zM168 540.28h2v3.94h-2zM168 528.46h2v3.94h-2zM168 516.64h2v3.94h-2zM168 512.7h2v3.94h-2zM168 508.76h2v3.94h-2zM168 500.88h2v3.94h-2zM168 496.94h2v3.94h-2zM168 493h2v3.94h-2zM168 489.06h2v3.94h-2zM168 481.18h2v3.94h-2zM168 477.24h2v3.94h-2zM168 473.3h2v3.94h-2zM168 469.36h2v3.94h-2zM170 556.04h2v3.94h-2zM170 540.28h2v3.94h-2zM170 532.4h2v3.94h-2zM170 520.58h2v3.94h-2zM170 516.64h2v3.94h-2zM170 512.7h2v3.94h-2zM170 508.76h2v3.94h-2zM170 500.88h2v3.94h-2zM170 496.94h2v3.94h-2zM170 493h2v3.94h-2zM170 489.06h2v3.94h-2zM170 485.12h2v3.94h-2zM170 481.18h2v3.94h-2zM170 477.24h2v3.94h-2zM172 552.1h2v3.94h-2zM172 536.34h2v3.94h-2zM172 532.4h2v3.94h-2zM172 516.64h2v3.94h-2zM172 512.7h2v3.94h-2zM172 508.76h2v3.94h-2zM172 504.82h2v3.94h-2zM172 500.88h2v3.94h-2zM172 496.94h2v3.94h-2zM172 493h2v3.94h-2zM172 489.06h2v3.94h-2zM172 485.12h2v3.94h-2zM172 477.24h2v3.94h-2zM172 473.3h2v3.94h-2zM174 556.04h2v3.94h-2zM174 552.1h2v3.94h-2zM174 548.16h2v3.94h-2zM174 532.4h2v3.94h-2zM174 528.46h2v3.94h-2zM174 524.52h2v3.94h-2zM174 520.58h2v3.94h-2zM174 516.64h2v3.94h-2zM174 512.7h2v3.94h-2zM174 508.76h2v3.94h-2zM174 504.82h2v3.94h-2zM174 500.88h2v3.94h-2zM174 496.94h2v3.94h-2zM174 489.06h2v3.94h-2zM174 485.12h2v3.94h-2zM174 481.18h2v3.94h-2zM174 477.24h2v3.94h-2zM176 556.04h2v3.94h-2zM176 552.1h2v3.94h-2zM176 548.16h2v3.94h-2zM176 536.34h2v3.94h-2zM176 532.4h2v3.94h-2zM176 524.52h2v3.94h-2zM176 520.58h2v3.94h-2zM176 512.7h2v3.94h-2zM176 508.76h2v3.94h-2zM176 504.82h2v3.94h-2zM176 500.88h2v3.94h-2zM176 496.94h2v3.94h-2zM176 493h2v3.94h-2zM176 485.12h2v3.94h-2zM176 481.18h2v3.94h-2zM176 477.24h2v3.94h-2zM176 473.3h2v3.94h-2zM176 469.36h2v3.94h-2zM176 465.42h2v3.94h-2zM178 559.98h2v3.94h-2zM178 540.28h2v3.94h-2zM178 532.4h2v3.94h-2zM178 528.46h2v3.94h-2zM178 516.64h2v3.94h-2zM178 508.76h2v3.94h-2zM178 504.82h2v3.94h-2zM178 496.94h2v3.94h-2zM178 493h2v3.94h-2zM178 489.06h2v3.94h-2zM178 485.12h2v3.94h-2zM178 481.18h2v3.94h-2zM178 477.24h2v3.94h-2zM178 473.3h2v3.94h-2zM178 469.36h2v3.94h-2zM178 465.42h2v3.94h-2zM180 540.28h2v3.94h-2zM182 559.98h2v3.94h-2zM182 540.28h2v3.94h-2zM184 559.98h2v3.94h-2zM184 544.22h2v3.94h-2zM184 540.28h2v3.94h-2zM186 548.16h2v3.94h-2zM186 544.22h2v3.94h-2zM186 540.28h2v3.94h-2zM188 559.98h2v3.94h-2zM190 548.16h2v3.94h-2zM190 544.22h2v3.94h-2zM192 559.98h2v3.94h-2zM192 544.22h2v3.94h-2zM194 559.98h2v3.94h-2zM194 548.16h2v3.94h-2zM198 548.16h2v3.94h-2zM200 548.16h2v3.94h-2zM202 559.98h2v3.94h-2zM202 548.16h2v3.94h-2zM204 559.98h2v3.94h-2zM204 544.22h2v3.94h-2zM206 559.98h2v3.94h-2zM206 548.16h2v3.94h-2zM208 548.16h2v3.94h-2zM210 559.98h2v3.94h-2zM210 548.16h2v3.94h-2zM214 548.16h2v3.94h-2zM218 548.16h2v3.94h-2zM222 548.16h2v3.94h-2zM226 548.16h2v3.94h-2zM228 559.98h2v3.94h-2zM230 559.98h2v3.94h-2zM230 544.22h2v3.94h-2zM232 548.16h2v3.94h-2zM232 544.22h2v3.94h-2zM232 540.28h2v3.94h-2zM236 540.28h2v3.94h-2zM238 536.34h2v3.94h-2zM238 528.46h2v3.94h-2zM240 540.28h2v3.94h-2zM240 536.34h2v3.94h-2zM240 532.4h2v3.94h-2zM240 528.46h2v3.94h-2zM242 540.28h2v3.94h-2zM242 532.4h2v3.94h-2zM242 516.64h2v3.94h-2zM244 536.34h2v3.94h-2zM244 532.4h2v3.94h-2zM244 528.46h2v3.94h-2zM246 536.34h2v3.94h-2zM246 532.4h2v3.94h-2zM248 536.34h2v3.94h-2zM248 532.4h2v3.94h-2zM248 528.46h2v3.94h-2zM248 516.64h2v3.94h-2zM250 540.28h2v3.94h-2zM252 540.28h2v3.94h-2zM252 536.34h2v3.94h-2zM252 532.4h2v3.94h-2zM254 540.28h2v3.94h-2zM254 536.34h2v3.94h-2zM254 532.4h2v3.94h-2zM254 528.46h2v3.94h-2zM254 504.82h2v3.94h-2zM256 556.04h2v3.94h-2zM256 536.34h2v3.94h-2zM256 532.4h2v3.94h-2zM256 520.58h2v3.94h-2zM256 500.88h2v3.94h-2zM258 540.28h2v3.94h-2zM258 532.4h2v3.94h-2zM258 528.46h2v3.94h-2zM258 524.52h2v3.94h-2zM258 493h2v3.94h-2zM260 540.28h2v3.94h-2zM260 528.46h2v3.94h-2zM260 496.94h2v3.94h-2zM262 559.98h2v3.94h-2zM262 532.4h2v3.94h-2zM262 504.82h2v3.94h-2zM262 500.88h2v3.94h-2zM262 496.94h2v3.94h-2zM262 493h2v3.94h-2zM264 556.04h2v3.94h-2zM264 540.28h2v3.94h-2zM264 524.52h2v3.94h-2zM264 516.64h2v3.94h-2zM264 512.7h2v3.94h-2zM264 508.76h2v3.94h-2zM264 504.82h2v3.94h-2zM264 496.94h2v3.94h-2zM264 493h2v3.94h-2zM264 485.12h2v3.94h-2zM264 481.18h2v3.94h-2zM266 556.04h2v3.94h-2zM266 520.58h2v3.94h-2zM266 512.7h2v3.94h-2zM266 504.82h2v3.94h-2zM266 500.88h2v3.94h-2zM268 559.98h2v3.94h-2zM268 556.04h2v3.94h-2zM268 548.16h2v3.94h-2zM268 512.7h2v3.94h-2zM268 508.76h2v3.94h-2zM268 504.82h2v3.94h-2zM268 500.88h2v3.94h-2zM270 559.98h2v3.94h-2zM270 556.04h2v3.94h-2zM270 548.16h2v3.94h-2zM270 512.7h2v3.94h-2zM270 504.82h2v3.94h-2zM270 500.88h2v3.94h-2zM270 496.94h2v3.94h-2zM272 508.76h2v3.94h-2zM272 489.06h2v3.94h-2zM274 552.1h2v3.94h-2zM274 532.4h2v3.94h-2zM274 512.7h2v3.94h-2zM274 496.94h2v3.94h-2zM276 556.04h2v3.94h-2zM276 540.28h2v3.94h-2zM276 516.64h2v3.94h-2zM276 512.7h2v3.94h-2zM276 504.82h2v3.94h-2zM276 496.94h2v3.94h-2zM278 548.16h2v3.94h-2zM278 544.22h2v3.94h-2zM278 532.4h2v3.94h-2zM278 516.64h2v3.94h-2zM278 512.7h2v3.94h-2zM278 508.76h2v3.94h-2zM278 493h2v3.94h-2zM280 540.28h2v3.94h-2zM280 536.34h2v3.94h-2zM280 532.4h2v3.94h-2zM280 528.46h2v3.94h-2zM280 520.58h2v3.94h-2zM282 540.28h2v3.94h-2zM282 536.34h2v3.94h-2zM282 528.46h2v3.94h-2zM282 512.7h2v3.94h-2zM282 508.76h2v3.94h-2zM282 504.82h2v3.94h-2zM282 500.88h2v3.94h-2zM282 493h2v3.94h-2zM282 481.18h2v3.94h-2zM284 556.04h2v3.94h-2zM284 532.4h2v3.94h-2zM284 516.64h2v3.94h-2zM284 512.7h2v3.94h-2zM284 508.76h2v3.94h-2zM284 504.82h2v3.94h-2zM284 485.12h2v3.94h-2zM284 477.24h2v3.94h-2zM286 536.34h2v3.94h-2zM286 516.64h2v3.94h-2zM286 500.88h2v3.94h-2zM286 477.24h2v3.94h-2zM288 540.28h2v3.94h-2zM288 524.52h2v3.94h-2zM288 520.58h2v3.94h-2zM288 516.64h2v3.94h-2zM288 500.88h2v3.94h-2zM288 485.12h2v3.94h-2zM288 477.24h2v3.94h-2zM288 473.3h2v3.94h-2zM290 556.04h2v3.94h-2zM290 540.28h2v3.94h-2zM290 532.4h2v3.94h-2zM290 524.52h2v3.94h-2zM290 520.58h2v3.94h-2zM290 516.64h2v3.94h-2zM290 512.7h2v3.94h-2zM292 540.28h2v3.94h-2zM292 532.4h2v3.94h-2zM292 524.52h2v3.94h-2zM292 504.82h2v3.94h-2zM292 496.94h2v3.94h-2zM292 489.06h2v3.94h-2zM292 485.12h2v3.94h-2zM294 536.34h2v3.94h-2zM294 528.46h2v3.94h-2zM294 524.52h2v3.94h-2zM294 512.7h2v3.94h-2zM294 489.06h2v3.94h-2zM296 559.98h2v3.94h-2zM296 556.04h2v3.94h-2zM296 552.1h2v3.94h-2zM296 544.22h2v3.94h-2zM296 540.28h2v3.94h-2zM296 536.34h2v3.94h-2zM296 532.4h2v3.94h-2zM296 524.52h2v3.94h-2zM296 520.58h2v3.94h-2zM296 516.64h2v3.94h-2zM296 504.82h2v3.94h-2zM296 493h2v3.94h-2zM296 489.06h2v3.94h-2zM298 559.98h2v3.94h-2zM298 552.1h2v3.94h-2zM298 544.22h2v3.94h-2zM298 540.28h2v3.94h-2zM298 536.34h2v3.94h-2zM298 516.64h2v3.94h-2zM298 512.7h2v3.94h-2zM298 504.82h2v3.94h-2zM298 496.94h2v3.94h-2zM298 493h2v3.94h-2zM298 485.12h2v3.94h-2zM298 481.18h2v3.94h-2zM298 477.24h2v3.94h-2zM300 556.04h2v3.94h-2zM300 516.64h2v3.94h-2zM300 508.76h2v3.94h-2zM300 500.88h2v3.94h-2zM300 496.94h2v3.94h-2zM300 493h2v3.94h-2zM300 485.12h2v3.94h-2zM300 481.18h2v3.94h-2zM300 477.24h2v3.94h-2zM302 559.98h2v3.94h-2zM302 556.04h2v3.94h-2zM302 524.52h2v3.94h-2zM302 496.94h2v3.94h-2zM302 493h2v3.94h-2zM302 485.12h2v3.94h-2zM304 556.04h2v3.94h-2zM306 559.98h2v3.94h-2zM306 556.04h2v3.94h-2zM306 552.1h2v3.94h-2zM306 548.16h2v3.94h-2zM306 544.22h2v3.94h-2zM308 559.98h2v3.94h-2zM308 556.04h2v3.94h-2zM308 552.1h2v3.94h-2zM308 548.16h2v3.94h-2zM308 544.22h2v3.94h-2zM310 559.98h2v3.94h-2zM310 556.04h2v3.94h-2zM310 552.1h2v3.94h-2zM310 548.16h2v3.94h-2zM310 544.22h2v3.94h-2zM312 559.98h2v3.94h-2zM312 556.04h2v3.94h-2zM312 552.1h2v3.94h-2zM312 548.16h2v3.94h-2zM312 544.22h2v3.94h-2zM314 559.98h2v3.94h-2zM314 556.04h2v3.94h-2zM314 552.1h2v3.94h-2zM314 548.16h2v3.94h-2zM316 559.98h2v3.94h-2zM316 556.04h2v3.94h-2zM316 552.1h2v3.94h-2zM316 548.16h2v3.94h-2zM318 559.98h2v3.94h-2zM318 556.04h2v3.94h-2zM318 552.1h2v3.94h-2zM318 548.16h2v3.94h-2zM320 559.98h2v3.94h-2zM320 556.04h2v3.94h-2zM320 552.1h2v3.94h-2zM320 548.16h2v3.94h-2zM322 559.98h2v3.94h-2zM322 552.1h2v3.94h-2zM322 548.16h2v3.94h-2zM324 559.98h2v3.94h-2zM324 556.04h2v3.94h-2zM324 552.1h2v3.94h-2zM324 548.16h2v3.94h-2zM324 544.22h2v3.94h-2zM326 559.98h2v3.94h-2zM326 556.04h2v3.94h-2zM326 552.1h2v3.94h-2zM326 548.16h2v3.94h-2zM328 559.98h2v3.94h-2zM328 556.04h2v3.94h-2zM328 552.1h2v3.94h-2zM328 548.16h2v3.94h-2zM330 559.98h2v3.94h-2zM330 556.04h2v3.94h-2zM330 552.1h2v3.94h-2zM330 548.16h2v3.94h-2zM332 559.98h2v3.94h-2zM332 548.16h2v3.94h-2zM334 559.98h2v3.94h-2zM334 556.04h2v3.94h-2zM334 548.16h2v3.94h-2zM336 559.98h2v3.94h-2zM336 552.1h2v3.94h-2zM336 548.16h2v3.94h-2zM338 559.98h2v3.94h-2zM338 552.1h2v3.94h-2zM338 548.16h2v3.94h-2zM340 559.98h2v3.94h-2zM340 556.04h2v3.94h-2zM340 552.1h2v3.94h-2zM340 548.16h2v3.94h-2zM342 559.98h2v3.94h-2zM342 552.1h2v3.94h-2zM342 548.16h2v3.94h-2zM342 544.22h2v3.94h-2zM342 540.28h2v3.94h-2zM344 559.98h2v3.94h-2zM344 556.04h2v3.94h-2zM344 552.1h2v3.94h-2zM344 548.16h2v3.94h-2zM344 544.22h2v3.94h-2zM344 540.28h2v3.94h-2zM346 559.98h2v3.94h-2zM346 552.1h2v3.94h-2zM346 544.22h2v3.94h-2zM346 540.28h2v3.94h-2zM348 559.98h2v3.94h-2zM348 552.1h2v3.94h-2zM348 540.28h2v3.94h-2zM348 536.34h2v3.94h-2zM348 532.4h2v3.94h-2zM350 559.98h2v3.94h-2zM350 556.04h2v3.94h-2zM350 552.1h2v3.94h-2zM350 540.28h2v3.94h-2zM350 536.34h2v3.94h-2zM350 532.4h2v3.94h-2zM350 520.58h2v3.94h-2zM352 540.28h2v3.94h-2zM352 532.4h2v3.94h-2zM352 516.64h2v3.94h-2zM354 536.34h2v3.94h-2zM354 528.46h2v3.94h-2zM354 524.52h2v3.94h-2zM356 532.4h2v3.94h-2zM356 524.52h2v3.94h-2zM356 520.58h2v3.94h-2zM358 536.34h2v3.94h-2zM358 528.46h2v3.94h-2zM358 516.64h2v3.94h-2zM360 548.16h2v3.94h-2zM360 540.28h2v3.94h-2zM362 552.1h2v3.94h-2zM362 548.16h2v3.94h-2zM362 520.58h2v3.94h-2zM362 516.64h2v3.94h-2zM362 512.7h2v3.94h-2zM364 520.58h2v3.94h-2zM364 508.76h2v3.94h-2zM366 552.1h2v3.94h-2zM366 536.34h2v3.94h-2zM366 532.4h2v3.94h-2zM366 528.46h2v3.94h-2zM368 552.1h2v3.94h-2zM368 512.7h2v3.94h-2zM370 552.1h2v3.94h-2zM370 548.16h2v3.94h-2zM370 532.4h2v3.94h-2zM370 528.46h2v3.94h-2zM370 524.52h2v3.94h-2zM370 504.82h2v3.94h-2zM370 500.88h2v3.94h-2zM370 496.94h2v3.94h-2zM370 493h2v3.94h-2zM370 489.06h2v3.94h-2zM372 552.1h2v3.94h-2zM372 548.16h2v3.94h-2zM372 544.22h2v3.94h-2zM372 532.4h2v3.94h-2zM372 520.58h2v3.94h-2zM372 516.64h2v3.94h-2zM372 508.76h2v3.94h-2zM372 500.88h2v3.94h-2zM372 496.94h2v3.94h-2zM372 493h2v3.94h-2zM372 489.06h2v3.94h-2zM372 485.12h2v3.94h-2zM372 481.18h2v3.94h-2zM374 552.1h2v3.94h-2zM374 520.58h2v3.94h-2zM374 516.64h2v3.94h-2zM374 512.7h2v3.94h-2zM374 496.94h2v3.94h-2zM374 493h2v3.94h-2zM374 489.06h2v3.94h-2zM374 485.12h2v3.94h-2zM376 552.1h2v3.94h-2zM376 524.52h2v3.94h-2zM376 520.58h2v3.94h-2zM376 516.64h2v3.94h-2zM376 512.7h2v3.94h-2zM376 504.82h2v3.94h-2zM376 500.88h2v3.94h-2zM376 496.94h2v3.94h-2zM376 493h2v3.94h-2zM376 489.06h2v3.94h-2zM376 485.12h2v3.94h-2zM378 552.1h2v3.94h-2zM378 548.16h2v3.94h-2zM378 516.64h2v3.94h-2zM378 512.7h2v3.94h-2zM378 504.82h2v3.94h-2zM378 500.88h2v3.94h-2zM378 496.94h2v3.94h-2zM378 489.06h2v3.94h-2zM378 485.12h2v3.94h-2zM380 548.16h2v3.94h-2zM380 532.4h2v3.94h-2zM380 512.7h2v3.94h-2zM380 504.82h2v3.94h-2zM380 500.88h2v3.94h-2zM380 496.94h2v3.94h-2zM380 493h2v3.94h-2zM382 548.16h2v3.94h-2zM382 540.28h2v3.94h-2zM382 504.82h2v3.94h-2zM382 500.88h2v3.94h-2zM382 496.94h2v3.94h-2zM382 493h2v3.94h-2zM382 489.06h2v3.94h-2zM384 548.16h2v3.94h-2zM384 516.64h2v3.94h-2zM384 504.82h2v3.94h-2zM384 500.88h2v3.94h-2zM384 496.94h2v3.94h-2zM384 493h2v3.94h-2zM384 489.06h2v3.94h-2zM386 512.7h2v3.94h-2zM386 508.76h2v3.94h-2zM386 500.88h2v3.94h-2zM386 496.94h2v3.94h-2zM386 493h2v3.94h-2zM386 489.06h2v3.94h-2zM386 485.12h2v3.94h-2zM386 481.18h2v3.94h-2zM388 548.16h2v3.94h-2zM388 544.22h2v3.94h-2zM388 540.28h2v3.94h-2zM388 512.7h2v3.94h-2zM388 500.88h2v3.94h-2zM388 496.94h2v3.94h-2zM388 493h2v3.94h-2zM388 489.06h2v3.94h-2zM388 485.12h2v3.94h-2zM388 481.18h2v3.94h-2zM388 477.24h2v3.94h-2zM390 504.82h2v3.94h-2zM390 496.94h2v3.94h-2zM390 493h2v3.94h-2zM390 489.06h2v3.94h-2zM390 485.12h2v3.94h-2zM390 481.18h2v3.94h-2zM390 477.24h2v3.94h-2zM390 473.3h2v3.94h-2zM392 504.82h2v3.94h-2zM392 500.88h2v3.94h-2zM392 489.06h2v3.94h-2zM392 485.12h2v3.94h-2zM392 481.18h2v3.94h-2zM392 477.24h2v3.94h-2zM392 473.3h2v3.94h-2zM392 469.36h2v3.94h-2zM392 465.42h2v3.94h-2zM394 504.82h2v3.94h-2zM394 500.88h2v3.94h-2zM394 485.12h2v3.94h-2zM394 481.18h2v3.94h-2zM394 477.24h2v3.94h-2zM394 473.3h2v3.94h-2zM394 469.36h2v3.94h-2zM396 536.34h2v3.94h-2zM396 504.82h2v3.94h-2zM396 500.88h2v3.94h-2zM396 496.94h2v3.94h-2zM396 485.12h2v3.94h-2zM396 481.18h2v3.94h-2zM398 504.82h2v3.94h-2zM398 500.88h2v3.94h-2zM398 496.94h2v3.94h-2zM398 493h2v3.94h-2zM398 481.18h2v3.94h-2zM400 504.82h2v3.94h-2zM400 500.88h2v3.94h-2zM400 496.94h2v3.94h-2zM400 493h2v3.94h-2zM400 489.06h2v3.94h-2zM402 508.76h2v3.94h-2zM402 504.82h2v3.94h-2zM402 500.88h2v3.94h-2zM402 496.94h2v3.94h-2zM402 493h2v3.94h-2zM402 489.06h2v3.94h-2zM402 485.12h2v3.94h-2zM404 559.98h2v3.94h-2zM404 556.04h2v3.94h-2zM404 552.1h2v3.94h-2zM404 548.16h2v3.94h-2zM404 544.22h2v3.94h-2zM404 520.58h2v3.94h-2zM404 504.82h2v3.94h-2zM404 500.88h2v3.94h-2zM404 496.94h2v3.94h-2zM404 493h2v3.94h-2zM404 489.06h2v3.94h-2zM404 485.12h2v3.94h-2zM404 481.18h2v3.94h-2zM406 559.98h2v3.94h-2zM406 556.04h2v3.94h-2zM406 504.82h2v3.94h-2zM406 500.88h2v3.94h-2zM406 496.94h2v3.94h-2zM406 493h2v3.94h-2zM406 489.06h2v3.94h-2zM406 485.12h2v3.94h-2zM406 481.18h2v3.94h-2zM408 559.98h2v3.94h-2zM408 556.04h2v3.94h-2zM408 552.1h2v3.94h-2zM408 548.16h2v3.94h-2zM408 544.22h2v3.94h-2zM408 520.58h2v3.94h-2zM408 512.7h2v3.94h-2zM408 504.82h2v3.94h-2zM408 500.88h2v3.94h-2zM408 496.94h2v3.94h-2zM408 493h2v3.94h-2zM408 489.06h2v3.94h-2zM408 485.12h2v3.94h-2zM408 481.18h2v3.94h-2zM408 477.24h2v3.94h-2zM408 473.3h2v3.94h-2zM408 469.36h2v3.94h-2zM410 559.98h2v3.94h-2zM410 556.04h2v3.94h-2zM410 552.1h2v3.94h-2zM410 548.16h2v3.94h-2zM410 544.22h2v3.94h-2zM410 504.82h2v3.94h-2zM410 500.88h2v3.94h-2zM410 496.94h2v3.94h-2zM410 493h2v3.94h-2zM410 489.06h2v3.94h-2zM410 485.12h2v3.94h-2zM410 481.18h2v3.94h-2zM412 559.98h2v3.94h-2zM412 556.04h2v3.94h-2zM412 544.22h2v3.94h-2zM412 504.82h2v3.94h-2zM412 500.88h2v3.94h-2zM412 496.94h2v3.94h-2zM412 493h2v3.94h-2zM412 489.06h2v3.94h-2zM412 485.12h2v3.94h-2zM412 481.18h2v3.94h-2zM414 559.98h2v3.94h-2zM414 556.04h2v3.94h-2zM414 544.22h2v3.94h-2zM416 559.98h2v3.94h-2zM416 556.04h2v3.94h-2zM416 544.22h2v3.94h-2zM418 559.98h2v3.94h-2zM418 556.04h2v3.94h-2zM418 544.22h2v3.94h-2zM420 559.98h2v3.94h-2zM420 556.04h2v3.94h-2zM420 552.1h2v3.94h-2zM420 548.16h2v3.94h-2zM420 544.22h2v3.94h-2zM422 559.98h2v3.94h-2zM422 556.04h2v3.94h-2zM422 552.1h2v3.94h-2zM422 548.16h2v3.94h-2zM424 556.04h2v3.94h-2zM426 559.98h2v3.94h-2zM426 556.04h2v3.94h-2zM426 552.1h2v3.94h-2zM428 556.04h2v3.94h-2zM430 556.04h2v3.94h-2zM430 548.16h2v3.94h-2zM432 556.04h2v3.94h-2zM432 552.1h2v3.94h-2zM434 559.98h2v3.94h-2zM434 556.04h2v3.94h-2zM434 552.1h2v3.94h-2zM434 548.16h2v3.94h-2zM436 556.04h2v3.94h-2zM436 552.1h2v3.94h-2zM438 559.98h2v3.94h-2zM438 556.04h2v3.94h-2zM440 559.98h2v3.94h-2zM442 559.98h2v3.94h-2zM444 556.04h2v3.94h-2zM448 556.04h2v3.94h-2zM448 548.16h2v3.94h-2zM450 559.98h2v3.94h-2zM450 548.16h2v3.94h-2zM452 559.98h2v3.94h-2zM452 548.16h2v3.94h-2zM454 559.98h2v3.94h-2zM456 548.16h2v3.94h-2zM458 548.16h2v3.94h-2zM460 548.16h2v3.94h-2zM462 559.98h2v3.94h-2zM464 548.16h2v3.94h-2zM466 559.98h2v3.94h-2zM468 559.98h2v3.94h-2zM468 548.16h2v3.94h-2zM472 548.16h2v3.94h-2zM474 548.16h2v3.94h-2zM476 559.98h2v3.94h-2zM476 548.16h2v3.94h-2zM478 548.16h2v3.94h-2zM480 559.98h2v3.94h-2zM484 559.98h2v3.94h-2zM484 548.16h2v3.94h-2zM486 548.16h2v3.94h-2zM488 552.1h2v3.94h-2zM488 548.16h2v3.94h-2zM502 559.98h2v3.94h-2zM502 556.04h2v3.94h-2zM502 548.16h2v3.94h-2zM504 559.98h2v3.94h-2zM504 552.1h2v3.94h-2zM504 548.16h2v3.94h-2zM504 544.22h2v3.94h-2zM506 552.1h2v3.94h-2zM506 548.16h2v3.94h-2zM506 544.22h2v3.94h-2zM508 559.98h2v3.94h-2zM508 552.1h2v3.94h-2zM508 544.22h2v3.94h-2zM508 532.4h2v3.94h-2zM510 559.98h2v3.94h-2zM510 548.16h2v3.94h-2zM510 544.22h2v3.94h-2zM512 559.98h2v3.94h-2zM512 544.22h2v3.94h-2zM512 536.34h2v3.94h-2zM512 532.4h2v3.94h-2zM514 559.98h2v3.94h-2zM514 548.16h2v3.94h-2zM514 544.22h2v3.94h-2zM514 540.28h2v3.94h-2zM514 536.34h2v3.94h-2zM516 559.98h2v3.94h-2zM516 548.16h2v3.94h-2zM516 544.22h2v3.94h-2zM516 540.28h2v3.94h-2zM516 532.4h2v3.94h-2zM516 524.52h2v3.94h-2zM516 520.58h2v3.94h-2zM516 512.7h2v3.94h-2zM518 559.98h2v3.94h-2zM518 548.16h2v3.94h-2zM518 544.22h2v3.94h-2zM518 540.28h2v3.94h-2zM518 532.4h2v3.94h-2zM518 524.52h2v3.94h-2zM520 540.28h2v3.94h-2zM520 524.52h2v3.94h-2zM520 520.58h2v3.94h-2zM520 516.64h2v3.94h-2zM522 559.98h2v3.94h-2zM522 544.22h2v3.94h-2zM522 524.52h2v3.94h-2zM522 520.58h2v3.94h-2zM524 559.98h2v3.94h-2zM524 556.04h2v3.94h-2zM524 544.22h2v3.94h-2zM524 536.34h2v3.94h-2zM524 532.4h2v3.94h-2zM524 524.52h2v3.94h-2zM524 520.58h2v3.94h-2zM526 559.98h2v3.94h-2zM526 556.04h2v3.94h-2zM526 544.22h2v3.94h-2zM526 536.34h2v3.94h-2zM526 532.4h2v3.94h-2zM526 524.52h2v3.94h-2zM526 520.58h2v3.94h-2zM526 516.64h2v3.94h-2zM526 512.7h2v3.94h-2zM528 559.98h2v3.94h-2zM528 556.04h2v3.94h-2zM528 528.46h2v3.94h-2zM528 524.52h2v3.94h-2zM528 520.58h2v3.94h-2zM528 516.64h2v3.94h-2zM528 512.7h2v3.94h-2zM528 508.76h2v3.94h-2zM528 504.82h2v3.94h-2zM530 556.04h2v3.94h-2zM530 540.28h2v3.94h-2zM530 536.34h2v3.94h-2zM530 524.52h2v3.94h-2zM530 520.58h2v3.94h-2zM530 516.64h2v3.94h-2zM532 559.98h2v3.94h-2zM532 556.04h2v3.94h-2zM532 524.52h2v3.94h-2zM532 520.58h2v3.94h-2zM532 504.82h2v3.94h-2zM532 500.88h2v3.94h-2zM534 559.98h2v3.94h-2zM534 556.04h2v3.94h-2zM534 524.52h2v3.94h-2zM534 520.58h2v3.94h-2zM534 516.64h2v3.94h-2zM534 485.12h2v3.94h-2zM536 559.98h2v3.94h-2zM536 536.34h2v3.94h-2zM536 532.4h2v3.94h-2zM536 528.46h2v3.94h-2zM536 524.52h2v3.94h-2zM536 520.58h2v3.94h-2zM536 516.64h2v3.94h-2zM536 496.94h2v3.94h-2zM536 489.06h2v3.94h-2zM536 481.18h2v3.94h-2zM538 559.98h2v3.94h-2zM538 556.04h2v3.94h-2zM538 552.1h2v3.94h-2zM538 524.52h2v3.94h-2zM538 520.58h2v3.94h-2zM538 516.64h2v3.94h-2zM538 512.7h2v3.94h-2zM538 508.76h2v3.94h-2zM540 559.98h2v3.94h-2zM540 556.04h2v3.94h-2zM540 548.16h2v3.94h-2zM540 532.4h2v3.94h-2zM540 524.52h2v3.94h-2zM540 520.58h2v3.94h-2zM540 516.64h2v3.94h-2zM540 512.7h2v3.94h-2zM540 504.82h2v3.94h-2zM540 477.24h2v3.94h-2zM542 559.98h2v3.94h-2zM542 556.04h2v3.94h-2zM542 544.22h2v3.94h-2zM542 528.46h2v3.94h-2zM542 520.58h2v3.94h-2zM542 516.64h2v3.94h-2zM542 512.7h2v3.94h-2zM544 559.98h2v3.94h-2zM544 556.04h2v3.94h-2zM544 552.1h2v3.94h-2zM544 544.22h2v3.94h-2zM544 532.4h2v3.94h-2zM544 524.52h2v3.94h-2zM544 516.64h2v3.94h-2zM544 512.7h2v3.94h-2zM544 500.88h2v3.94h-2zM546 528.46h2v3.94h-2zM546 524.52h2v3.94h-2zM546 520.58h2v3.94h-2zM546 516.64h2v3.94h-2zM546 512.7h2v3.94h-2zM546 500.88h2v3.94h-2zM546 489.06h2v3.94h-2zM548 559.98h2v3.94h-2zM548 548.16h2v3.94h-2zM548 524.52h2v3.94h-2zM548 520.58h2v3.94h-2zM548 516.64h2v3.94h-2zM548 512.7h2v3.94h-2zM548 508.76h2v3.94h-2zM548 500.88h2v3.94h-2zM550 544.22h2v3.94h-2zM550 540.28h2v3.94h-2zM550 524.52h2v3.94h-2zM550 520.58h2v3.94h-2zM550 516.64h2v3.94h-2zM550 512.7h2v3.94h-2zM550 489.06h2v3.94h-2zM552 544.22h2v3.94h-2zM552 540.28h2v3.94h-2zM552 536.34h2v3.94h-2zM552 520.58h2v3.94h-2zM552 516.64h2v3.94h-2zM552 512.7h2v3.94h-2zM552 504.82h2v3.94h-2zM554 548.16h2v3.94h-2zM554 540.28h2v3.94h-2zM554 536.34h2v3.94h-2zM554 532.4h2v3.94h-2zM554 516.64h2v3.94h-2zM554 512.7h2v3.94h-2zM554 504.82h2v3.94h-2zM554 489.06h2v3.94h-2zM556 540.28h2v3.94h-2zM556 536.34h2v3.94h-2zM556 532.4h2v3.94h-2zM556 528.46h2v3.94h-2zM556 516.64h2v3.94h-2zM556 512.7h2v3.94h-2zM556 496.94h2v3.94h-2zM556 493h2v3.94h-2zM556 485.12h2v3.94h-2zM558 540.28h2v3.94h-2zM558 536.34h2v3.94h-2zM558 532.4h2v3.94h-2zM558 528.46h2v3.94h-2zM558 524.52h2v3.94h-2zM558 516.64h2v3.94h-2zM558 512.7h2v3.94h-2zM558 508.76h2v3.94h-2zM560 536.34h2v3.94h-2zM560 532.4h2v3.94h-2zM560 528.46h2v3.94h-2zM560 524.52h2v3.94h-2zM560 520.58h2v3.94h-2zM560 516.64h2v3.94h-2zM560 512.7h2v3.94h-2zM560 485.12h2v3.94h-2zM560 473.3h2v3.94h-2zM562 552.1h2v3.94h-2zM562 536.34h2v3.94h-2zM562 532.4h2v3.94h-2zM562 528.46h2v3.94h-2zM562 524.52h2v3.94h-2zM562 520.58h2v3.94h-2zM562 516.64h2v3.94h-2zM562 512.7h2v3.94h-2zM562 508.76h2v3.94h-2zM562 461.48h2v3.94h-2zM564 552.1h2v3.94h-2zM564 536.34h2v3.94h-2zM564 532.4h2v3.94h-2zM564 528.46h2v3.94h-2zM564 524.52h2v3.94h-2zM564 520.58h2v3.94h-2zM564 516.64h2v3.94h-2zM564 512.7h2v3.94h-2zM564 496.94h2v3.94h-2zM564 489.06h2v3.94h-2zM564 485.12h2v3.94h-2zM564 477.24h2v3.94h-2zM566 532.4h2v3.94h-2zM566 528.46h2v3.94h-2zM566 524.52h2v3.94h-2zM566 520.58h2v3.94h-2zM566 516.64h2v3.94h-2zM566 512.7h2v3.94h-2zM566 493h2v3.94h-2zM566 489.06h2v3.94h-2zM566 477.24h2v3.94h-2zM568 559.98h2v3.94h-2zM568 556.04h2v3.94h-2zM568 552.1h2v3.94h-2zM568 548.16h2v3.94h-2zM568 544.22h2v3.94h-2zM568 540.28h2v3.94h-2zM568 536.34h2v3.94h-2zM568 532.4h2v3.94h-2zM568 528.46h2v3.94h-2zM568 524.52h2v3.94h-2zM568 520.58h2v3.94h-2zM568 516.64h2v3.94h-2zM568 512.7h2v3.94h-2zM568 493h2v3.94h-2zM568 473.3h2v3.94h-2zM572 489.06h2v3.94h-2zM574 496.94h2v3.94h-2zM576 489.06h2v3.94h-2zM576 461.48h2v3.94h-2zM578 473.3h2v3.94h-2zM578 465.42h2v3.94h-2zM580 493h2v3.94h-2zM586 548.16h2v3.94h-2zM586 544.22h2v3.94h-2zM588 556.04h2v3.94h-2zM588 548.16h2v3.94h-2zM588 544.22h2v3.94h-2zM590 559.98h2v3.94h-2zM590 548.16h2v3.94h-2zM592 559.98h2v3.94h-2zM592 556.04h2v3.94h-2zM594 559.98h2v3.94h-2zM596 559.98h2v3.94h-2zM596 548.16h2v3.94h-2zM598 559.98h2v3.94h-2zM598 544.22h2v3.94h-2zM600 548.16h2v3.94h-2zM602 559.98h2v3.94h-2zM602 548.16h2v3.94h-2zM604 559.98h2v3.94h-2zM604 556.04h2v3.94h-2zM604 552.1h2v3.94h-2zM604 548.16h2v3.94h-2zM606 552.1h2v3.94h-2zM606 548.16h2v3.94h-2zM608 548.16h2v3.94h-2zM610 556.04h2v3.94h-2zM610 552.1h2v3.94h-2zM610 548.16h2v3.94h-2zM612 559.98h2v3.94h-2zM612 548.16h2v3.94h-2zM614 548.16h2v3.94h-2zM616 548.16h2v3.94h-2zM618 548.16h2v3.94h-2zM622 548.16h2v3.94h-2zM624 559.98h2v3.94h-2zM626 548.16h2v3.94h-2zM628 563.92h2v3.94h-2zM632 548.16h2v3.94h-2zM636 559.98h2v3.94h-2zM640 559.98h2v3.94h-2zM642 559.98h2v3.94h-2zM646 548.16h2v3.94h-2zM648 548.16h2v3.94h-2zM650 559.98h2v3.94h-2zM650 548.16h2v3.94h-2zM652 559.98h2v3.94h-2zM654 559.98h2v3.94h-2zM656 563.92h2v3.94h-2zM656 559.98h2v3.94h-2zM656 548.16h2v3.94h-2zM658 559.98h2v3.94h-2zM660 559.98h2v3.94h-2zM662 559.98h2v3.94h-2zM662 548.16h2v3.94h-2zM664 559.98h2v3.94h-2zM666 548.16h2v3.94h-2zM668 563.92h2v3.94h-2zM668 559.98h2v3.94h-2zM670 548.16h2v3.94h-2zM674 559.98h2v3.94h-2zM674 548.16h2v3.94h-2zM676 548.16h2v3.94h-2zM680 559.98h2v3.94h-2zM680 548.16h2v3.94h-2zM682 559.98h2v3.94h-2zM684 559.98h2v3.94h-2zM684 548.16h2v3.94h-2zM690 563.92h2v3.94h-2zM690 559.98h2v3.94h-2zM690 548.16h2v3.94h-2zM692 548.16h2v3.94h-2zM694 548.16h2v3.94h-2zM696 559.98h2v3.94h-2zM696 548.16h2v3.94h-2zM700 559.98h2v3.94h-2zM700 548.16h2v3.94h-2zM702 559.98h2v3.94h-2zM702 548.16h2v3.94h-2zM704 559.98h2v3.94h-2zM704 548.16h2v3.94h-2zM706 559.98h2v3.94h-2zM708 559.98h2v3.94h-2zM708 548.16h2v3.94h-2zM710 548.16h2v3.94h-2zM714 559.98h2v3.94h-2zM716 559.98h2v3.94h-2zM718 559.98h2v3.94h-2zM718 548.16h2v3.94h-2zM720 559.98h2v3.94h-2zM720 548.16h2v3.94h-2zM722 559.98h2v3.94h-2zM722 548.16h2v3.94h-2zM724 559.98h2v3.94h-2zM724 548.16h2v3.94h-2zM726 559.98h2v3.94h-2zM728 548.16h2v3.94h-2zM730 559.98h2v3.94h-2zM732 559.98h2v3.94h-2zM734 559.98h2v3.94h-2zM734 548.16h2v3.94h-2zM736 559.98h2v3.94h-2zM736 548.16h2v3.94h-2zM742 559.98h2v3.94h-2zM744 559.98h2v3.94h-2zM744 548.16h2v3.94h-2zM746 559.98h2v3.94h-2zM746 548.16h2v3.94h-2zM748 559.98h2v3.94h-2zM748 548.16h2v3.94h-2zM750 563.92h2v3.94h-2zM750 559.98h2v3.94h-2zM752 559.98h2v3.94h-2zM754 559.98h2v3.94h-2zM754 548.16h2v3.94h-2z"/><path fill="#34a3c8" d="M50 532.4h2v3.94h-2zM50 516.64h2v3.94h-2zM52 516.64h2v3.94h-2zM70 540.28h2v3.94h-2zM88 548.16h2v3.94h-2zM90 548.16h2v3.94h-2zM98 544.22h2v3.94h-2zM108 536.34h2v3.94h-2zM112 532.4h2v3.94h-2zM180 548.16h2v3.94h-2zM204 552.1h2v3.94h-2zM216 552.1h2v3.94h-2zM230 552.1h2v3.94h-2zM232 552.1h2v3.94h-2zM234 544.22h2v3.94h-2zM236 552.1h2v3.94h-2zM248 548.16h2v3.94h-2zM248 544.22h2v3.94h-2zM254 552.1h2v3.94h-2zM254 548.16h2v3.94h-2zM268 532.4h2v3.94h-2zM300 536.34h2v3.94h-2zM302 548.16h2v3.94h-2zM302 544.22h2v3.94h-2zM302 540.28h2v3.94h-2zM304 552.1h2v3.94h-2zM392 520.58h2v3.94h-2zM456 556.04h2v3.94h-2zM472 556.04h2v3.94h-2zM484 556.04h2v3.94h-2zM496 552.1h2v3.94h-2zM588 552.1h2v3.94h-2zM596 556.04h2v3.94h-2zM596 552.1h2v3.94h-2zM598 552.1h2v3.94h-2zM624 556.04h2v3.94h-2zM626 552.1h2v3.94h-2zM656 552.1h2v3.94h-2zM660 552.1h2v3.94h-2zM678 552.1h2v3.94h-2zM686 552.1h2v3.94h-2zM716 552.1h2v3.94h-2zM726 552.1h2v3.94h-2zM728 552.1h2v3.94h-2zM732 552.1h2v3.94h-2zM748 552.1h2v3.94h-2z"/><path fill="#52b8c9" d="M50 528.46h2v3.94h-2zM50 520.58h2v3.94h-2zM58 528.46h2v3.94h-2zM58 520.58h2v3.94h-2zM60 536.34h2v3.94h-2zM60 512.7h2v3.94h-2zM62 504.82h2v3.94h-2zM64 532.4h2v3.94h-2zM64 524.52h2v3.94h-2zM64 520.58h2v3.94h-2zM64 504.82h2v3.94h-2zM68 556.04h2v3.94h-2zM70 548.16h2v3.94h-2zM72 548.16h2v3.94h-2zM78 552.1h2v3.94h-2zM80 556.04h2v3.94h-2zM80 548.16h2v3.94h-2zM86 556.04h2v3.94h-2zM86 552.1h2v3.94h-2zM90 552.1h2v3.94h-2zM100 552.1h2v3.94h-2zM102 552.1h2v3.94h-2zM110 548.16h2v3.94h-2zM112 544.22h2v3.94h-2zM114 548.16h2v3.94h-2zM116 544.22h2v3.94h-2zM116 540.28h2v3.94h-2zM118 540.28h2v3.94h-2zM120 540.28h2v3.94h-2zM120 524.52h2v3.94h-2zM122 532.4h2v3.94h-2zM124 528.46h2v3.94h-2zM126 540.28h2v3.94h-2zM128 536.34h2v3.94h-2zM128 532.4h2v3.94h-2zM130 536.34h2v3.94h-2zM130 528.46h2v3.94h-2zM132 524.52h2v3.94h-2zM134 520.58h2v3.94h-2zM138 520.58h2v3.94h-2zM138 516.64h2v3.94h-2zM138 493h2v3.94h-2zM140 544.22h2v3.94h-2zM140 532.4h2v3.94h-2zM140 493h2v3.94h-2zM140 489.06h2v3.94h-2zM142 493h2v3.94h-2zM142 489.06h2v3.94h-2zM144 489.06h2v3.94h-2zM146 489.06h2v3.94h-2zM148 520.58h2v3.94h-2zM148 489.06h2v3.94h-2zM152 493h2v3.94h-2zM154 493h2v3.94h-2zM156 536.34h2v3.94h-2zM156 524.52h2v3.94h-2zM158 524.52h2v3.94h-2zM164 540.28h2v3.94h-2zM166 532.4h2v3.94h-2zM170 524.52h2v3.94h-2zM176 540.28h2v3.94h-2zM182 548.16h2v3.94h-2zM188 556.04h2v3.94h-2zM196 559.98h2v3.94h-2zM196 548.16h2v3.94h-2zM216 559.98h2v3.94h-2zM218 559.98h2v3.94h-2zM224 548.16h2v3.94h-2zM232 559.98h2v3.94h-2zM236 544.22h2v3.94h-2zM238 544.22h2v3.94h-2zM242 524.52h2v3.94h-2zM242 520.58h2v3.94h-2zM244 552.1h2v3.94h-2zM244 544.22h2v3.94h-2zM244 516.64h2v3.94h-2zM246 544.22h2v3.94h-2zM250 552.1h2v3.94h-2zM250 544.22h2v3.94h-2zM252 516.64h2v3.94h-2zM254 496.94h2v3.94h-2zM256 504.82h2v3.94h-2zM256 493h2v3.94h-2zM258 552.1h2v3.94h-2zM258 504.82h2v3.94h-2zM258 485.12h2v3.94h-2zM260 536.34h2v3.94h-2zM260 516.64h2v3.94h-2zM260 500.88h2v3.94h-2zM260 489.06h2v3.94h-2zM264 477.24h2v3.94h-2zM268 552.1h2v3.94h-2zM268 544.22h2v3.94h-2zM270 544.22h2v3.94h-2zM270 508.76h2v3.94h-2zM272 536.34h2v3.94h-2zM272 524.52h2v3.94h-2zM272 520.58h2v3.94h-2zM272 516.64h2v3.94h-2zM272 512.7h2v3.94h-2zM272 504.82h2v3.94h-2zM276 528.46h2v3.94h-2zM278 540.28h2v3.94h-2zM278 520.58h2v3.94h-2zM280 504.82h2v3.94h-2zM280 493h2v3.94h-2zM282 489.06h2v3.94h-2zM284 493h2v3.94h-2zM286 512.7h2v3.94h-2zM286 496.94h2v3.94h-2zM288 512.7h2v3.94h-2zM288 504.82h2v3.94h-2zM288 489.06h2v3.94h-2zM288 481.18h2v3.94h-2zM290 493h2v3.94h-2zM292 512.7h2v3.94h-2zM294 485.12h2v3.94h-2zM298 528.46h2v3.94h-2zM298 508.76h2v3.94h-2zM298 500.88h2v3.94h-2zM300 465.42h2v3.94h-2zM302 528.46h2v3.94h-2zM346 548.16h2v3.94h-2zM348 556.04h2v3.94h-2zM352 548.16h2v3.94h-2zM354 552.1h2v3.94h-2zM356 552.1h2v3.94h-2zM356 544.22h2v3.94h-2zM358 552.1h2v3.94h-2zM358 540.28h2v3.94h-2zM358 520.58h2v3.94h-2zM360 552.1h2v3.94h-2zM360 536.34h2v3.94h-2zM360 532.4h2v3.94h-2zM360 528.46h2v3.94h-2zM360 516.64h2v3.94h-2zM362 536.34h2v3.94h-2zM364 536.34h2v3.94h-2zM366 548.16h2v3.94h-2zM368 548.16h2v3.94h-2zM368 532.4h2v3.94h-2zM370 485.12h2v3.94h-2zM374 536.34h2v3.94h-2zM374 500.88h2v3.94h-2zM376 544.22h2v3.94h-2zM376 532.4h2v3.94h-2zM378 544.22h2v3.94h-2zM378 532.4h2v3.94h-2zM378 524.52h2v3.94h-2zM380 516.64h2v3.94h-2zM382 544.22h2v3.94h-2zM382 532.4h2v3.94h-2zM382 528.46h2v3.94h-2zM382 524.52h2v3.94h-2zM382 516.64h2v3.94h-2zM384 544.22h2v3.94h-2zM384 540.28h2v3.94h-2zM384 528.46h2v3.94h-2zM386 544.22h2v3.94h-2zM386 528.46h2v3.94h-2zM388 532.4h2v3.94h-2zM388 528.46h2v3.94h-2zM390 516.64h2v3.94h-2zM390 469.36h2v3.94h-2zM392 532.4h2v3.94h-2zM394 520.58h2v3.94h-2zM396 528.46h2v3.94h-2zM396 524.52h2v3.94h-2zM396 516.64h2v3.94h-2zM398 528.46h2v3.94h-2zM398 512.7h2v3.94h-2zM400 528.46h2v3.94h-2zM400 524.52h2v3.94h-2zM400 512.7h2v3.94h-2zM402 516.64h2v3.94h-2zM402 512.7h2v3.94h-2zM404 528.46h2v3.94h-2zM404 516.64h2v3.94h-2zM406 548.16h2v3.94h-2zM406 540.28h2v3.94h-2zM406 512.7h2v3.94h-2zM406 477.24h2v3.94h-2zM408 524.52h2v3.94h-2zM408 508.76h2v3.94h-2zM450 556.04h2v3.94h-2zM454 552.1h2v3.94h-2zM460 556.04h2v3.94h-2zM462 556.04h2v3.94h-2zM464 552.1h2v3.94h-2zM468 556.04h2v3.94h-2zM468 552.1h2v3.94h-2zM474 556.04h2v3.94h-2zM480 556.04h2v3.94h-2zM504 556.04h2v3.94h-2zM506 556.04h2v3.94h-2zM508 536.34h2v3.94h-2zM510 552.1h2v3.94h-2zM512 548.16h2v3.94h-2zM512 524.52h2v3.94h-2zM514 552.1h2v3.94h-2zM514 532.4h2v3.94h-2zM514 524.52h2v3.94h-2zM516 556.04h2v3.94h-2zM516 552.1h2v3.94h-2zM516 516.64h2v3.94h-2zM518 552.1h2v3.94h-2zM522 556.04h2v3.94h-2zM524 552.1h2v3.94h-2zM526 548.16h2v3.94h-2zM528 552.1h2v3.94h-2zM532 552.1h2v3.94h-2zM532 544.22h2v3.94h-2zM532 540.28h2v3.94h-2zM532 536.34h2v3.94h-2zM532 489.06h2v3.94h-2zM534 548.16h2v3.94h-2zM540 552.1h2v3.94h-2zM540 544.22h2v3.94h-2zM540 540.28h2v3.94h-2zM540 473.3h2v3.94h-2zM542 552.1h2v3.94h-2zM544 528.46h2v3.94h-2zM548 532.4h2v3.94h-2zM548 528.46h2v3.94h-2zM550 536.34h2v3.94h-2zM602 552.1h2v3.94h-2zM616 556.04h2v3.94h-2zM616 552.1h2v3.94h-2zM618 552.1h2v3.94h-2zM622 552.1h2v3.94h-2zM624 552.1h2v3.94h-2zM632 552.1h2v3.94h-2zM638 552.1h2v3.94h-2zM640 552.1h2v3.94h-2zM642 552.1h2v3.94h-2zM654 552.1h2v3.94h-2z"/><path fill="#4ab3c9" d="M50 524.52h2v3.94h-2zM52 528.46h2v3.94h-2zM56 520.58h2v3.94h-2zM60 504.82h2v3.94h-2zM64 516.64h2v3.94h-2zM68 552.1h2v3.94h-2zM70 544.22h2v3.94h-2zM74 548.16h2v3.94h-2zM76 552.1h2v3.94h-2zM78 548.16h2v3.94h-2zM84 556.04h2v3.94h-2zM98 552.1h2v3.94h-2zM108 552.1h2v3.94h-2zM110 552.1h2v3.94h-2zM112 540.28h2v3.94h-2zM118 536.34h2v3.94h-2zM124 532.4h2v3.94h-2zM126 532.4h2v3.94h-2zM136 520.58h2v3.94h-2zM136 512.7h2v3.94h-2zM148 493h2v3.94h-2zM152 489.06h2v3.94h-2zM154 524.52h2v3.94h-2zM154 489.06h2v3.94h-2zM158 520.58h2v3.94h-2zM182 552.1h2v3.94h-2zM184 556.04h2v3.94h-2zM186 556.04h2v3.94h-2zM190 556.04h2v3.94h-2zM194 556.04h2v3.94h-2zM234 552.1h2v3.94h-2zM240 552.1h2v3.94h-2zM244 520.58h2v3.94h-2zM246 520.58h2v3.94h-2zM248 524.52h2v3.94h-2zM248 520.58h2v3.94h-2zM252 548.16h2v3.94h-2zM252 500.88h2v3.94h-2zM260 493h2v3.94h-2zM260 485.12h2v3.94h-2zM262 548.16h2v3.94h-2zM262 485.12h2v3.94h-2zM262 481.18h2v3.94h-2zM264 548.16h2v3.94h-2zM266 552.1h2v3.94h-2zM266 540.28h2v3.94h-2zM268 540.28h2v3.94h-2zM272 528.46h2v3.94h-2zM274 524.52h2v3.94h-2zM286 485.12h2v3.94h-2zM286 481.18h2v3.94h-2zM300 540.28h2v3.94h-2zM304 540.28h2v3.94h-2zM304 536.34h2v3.94h-2zM356 548.16h2v3.94h-2zM356 540.28h2v3.94h-2zM360 544.22h2v3.94h-2zM362 544.22h2v3.94h-2zM366 520.58h2v3.94h-2zM376 536.34h2v3.94h-2zM378 540.28h2v3.94h-2zM378 536.34h2v3.94h-2zM378 493h2v3.94h-2zM380 540.28h2v3.94h-2zM384 524.52h2v3.94h-2zM390 520.58h2v3.94h-2zM392 528.46h2v3.94h-2zM394 532.4h2v3.94h-2zM394 516.64h2v3.94h-2zM394 512.7h2v3.94h-2zM396 512.7h2v3.94h-2zM402 532.4h2v3.94h-2zM406 520.58h2v3.94h-2zM406 516.64h2v3.94h-2zM408 516.64h2v3.94h-2zM454 556.04h2v3.94h-2zM458 556.04h2v3.94h-2zM460 552.1h2v3.94h-2zM466 556.04h2v3.94h-2zM470 556.04h2v3.94h-2zM478 552.1h2v3.94h-2zM482 552.1h2v3.94h-2zM524 548.16h2v3.94h-2zM528 548.16h2v3.94h-2zM534 544.22h2v3.94h-2zM536 544.22h2v3.94h-2zM536 540.28h2v3.94h-2zM538 544.22h2v3.94h-2zM542 540.28h2v3.94h-2zM542 536.34h2v3.94h-2zM544 540.28h2v3.94h-2zM546 536.34h2v3.94h-2zM546 532.4h2v3.94h-2zM550 532.4h2v3.94h-2zM552 532.4h2v3.94h-2zM552 528.46h2v3.94h-2zM554 528.46h2v3.94h-2zM554 520.58h2v3.94h-2zM556 520.58h2v3.94h-2zM594 556.04h2v3.94h-2zM594 552.1h2v3.94h-2zM598 556.04h2v3.94h-2zM600 556.04h2v3.94h-2zM602 556.04h2v3.94h-2zM612 556.04h2v3.94h-2zM614 552.1h2v3.94h-2zM634 552.1h2v3.94h-2zM664 552.1h2v3.94h-2z"/><path fill="#43aec8" d="M52 532.4h2v3.94h-2zM56 512.7h2v3.94h-2zM58 508.76h2v3.94h-2zM60 540.28h2v3.94h-2zM60 520.58h2v3.94h-2zM62 512.7h2v3.94h-2zM64 528.46h2v3.94h-2zM64 512.7h2v3.94h-2zM78 544.22h2v3.94h-2zM80 552.1h2v3.94h-2zM82 556.04h2v3.94h-2zM82 548.16h2v3.94h-2zM82 544.22h2v3.94h-2zM100 544.22h2v3.94h-2zM102 540.28h2v3.94h-2zM106 544.22h2v3.94h-2zM112 548.16h2v3.94h-2zM114 540.28h2v3.94h-2zM116 528.46h2v3.94h-2zM122 536.34h2v3.94h-2zM126 516.64h2v3.94h-2zM132 520.58h2v3.94h-2zM160 520.58h2v3.94h-2zM178 556.04h2v3.94h-2zM182 556.04h2v3.94h-2zM240 524.52h2v3.94h-2zM246 552.1h2v3.94h-2zM246 516.64h2v3.94h-2zM256 548.16h2v3.94h-2zM256 544.22h2v3.94h-2zM262 544.22h2v3.94h-2zM266 548.16h2v3.94h-2zM266 536.34h2v3.94h-2zM268 524.52h2v3.94h-2zM270 528.46h2v3.94h-2zM274 536.34h2v3.94h-2zM276 536.34h2v3.94h-2zM300 552.1h2v3.94h-2zM302 552.1h2v3.94h-2zM304 544.22h2v3.94h-2zM346 536.34h2v3.94h-2zM352 520.58h2v3.94h-2zM358 548.16h2v3.94h-2zM364 548.16h2v3.94h-2zM368 540.28h2v3.94h-2zM370 536.34h2v3.94h-2zM380 528.46h2v3.94h-2zM382 520.58h2v3.94h-2zM386 532.4h2v3.94h-2zM388 536.34h2v3.94h-2zM388 524.52h2v3.94h-2zM388 520.58h2v3.94h-2zM390 540.28h2v3.94h-2zM390 536.34h2v3.94h-2zM390 532.4h2v3.94h-2zM390 528.46h2v3.94h-2zM390 524.52h2v3.94h-2zM394 524.52h2v3.94h-2zM398 520.58h2v3.94h-2zM400 520.58h2v3.94h-2zM402 528.46h2v3.94h-2zM412 552.1h2v3.94h-2zM418 552.1h2v3.94h-2zM452 552.1h2v3.94h-2zM456 552.1h2v3.94h-2zM462 552.1h2v3.94h-2zM464 556.04h2v3.94h-2zM476 556.04h2v3.94h-2zM476 552.1h2v3.94h-2zM478 556.04h2v3.94h-2zM482 556.04h2v3.94h-2zM494 556.04h2v3.94h-2zM494 552.1h2v3.94h-2zM496 556.04h2v3.94h-2zM510 556.04h2v3.94h-2zM514 556.04h2v3.94h-2zM520 552.1h2v3.94h-2zM522 552.1h2v3.94h-2zM522 548.16h2v3.94h-2zM530 548.16h2v3.94h-2zM550 528.46h2v3.94h-2zM586 552.1h2v3.94h-2zM600 552.1h2v3.94h-2zM614 556.04h2v3.94h-2zM628 552.1h2v3.94h-2zM630 556.04h2v3.94h-2zM670 552.1h2v3.94h-2zM674 552.1h2v3.94h-2z"/><path fill="#2f9ec7" d="M52 524.52h2v3.94h-2zM52 520.58h2v3.94h-2zM68 536.34h2v3.94h-2zM72 556.04h2v3.94h-2zM72 540.28h2v3.94h-2zM74 540.28h2v3.94h-2zM76 540.28h2v3.94h-2zM78 540.28h2v3.94h-2zM104 540.28h2v3.94h-2zM180 552.1h2v3.94h-2zM192 556.04h2v3.94h-2zM218 552.1h2v3.94h-2zM220 552.1h2v3.94h-2zM228 552.1h2v3.94h-2zM230 556.04h2v3.94h-2zM238 552.1h2v3.94h-2zM240 544.22h2v3.94h-2zM242 544.22h2v3.94h-2zM244 548.16h2v3.94h-2zM248 552.1h2v3.94h-2zM250 508.76h2v3.94h-2zM252 552.1h2v3.94h-2zM252 504.82h2v3.94h-2zM254 493h2v3.94h-2zM256 552.1h2v3.94h-2zM258 489.06h2v3.94h-2zM260 552.1h2v3.94h-2zM260 544.22h2v3.94h-2zM264 552.1h2v3.94h-2zM264 544.22h2v3.94h-2zM266 544.22h2v3.94h-2zM418 548.16h2v3.94h-2zM626 556.04h2v3.94h-2zM628 556.04h2v3.94h-2zM636 552.1h2v3.94h-2zM640 556.04h2v3.94h-2zM646 556.04h2v3.94h-2zM658 552.1h2v3.94h-2zM662 552.1h2v3.94h-2zM666 552.1h2v3.94h-2zM668 552.1h2v3.94h-2zM672 552.1h2v3.94h-2zM676 552.1h2v3.94h-2zM688 552.1h2v3.94h-2zM698 552.1h2v3.94h-2zM702 552.1h2v3.94h-2zM736 552.1h2v3.94h-2zM738 552.1h2v3.94h-2zM752 552.1h2v3.94h-2z"/><path fill="#64c0c8" d="M56 536.34h2v3.94h-2zM56 504.82h2v3.94h-2zM58 512.7h2v3.94h-2zM58 504.82h2v3.94h-2zM60 532.4h2v3.94h-2zM62 540.28h2v3.94h-2zM62 524.52h2v3.94h-2zM64 536.34h2v3.94h-2zM68 548.16h2v3.94h-2zM68 544.22h2v3.94h-2zM76 548.16h2v3.94h-2zM82 552.1h2v3.94h-2zM88 556.04h2v3.94h-2zM104 544.22h2v3.94h-2zM106 559.98h2v3.94h-2zM106 556.04h2v3.94h-2zM108 544.22h2v3.94h-2zM110 544.22h2v3.94h-2zM120 544.22h2v3.94h-2zM122 540.28h2v3.94h-2zM122 524.52h2v3.94h-2zM124 559.98h2v3.94h-2zM124 540.28h2v3.94h-2zM126 536.34h2v3.94h-2zM126 528.46h2v3.94h-2zM128 520.58h2v3.94h-2zM130 532.4h2v3.94h-2zM130 520.58h2v3.94h-2zM132 528.46h2v3.94h-2zM132 516.64h2v3.94h-2zM136 556.04h2v3.94h-2zM136 524.52h2v3.94h-2zM136 516.64h2v3.94h-2zM140 536.34h2v3.94h-2zM140 528.46h2v3.94h-2zM142 544.22h2v3.94h-2zM142 520.58h2v3.94h-2zM144 493h2v3.94h-2zM146 544.22h2v3.94h-2zM146 532.4h2v3.94h-2zM146 520.58h2v3.94h-2zM146 493h2v3.94h-2zM148 544.22h2v3.94h-2zM148 528.46h2v3.94h-2zM150 524.52h2v3.94h-2zM150 493h2v3.94h-2zM150 489.06h2v3.94h-2zM152 532.4h2v3.94h-2zM152 528.46h2v3.94h-2zM152 524.52h2v3.94h-2zM154 540.28h2v3.94h-2zM154 536.34h2v3.94h-2zM154 520.58h2v3.94h-2zM156 528.46h2v3.94h-2zM156 493h2v3.94h-2zM158 532.4h2v3.94h-2zM160 536.34h2v3.94h-2zM160 532.4h2v3.94h-2zM166 536.34h2v3.94h-2zM168 532.4h2v3.94h-2zM168 520.58h2v3.94h-2zM170 528.46h2v3.94h-2zM172 528.46h2v3.94h-2zM172 524.52h2v3.94h-2zM172 520.58h2v3.94h-2zM174 536.34h2v3.94h-2zM176 544.22h2v3.94h-2zM176 528.46h2v3.94h-2zM178 520.58h2v3.94h-2zM188 548.16h2v3.94h-2zM198 559.98h2v3.94h-2zM212 559.98h2v3.94h-2zM214 559.98h2v3.94h-2zM224 559.98h2v3.94h-2zM238 524.52h2v3.94h-2zM254 508.76h2v3.94h-2zM254 500.88h2v3.94h-2zM256 524.52h2v3.94h-2zM258 500.88h2v3.94h-2zM258 496.94h2v3.94h-2zM260 524.52h2v3.94h-2zM260 512.7h2v3.94h-2zM260 508.76h2v3.94h-2zM262 540.28h2v3.94h-2zM262 528.46h2v3.94h-2zM262 524.52h2v3.94h-2zM262 520.58h2v3.94h-2zM262 512.7h2v3.94h-2zM262 508.76h2v3.94h-2zM264 532.4h2v3.94h-2zM264 528.46h2v3.94h-2zM266 532.4h2v3.94h-2zM266 528.46h2v3.94h-2zM266 524.52h2v3.94h-2zM266 516.64h2v3.94h-2zM266 508.76h2v3.94h-2zM268 536.34h2v3.94h-2zM268 528.46h2v3.94h-2zM270 536.34h2v3.94h-2zM270 532.4h2v3.94h-2zM272 540.28h2v3.94h-2zM272 532.4h2v3.94h-2zM272 500.88h2v3.94h-2zM272 493h2v3.94h-2zM274 540.28h2v3.94h-2zM274 516.64h2v3.94h-2zM274 508.76h2v3.94h-2zM274 504.82h2v3.94h-2zM274 500.88h2v3.94h-2zM276 532.4h2v3.94h-2zM276 500.88h2v3.94h-2zM278 524.52h2v3.94h-2zM278 504.82h2v3.94h-2zM278 500.88h2v3.94h-2zM280 552.1h2v3.94h-2zM280 524.52h2v3.94h-2zM280 508.76h2v3.94h-2zM282 532.4h2v3.94h-2zM284 520.58h2v3.94h-2zM284 500.88h2v3.94h-2zM284 481.18h2v3.94h-2zM286 540.28h2v3.94h-2zM286 524.52h2v3.94h-2zM286 508.76h2v3.94h-2zM286 489.06h2v3.94h-2zM286 465.42h2v3.94h-2zM288 536.34h2v3.94h-2zM288 493h2v3.94h-2zM290 536.34h2v3.94h-2zM290 496.94h2v3.94h-2zM290 485.12h2v3.94h-2zM290 477.24h2v3.94h-2zM292 536.34h2v3.94h-2zM292 528.46h2v3.94h-2zM292 508.76h2v3.94h-2zM292 493h2v3.94h-2zM294 544.22h2v3.94h-2zM294 540.28h2v3.94h-2zM294 532.4h2v3.94h-2zM294 508.76h2v3.94h-2zM294 500.88h2v3.94h-2zM296 508.76h2v3.94h-2zM296 500.88h2v3.94h-2zM298 548.16h2v3.94h-2zM298 532.4h2v3.94h-2zM300 548.16h2v3.94h-2zM300 544.22h2v3.94h-2zM300 528.46h2v3.94h-2zM300 524.52h2v3.94h-2zM302 532.4h2v3.94h-2zM302 500.88h2v3.94h-2zM302 489.06h2v3.94h-2zM332 552.1h2v3.94h-2zM334 552.1h2v3.94h-2zM342 556.04h2v3.94h-2zM350 548.16h2v3.94h-2zM350 528.46h2v3.94h-2zM352 552.1h2v3.94h-2zM354 544.22h2v3.94h-2zM356 536.34h2v3.94h-2zM358 532.4h2v3.94h-2zM358 524.52h2v3.94h-2zM362 528.46h2v3.94h-2zM362 524.52h2v3.94h-2zM364 532.4h2v3.94h-2zM366 516.64h2v3.94h-2zM368 528.46h2v3.94h-2zM370 544.22h2v3.94h-2zM372 540.28h2v3.94h-2zM372 536.34h2v3.94h-2zM374 548.16h2v3.94h-2zM374 544.22h2v3.94h-2zM374 532.4h2v3.94h-2zM376 548.16h2v3.94h-2zM380 536.34h2v3.94h-2zM380 524.52h2v3.94h-2zM382 536.34h2v3.94h-2zM384 512.7h2v3.94h-2zM386 536.34h2v3.94h-2zM386 504.82h2v3.94h-2zM390 512.7h2v3.94h-2zM392 536.34h2v3.94h-2zM396 520.58h2v3.94h-2zM396 489.06h2v3.94h-2zM398 516.64h2v3.94h-2zM398 489.06h2v3.94h-2zM398 485.12h2v3.94h-2zM400 532.4h2v3.94h-2zM400 508.76h2v3.94h-2zM402 524.52h2v3.94h-2zM402 481.18h2v3.94h-2zM404 524.52h2v3.94h-2zM404 512.7h2v3.94h-2zM404 508.76h2v3.94h-2zM408 528.46h2v3.94h-2zM424 552.1h2v3.94h-2zM428 552.1h2v3.94h-2zM430 552.1h2v3.94h-2zM438 552.1h2v3.94h-2zM440 556.04h2v3.94h-2zM442 556.04h2v3.94h-2zM458 552.1h2v3.94h-2zM466 552.1h2v3.94h-2zM472 552.1h2v3.94h-2zM480 552.1h2v3.94h-2zM484 552.1h2v3.94h-2zM486 556.04h2v3.94h-2zM502 552.1h2v3.94h-2zM506 540.28h2v3.94h-2zM508 556.04h2v3.94h-2zM508 548.16h2v3.94h-2zM508 540.28h2v3.94h-2zM510 536.34h2v3.94h-2zM512 552.1h2v3.94h-2zM512 540.28h2v3.94h-2zM518 556.04h2v3.94h-2zM518 528.46h2v3.94h-2zM520 556.04h2v3.94h-2zM520 536.34h2v3.94h-2zM520 528.46h2v3.94h-2zM522 540.28h2v3.94h-2zM522 528.46h2v3.94h-2zM524 540.28h2v3.94h-2zM524 528.46h2v3.94h-2zM526 528.46h2v3.94h-2zM528 540.28h2v3.94h-2zM528 536.34h2v3.94h-2zM528 532.4h2v3.94h-2zM530 552.1h2v3.94h-2zM530 544.22h2v3.94h-2zM530 532.4h2v3.94h-2zM530 528.46h2v3.94h-2zM532 548.16h2v3.94h-2zM532 532.4h2v3.94h-2zM532 528.46h2v3.94h-2zM534 540.28h2v3.94h-2zM534 536.34h2v3.94h-2zM534 532.4h2v3.94h-2zM534 528.46h2v3.94h-2zM536 552.1h2v3.94h-2zM536 512.7h2v3.94h-2zM538 548.16h2v3.94h-2zM538 532.4h2v3.94h-2zM538 528.46h2v3.94h-2zM540 536.34h2v3.94h-2zM540 528.46h2v3.94h-2zM542 548.16h2v3.94h-2zM542 524.52h2v3.94h-2zM544 548.16h2v3.94h-2zM544 536.34h2v3.94h-2zM546 548.16h2v3.94h-2zM546 540.28h2v3.94h-2zM546 493h2v3.94h-2zM550 508.76h2v3.94h-2zM550 504.82h2v3.94h-2zM552 524.52h2v3.94h-2zM552 500.88h2v3.94h-2zM554 524.52h2v3.94h-2zM554 500.88h2v3.94h-2zM554 496.94h2v3.94h-2zM556 524.52h2v3.94h-2zM558 489.06h2v3.94h-2zM560 489.06h2v3.94h-2zM562 485.12h2v3.94h-2zM570 469.36h2v3.94h-2zM618 556.04h2v3.94h-2zM622 559.98h2v3.94h-2zM628 559.98h2v3.94h-2zM634 559.98h2v3.94h-2zM648 559.98h2v3.94h-2zM672 559.98h2v3.94h-2zM676 559.98h2v3.94h-2zM692 559.98h2v3.94h-2zM694 559.98h2v3.94h-2zM712 559.98h2v3.94h-2zM740 559.98h2v3.94h-2z"/><path fill="#76c8c7" d="M56 532.4h2v3.94h-2zM56 528.46h2v3.94h-2zM56 516.64h2v3.94h-2zM56 508.76h2v3.94h-2zM58 540.28h2v3.94h-2zM58 524.52h2v3.94h-2zM58 516.64h2v3.94h-2zM60 516.64h2v3.94h-2zM60 508.76h2v3.94h-2zM62 528.46h2v3.94h-2zM62 516.64h2v3.94h-2zM64 508.76h2v3.94h-2zM66 540.28h2v3.94h-2zM94 556.04h2v3.94h-2zM98 556.04h2v3.94h-2zM100 548.16h2v3.94h-2zM108 556.04h2v3.94h-2zM110 559.98h2v3.94h-2zM110 556.04h2v3.94h-2zM112 559.98h2v3.94h-2zM114 544.22h2v3.94h-2zM116 559.98h2v3.94h-2zM116 556.04h2v3.94h-2zM116 536.34h2v3.94h-2zM120 536.34h2v3.94h-2zM120 532.4h2v3.94h-2zM126 520.58h2v3.94h-2zM126 512.7h2v3.94h-2zM128 524.52h2v3.94h-2zM128 516.64h2v3.94h-2zM130 524.52h2v3.94h-2zM130 508.76h2v3.94h-2zM130 504.82h2v3.94h-2zM132 532.4h2v3.94h-2zM132 504.82h2v3.94h-2zM134 532.4h2v3.94h-2zM134 524.52h2v3.94h-2zM134 516.64h2v3.94h-2zM134 508.76h2v3.94h-2zM134 500.88h2v3.94h-2zM134 496.94h2v3.94h-2zM136 500.88h2v3.94h-2zM136 496.94h2v3.94h-2zM138 512.7h2v3.94h-2zM138 508.76h2v3.94h-2zM138 504.82h2v3.94h-2zM138 496.94h2v3.94h-2zM140 540.28h2v3.94h-2zM140 508.76h2v3.94h-2zM140 485.12h2v3.94h-2zM142 532.4h2v3.94h-2zM142 473.3h2v3.94h-2zM144 544.22h2v3.94h-2zM144 540.28h2v3.94h-2zM144 536.34h2v3.94h-2zM144 528.46h2v3.94h-2zM144 481.18h2v3.94h-2zM146 536.34h2v3.94h-2zM146 524.52h2v3.94h-2zM146 504.82h2v3.94h-2zM146 496.94h2v3.94h-2zM148 536.34h2v3.94h-2zM148 524.52h2v3.94h-2zM148 516.64h2v3.94h-2zM150 536.34h2v3.94h-2zM150 528.46h2v3.94h-2zM150 516.64h2v3.94h-2zM150 500.88h2v3.94h-2zM152 520.58h2v3.94h-2zM152 512.7h2v3.94h-2zM152 485.12h2v3.94h-2zM154 544.22h2v3.94h-2zM154 532.4h2v3.94h-2zM154 496.94h2v3.94h-2zM154 485.12h2v3.94h-2zM154 477.24h2v3.94h-2zM156 544.22h2v3.94h-2zM156 520.58h2v3.94h-2zM156 508.76h2v3.94h-2zM156 504.82h2v3.94h-2zM156 489.06h2v3.94h-2zM156 481.18h2v3.94h-2zM156 469.36h2v3.94h-2zM158 544.22h2v3.94h-2zM158 536.34h2v3.94h-2zM160 544.22h2v3.94h-2zM160 540.28h2v3.94h-2zM160 528.46h2v3.94h-2zM160 516.64h2v3.94h-2zM160 500.88h2v3.94h-2zM162 544.22h2v3.94h-2zM162 528.46h2v3.94h-2zM162 489.06h2v3.94h-2zM162 485.12h2v3.94h-2zM162 477.24h2v3.94h-2zM164 544.22h2v3.94h-2zM164 516.64h2v3.94h-2zM164 489.06h2v3.94h-2zM164 477.24h2v3.94h-2zM166 524.52h2v3.94h-2zM166 516.64h2v3.94h-2zM166 496.94h2v3.94h-2zM166 493h2v3.94h-2zM166 477.24h2v3.94h-2zM168 536.34h2v3.94h-2zM168 524.52h2v3.94h-2zM168 504.82h2v3.94h-2zM168 485.12h2v3.94h-2zM170 536.34h2v3.94h-2zM170 504.82h2v3.94h-2zM172 540.28h2v3.94h-2zM172 481.18h2v3.94h-2zM174 544.22h2v3.94h-2zM174 540.28h2v3.94h-2zM174 493h2v3.94h-2zM174 473.3h2v3.94h-2zM176 516.64h2v3.94h-2zM176 489.06h2v3.94h-2zM178 536.34h2v3.94h-2zM178 524.52h2v3.94h-2zM178 512.7h2v3.94h-2zM178 500.88h2v3.94h-2zM180 559.98h2v3.94h-2zM186 559.98h2v3.94h-2zM190 559.98h2v3.94h-2zM192 548.16h2v3.94h-2zM200 559.98h2v3.94h-2zM204 548.16h2v3.94h-2zM208 559.98h2v3.94h-2zM212 548.16h2v3.94h-2zM216 548.16h2v3.94h-2zM220 559.98h2v3.94h-2zM220 548.16h2v3.94h-2zM222 559.98h2v3.94h-2zM226 559.98h2v3.94h-2zM228 548.16h2v3.94h-2zM230 548.16h2v3.94h-2zM234 540.28h2v3.94h-2zM238 540.28h2v3.94h-2zM238 532.4h2v3.94h-2zM242 536.34h2v3.94h-2zM242 528.46h2v3.94h-2zM244 540.28h2v3.94h-2zM246 540.28h2v3.94h-2zM246 528.46h2v3.94h-2zM248 556.04h2v3.94h-2zM248 540.28h2v3.94h-2zM250 536.34h2v3.94h-2zM250 532.4h2v3.94h-2zM250 528.46h2v3.94h-2zM250 516.64h2v3.94h-2zM252 528.46h2v3.94h-2zM252 508.76h2v3.94h-2zM256 540.28h2v3.94h-2zM256 528.46h2v3.94h-2zM256 508.76h2v3.94h-2zM256 496.94h2v3.94h-2zM258 536.34h2v3.94h-2zM258 520.58h2v3.94h-2zM258 516.64h2v3.94h-2zM258 512.7h2v3.94h-2zM260 532.4h2v3.94h-2zM260 520.58h2v3.94h-2zM260 504.82h2v3.94h-2zM260 481.18h2v3.94h-2zM262 536.34h2v3.94h-2zM262 516.64h2v3.94h-2zM262 489.06h2v3.94h-2zM264 536.34h2v3.94h-2zM264 520.58h2v3.94h-2zM264 500.88h2v3.94h-2zM264 489.06h2v3.94h-2zM268 520.58h2v3.94h-2zM268 516.64h2v3.94h-2zM268 496.94h2v3.94h-2zM270 552.1h2v3.94h-2zM270 540.28h2v3.94h-2zM270 520.58h2v3.94h-2zM270 516.64h2v3.94h-2zM272 556.04h2v3.94h-2zM272 496.94h2v3.94h-2zM274 528.46h2v3.94h-2zM274 520.58h2v3.94h-2zM276 559.98h2v3.94h-2zM276 524.52h2v3.94h-2zM276 520.58h2v3.94h-2zM276 508.76h2v3.94h-2zM276 493h2v3.94h-2zM278 536.34h2v3.94h-2zM278 528.46h2v3.94h-2zM278 496.94h2v3.94h-2zM280 516.64h2v3.94h-2zM280 512.7h2v3.94h-2zM280 500.88h2v3.94h-2zM280 496.94h2v3.94h-2zM280 489.06h2v3.94h-2zM280 485.12h2v3.94h-2zM282 524.52h2v3.94h-2zM282 520.58h2v3.94h-2zM282 516.64h2v3.94h-2zM282 496.94h2v3.94h-2zM282 485.12h2v3.94h-2zM284 540.28h2v3.94h-2zM284 536.34h2v3.94h-2zM284 528.46h2v3.94h-2zM284 524.52h2v3.94h-2zM284 496.94h2v3.94h-2zM284 489.06h2v3.94h-2zM286 532.4h2v3.94h-2zM286 528.46h2v3.94h-2zM286 520.58h2v3.94h-2zM286 504.82h2v3.94h-2zM286 493h2v3.94h-2zM286 473.3h2v3.94h-2zM286 469.36h2v3.94h-2zM288 532.4h2v3.94h-2zM288 528.46h2v3.94h-2zM288 508.76h2v3.94h-2zM288 496.94h2v3.94h-2zM290 528.46h2v3.94h-2zM290 508.76h2v3.94h-2zM290 504.82h2v3.94h-2zM290 500.88h2v3.94h-2zM290 489.06h2v3.94h-2zM290 481.18h2v3.94h-2zM292 520.58h2v3.94h-2zM292 516.64h2v3.94h-2zM292 500.88h2v3.94h-2zM292 481.18h2v3.94h-2zM294 520.58h2v3.94h-2zM294 516.64h2v3.94h-2zM294 504.82h2v3.94h-2zM294 496.94h2v3.94h-2zM294 493h2v3.94h-2zM294 481.18h2v3.94h-2zM296 548.16h2v3.94h-2zM296 528.46h2v3.94h-2zM296 512.7h2v3.94h-2zM296 496.94h2v3.94h-2zM296 485.12h2v3.94h-2zM296 481.18h2v3.94h-2zM298 556.04h2v3.94h-2zM298 524.52h2v3.94h-2zM298 520.58h2v3.94h-2zM298 489.06h2v3.94h-2zM300 559.98h2v3.94h-2zM300 532.4h2v3.94h-2zM300 520.58h2v3.94h-2zM300 512.7h2v3.94h-2zM300 504.82h2v3.94h-2zM300 489.06h2v3.94h-2zM300 473.3h2v3.94h-2zM300 469.36h2v3.94h-2zM302 520.58h2v3.94h-2zM302 516.64h2v3.94h-2zM302 512.7h2v3.94h-2zM302 508.76h2v3.94h-2zM302 504.82h2v3.94h-2zM304 559.98h2v3.94h-2zM332 556.04h2v3.94h-2zM336 556.04h2v3.94h-2zM338 556.04h2v3.94h-2zM346 556.04h2v3.94h-2zM346 532.4h2v3.94h-2zM346 528.46h2v3.94h-2zM348 548.16h2v3.94h-2zM348 544.22h2v3.94h-2zM350 524.52h2v3.94h-2zM352 536.34h2v3.94h-2zM352 528.46h2v3.94h-2zM352 524.52h2v3.94h-2zM354 540.28h2v3.94h-2zM354 532.4h2v3.94h-2zM354 520.58h2v3.94h-2zM354 516.64h2v3.94h-2zM356 528.46h2v3.94h-2zM360 524.52h2v3.94h-2zM360 520.58h2v3.94h-2zM362 540.28h2v3.94h-2zM362 532.4h2v3.94h-2zM364 552.1h2v3.94h-2zM364 544.22h2v3.94h-2zM364 528.46h2v3.94h-2zM364 524.52h2v3.94h-2zM364 516.64h2v3.94h-2zM364 512.7h2v3.94h-2zM366 544.22h2v3.94h-2zM366 540.28h2v3.94h-2zM366 512.7h2v3.94h-2zM366 508.76h2v3.94h-2zM368 536.34h2v3.94h-2zM368 489.06h2v3.94h-2zM370 508.76h2v3.94h-2zM372 524.52h2v3.94h-2zM374 540.28h2v3.94h-2zM374 528.46h2v3.94h-2zM374 524.52h2v3.94h-2zM376 540.28h2v3.94h-2zM378 528.46h2v3.94h-2zM378 520.58h2v3.94h-2zM380 552.1h2v3.94h-2zM380 544.22h2v3.94h-2zM380 520.58h2v3.94h-2zM384 536.34h2v3.94h-2zM384 520.58h2v3.94h-2zM386 548.16h2v3.94h-2zM386 540.28h2v3.94h-2zM386 516.64h2v3.94h-2zM388 516.64h2v3.94h-2zM388 504.82h2v3.94h-2zM394 536.34h2v3.94h-2zM394 508.76h2v3.94h-2zM398 532.4h2v3.94h-2zM398 508.76h2v3.94h-2zM404 477.24h2v3.94h-2zM406 552.1h2v3.94h-2zM406 544.22h2v3.94h-2zM406 528.46h2v3.94h-2zM406 524.52h2v3.94h-2zM440 552.1h2v3.94h-2zM442 552.1h2v3.94h-2zM444 552.1h2v3.94h-2zM446 556.04h2v3.94h-2zM446 552.1h2v3.94h-2zM448 552.1h2v3.94h-2zM486 552.1h2v3.94h-2zM488 556.04h2v3.94h-2zM490 556.04h2v3.94h-2zM490 552.1h2v3.94h-2zM510 540.28h2v3.94h-2zM510 532.4h2v3.94h-2zM512 528.46h2v3.94h-2zM514 528.46h2v3.94h-2zM516 536.34h2v3.94h-2zM516 528.46h2v3.94h-2zM518 536.34h2v3.94h-2zM520 548.16h2v3.94h-2zM520 544.22h2v3.94h-2zM520 532.4h2v3.94h-2zM522 536.34h2v3.94h-2zM522 532.4h2v3.94h-2zM526 540.28h2v3.94h-2zM530 493h2v3.94h-2zM534 552.1h2v3.94h-2zM536 548.16h2v3.94h-2zM538 536.34h2v3.94h-2zM538 477.24h2v3.94h-2zM542 532.4h2v3.94h-2zM544 520.58h2v3.94h-2zM546 552.1h2v3.94h-2zM546 544.22h2v3.94h-2zM548 544.22h2v3.94h-2zM548 540.28h2v3.94h-2zM556 473.3h2v3.94h-2zM558 493h2v3.94h-2zM558 469.36h2v3.94h-2zM560 465.42h2v3.94h-2zM560 461.48h2v3.94h-2zM564 481.18h2v3.94h-2zM572 465.42h2v3.94h-2zM576 457.54h2v3.94h-2zM620 559.98h2v3.94h-2zM626 559.98h2v3.94h-2zM630 559.98h2v3.94h-2zM632 559.98h2v3.94h-2zM638 559.98h2v3.94h-2zM644 559.98h2v3.94h-2zM646 559.98h2v3.94h-2zM666 559.98h2v3.94h-2zM670 559.98h2v3.94h-2zM678 559.98h2v3.94h-2zM686 559.98h2v3.94h-2zM688 559.98h2v3.94h-2zM698 559.98h2v3.94h-2zM710 559.98h2v3.94h-2zM728 559.98h2v3.94h-2zM738 559.98h2v3.94h-2z"/><path fill="#3ca8c8" d="M56 524.52h2v3.94h-2zM62 508.76h2v3.94h-2zM70 536.34h2v3.94h-2zM76 556.04h2v3.94h-2zM78 556.04h2v3.94h-2zM84 552.1h2v3.94h-2zM88 552.1h2v3.94h-2zM90 556.04h2v3.94h-2zM116 524.52h2v3.94h-2zM118 544.22h2v3.94h-2zM124 536.34h2v3.94h-2zM126 524.52h2v3.94h-2zM128 512.7h2v3.94h-2zM144 532.4h2v3.94h-2zM146 528.46h2v3.94h-2zM160 524.52h2v3.94h-2zM178 548.16h2v3.94h-2zM228 556.04h2v3.94h-2zM234 548.16h2v3.94h-2zM240 520.58h2v3.94h-2zM242 552.1h2v3.94h-2zM244 524.52h2v3.94h-2zM246 524.52h2v3.94h-2zM250 524.52h2v3.94h-2zM252 544.22h2v3.94h-2zM254 544.22h2v3.94h-2zM256 489.06h2v3.94h-2zM258 544.22h2v3.94h-2zM260 548.16h2v3.94h-2zM262 552.1h2v3.94h-2zM270 524.52h2v3.94h-2zM302 536.34h2v3.94h-2zM304 548.16h2v3.94h-2zM348 528.46h2v3.94h-2zM350 544.22h2v3.94h-2zM352 544.22h2v3.94h-2zM354 548.16h2v3.94h-2zM356 516.64h2v3.94h-2zM358 544.22h2v3.94h-2zM364 540.28h2v3.94h-2zM368 544.22h2v3.94h-2zM370 540.28h2v3.94h-2zM372 528.46h2v3.94h-2zM376 528.46h2v3.94h-2zM384 532.4h2v3.94h-2zM386 524.52h2v3.94h-2zM386 520.58h2v3.94h-2zM392 524.52h2v3.94h-2zM392 516.64h2v3.94h-2zM392 512.7h2v3.94h-2zM394 528.46h2v3.94h-2zM396 532.4h2v3.94h-2zM396 508.76h2v3.94h-2zM398 524.52h2v3.94h-2zM400 516.64h2v3.94h-2zM402 520.58h2v3.94h-2zM406 508.76h2v3.94h-2zM450 552.1h2v3.94h-2zM452 556.04h2v3.94h-2zM470 552.1h2v3.94h-2zM474 552.1h2v3.94h-2zM512 556.04h2v3.94h-2zM526 552.1h2v3.94h-2zM528 544.22h2v3.94h-2zM538 540.28h2v3.94h-2zM548 536.34h2v3.94h-2zM558 520.58h2v3.94h-2zM612 552.1h2v3.94h-2zM620 556.04h2v3.94h-2zM620 552.1h2v3.94h-2zM630 552.1h2v3.94h-2zM644 552.1h2v3.94h-2zM646 552.1h2v3.94h-2zM650 552.1h2v3.94h-2zM652 552.1h2v3.94h-2zM680 552.1h2v3.94h-2zM682 552.1h2v3.94h-2zM704 552.1h2v3.94h-2zM720 552.1h2v3.94h-2zM734 552.1h2v3.94h-2z"/><path fill="#2a99c6" d="M66 536.34h2v3.94h-2zM70 556.04h2v3.94h-2zM70 552.1h2v3.94h-2zM74 556.04h2v3.94h-2zM80 544.22h2v3.94h-2zM86 548.16h2v3.94h-2zM86 544.22h2v3.94h-2zM106 536.34h2v3.94h-2zM110 540.28h2v3.94h-2zM112 528.46h2v3.94h-2zM114 528.46h2v3.94h-2zM118 524.52h2v3.94h-2zM180 556.04h2v3.94h-2zM200 552.1h2v3.94h-2zM206 552.1h2v3.94h-2zM208 552.1h2v3.94h-2zM212 552.1h2v3.94h-2zM214 552.1h2v3.94h-2zM226 552.1h2v3.94h-2zM232 556.04h2v3.94h-2zM236 548.16h2v3.94h-2zM240 548.16h2v3.94h-2zM242 548.16h2v3.94h-2zM250 520.58h2v3.94h-2zM258 548.16h2v3.94h-2zM622 556.04h2v3.94h-2zM632 556.04h2v3.94h-2zM634 556.04h2v3.94h-2zM648 552.1h2v3.94h-2zM692 552.1h2v3.94h-2zM718 552.1h2v3.94h-2zM730 552.1h2v3.94h-2zM740 552.1h2v3.94h-2z"/><path fill="#2888c3" d="M72 552.1h2v3.94h-2zM102 548.16h2v3.94h-2zM198 552.1h2v3.94h-2zM668 556.04h2v3.94h-2zM694 552.1h2v3.94h-2zM696 552.1h2v3.94h-2zM700 552.1h2v3.94h-2zM712 552.1h2v3.94h-2zM722 552.1h2v3.94h-2zM744 552.1h2v3.94h-2zM754 552.1h2v3.94h-2z"/><path fill="#2494c5" d="M74 552.1h2v3.94h-2zM84 544.22h2v3.94h-2zM98 548.16h2v3.94h-2zM104 548.16h2v3.94h-2zM108 540.28h2v3.94h-2zM178 552.1h2v3.94h-2zM184 552.1h2v3.94h-2zM202 552.1h2v3.94h-2zM210 552.1h2v3.94h-2zM238 548.16h2v3.94h-2zM246 548.16h2v3.94h-2zM250 548.16h2v3.94h-2zM416 548.16h2v3.94h-2zM492 556.04h2v3.94h-2zM636 556.04h2v3.94h-2zM638 556.04h2v3.94h-2zM644 556.04h2v3.94h-2zM654 556.04h2v3.94h-2zM706 552.1h2v3.94h-2zM708 552.1h2v3.94h-2zM710 552.1h2v3.94h-2zM724 552.1h2v3.94h-2zM746 552.1h2v3.94h-2zM750 552.1h2v3.94h-2z"/><path fill="#492e87" d="M92 548.16h2v3.94h-2z"/><path fill="#5350a6" d="M92 544.22h2v3.94h-2zM210 556.04h2v3.94h-2zM222 556.04h2v3.94h-2zM224 556.04h2v3.94h-2z"/><path fill="#397bc0" d="M94 552.1h2v3.94h-2zM96 548.16h2v3.94h-2zM188 552.1h2v3.94h-2zM194 552.1h2v3.94h-2zM656 556.04h2v3.94h-2zM664 556.04h2v3.94h-2zM678 556.04h2v3.94h-2zM694 556.04h2v3.94h-2z"/><path fill="#4274bf" d="M94 548.16h2v3.94h-2zM192 552.1h2v3.94h-2zM414 552.1h2v3.94h-2zM662 556.04h2v3.94h-2zM666 556.04h2v3.94h-2zM680 556.04h2v3.94h-2zM682 556.04h2v3.94h-2zM692 556.04h2v3.94h-2zM698 556.04h2v3.94h-2zM700 556.04h2v3.94h-2zM704 556.04h2v3.94h-2zM710 556.04h2v3.94h-2zM714 556.04h2v3.94h-2zM722 556.04h2v3.94h-2zM726 556.04h2v3.94h-2zM728 556.04h2v3.94h-2zM740 556.04h2v3.94h-2zM748 556.04h2v3.94h-2zM752 556.04h2v3.94h-2z"/><path fill="#50459c" d="M94 544.22h2v3.94h-2zM184 548.16h2v3.94h-2zM198 556.04h2v3.94h-2zM212 556.04h2v3.94h-2zM412 548.16h2v3.94h-2z"/><path fill="#1f8fc4" d="M102 544.22h2v3.94h-2zM110 532.4h2v3.94h-2zM196 552.1h2v3.94h-2zM224 552.1h2v3.94h-2zM492 552.1h2v3.94h-2zM642 556.04h2v3.94h-2zM650 556.04h2v3.94h-2zM658 556.04h2v3.94h-2zM660 556.04h2v3.94h-2zM672 556.04h2v3.94h-2zM674 556.04h2v3.94h-2zM684 552.1h2v3.94h-2zM690 552.1h2v3.94h-2zM714 552.1h2v3.94h-2zM742 552.1h2v3.94h-2z"/><path fill="#4a62b2" d="M186 552.1h2v3.94h-2zM190 552.1h2v3.94h-2zM196 556.04h2v3.94h-2zM202 556.04h2v3.94h-2zM206 556.04h2v3.94h-2zM218 556.04h2v3.94h-2zM220 556.04h2v3.94h-2zM416 552.1h2v3.94h-2zM706 556.04h2v3.94h-2zM720 556.04h2v3.94h-2zM724 556.04h2v3.94h-2zM736 556.04h2v3.94h-2zM742 556.04h2v3.94h-2zM744 556.04h2v3.94h-2zM746 556.04h2v3.94h-2z"/><path fill="#466bb9" d="M200 556.04h2v3.94h-2zM216 556.04h2v3.94h-2zM688 556.04h2v3.94h-2zM696 556.04h2v3.94h-2zM702 556.04h2v3.94h-2zM708 556.04h2v3.94h-2zM716 556.04h2v3.94h-2zM730 556.04h2v3.94h-2zM734 556.04h2v3.94h-2zM738 556.04h2v3.94h-2z"/><path fill="#4f59ac" d="M204 556.04h2v3.94h-2zM208 556.04h2v3.94h-2zM214 556.04h2v3.94h-2zM226 556.04h2v3.94h-2zM414 548.16h2v3.94h-2zM712 556.04h2v3.94h-2zM718 556.04h2v3.94h-2zM732 556.04h2v3.94h-2zM750 556.04h2v3.94h-2zM754 556.04h2v3.94h-2z"/><path fill="#3082c2" d="M222 552.1h2v3.94h-2zM648 556.04h2v3.94h-2zM652 556.04h2v3.94h-2zM670 556.04h2v3.94h-2zM676 556.04h2v3.94h-2zM684 556.04h2v3.94h-2zM686 556.04h2v3.94h-2zM690 556.04h2v3.94h-2z"/></g>
<rect x="50" y="432" width="706" height="141" fill="url(#st)" shape-rendering="crispEdges"/>
<path fill="#fff" fill-opacity="0.16" shape-rendering="crispEdges" d="M50 568h706v1h-706zM50 564h706v1h-706zM50 560h706v1h-706zM50 556h706v1h-706zM50 552h706v1h-706zM50 548h706v1h-706zM50 544h706v1h-706zM50 540h706v1h-706zM50 536h706v1h-706zM50 532h706v1h-706zM50 528h706v1h-706zM50 525h706v1h-706zM50 521h706v1h-706zM50 517h706v1h-706zM50 513h706v1h-706zM50 509h706v1h-706zM50 505h706v1h-706zM50 501h706v1h-706zM50 497h706v1h-706zM50 493h706v1h-706zM50 489h706v1h-706zM50 485h706v1h-706zM50 481h706v1h-706zM50 477h706v1h-706zM50 473h706v1h-706zM50 469h706v1h-706zM50 465h706v1h-706zM50 461h706v1h-706zM50 458h706v1h-706zM50 454h706v1h-706zM50 450h706v1h-706zM50 446h706v1h-706zM50 442h706v1h-706zM50 438h706v1h-706zM50 434h706v1h-706z"/>
<rect x="44" y="572" width="712" height="1" fill="#626977"/><rect x="105" y="573" width="1" height="5" fill="#626977"/><text x="105.5" y="588.9" font-size="10.8" fill="#555b67" text-anchor="middle">21:20</text><rect x="223" y="573" width="1" height="5" fill="#626977"/><text x="223.5" y="588.9" font-size="10.8" fill="#555b67" text-anchor="middle">21:25</text><rect x="340" y="573" width="1" height="5" fill="#626977"/><text x="340.5" y="588.9" font-size="10.8" fill="#555b67" text-anchor="middle">21:30</text><rect x="458" y="573" width="1" height="5" fill="#626977"/><text x="458.5" y="588.9" font-size="10.8" fill="#555b67" text-anchor="middle">21:35</text><rect x="576" y="573" width="1" height="5" fill="#626977"/><text x="576.5" y="588.9" font-size="10.8" fill="#555b67" text-anchor="middle">21:40</text><rect x="693" y="573" width="1" height="5" fill="#626977"/><text x="693.5" y="588.9" font-size="10.8" fill="#555b67" text-anchor="middle">21:45</text><text x="756.3" y="587.9" font-size="9.2" fill="#6b717c" text-anchor="start" textLength="17.6" lengthAdjust="spacingAndGlyphs">UTC</text>
<rect x="776" y="433" width="8" height="8" fill="#46237d"/><rect x="776" y="443" width="8" height="8" fill="#5350a6"/><rect x="776" y="453" width="8" height="8" fill="#4274bf"/><rect x="776" y="463" width="8" height="8" fill="#1f8fc4"/><rect x="776" y="473" width="8" height="8" fill="#34a3c8"/><rect x="776" y="483" width="8" height="8" fill="#52b8c9"/><rect x="776" y="493" width="8" height="8" fill="#9ad8c5"/><text x="773" y="437.1" font-size="8.7" fill="#555b67" text-anchor="end">220000</text><text x="773" y="470.3" font-size="8.7" fill="#555b67" text-anchor="end">110000</text><text x="773" y="502.6" font-size="8.7" fill="#555b67" text-anchor="end">1</text>
</svg>
</body></html>
